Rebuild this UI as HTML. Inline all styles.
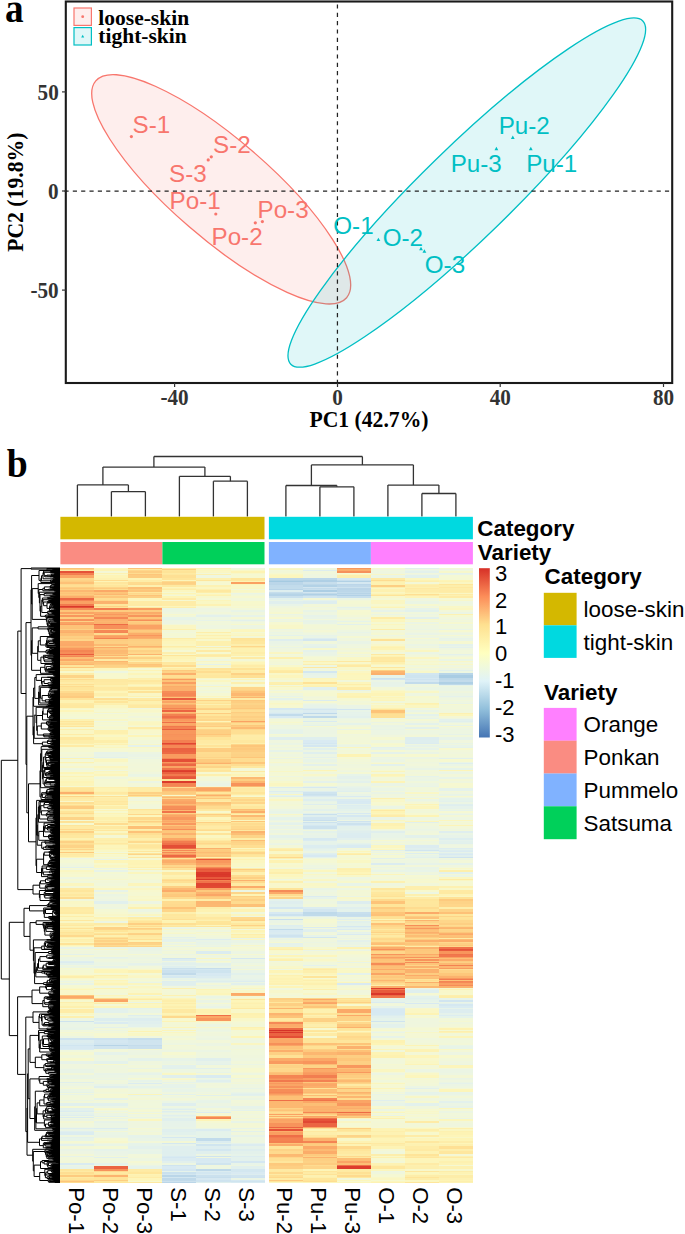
<!DOCTYPE html>
<html><head><meta charset="utf-8"><style>
html,body{margin:0;padding:0;background:#fff;width:685px;height:1234px;overflow:hidden}
svg{display:block;position:absolute;left:0;top:0}
body{position:relative}
</style></head><body>
<svg width="685" height="1234" viewBox="0 0 685 1234">
<text x="0" y="0" font-size="40.5" style="font-family:'Liberation Serif',serif;font-weight:bold" transform="translate(5.1 22.4) scale(0.92 1)">a</text>
<ellipse cx="221.2" cy="189.3" rx="165.8" ry="49.3" transform="rotate(40.85 221.2 189.3)" fill="#F8766D" fill-opacity="0.12" stroke="#F8766D" stroke-width="1.3"/>
<ellipse cx="466.8" cy="192.6" rx="245.8" ry="45.2" transform="rotate(-44.27 466.8 192.6)" fill="#00BFC4" fill-opacity="0.12" stroke="#00BFC4" stroke-width="1.3"/>
<line x1="337.44" y1="4.38" x2="337.44" y2="382" stroke="#222" stroke-width="1.25" stroke-dasharray="4.17 4.17"/>
<line x1="64.46" y1="191.1" x2="671" y2="191.1" stroke="#222" stroke-width="1.25" stroke-dasharray="4.17 4.17"/>
<circle cx="131.4" cy="136.6" r="1.6" fill="#F8766D"/>
<circle cx="208.2" cy="159.9" r="1.6" fill="#F8766D"/>
<circle cx="211.3" cy="156.8" r="1.6" fill="#F8766D"/>
<circle cx="215.8" cy="214" r="1.6" fill="#F8766D"/>
<circle cx="255.3" cy="222.8" r="1.6" fill="#F8766D"/>
<circle cx="262.4" cy="221.6" r="1.6" fill="#F8766D"/>
<path d="M512.8 135.60L514.70 139.00L510.90 139.00Z" fill="#00BFC4"/>
<path d="M496.4 146.80L498.30 150.20L494.50 150.20Z" fill="#00BFC4"/>
<path d="M530.8 146.80L532.70 150.20L528.90 150.20Z" fill="#00BFC4"/>
<path d="M378.4 237.70L380.30 241.10L376.50 241.10Z" fill="#00BFC4"/>
<path d="M421 246.80L422.90 250.20L419.10 250.20Z" fill="#00BFC4"/>
<path d="M424.4 249.30L426.30 252.70L422.50 252.70Z" fill="#00BFC4"/>
<text x="132.5" y="133.3" font-size="24.2" style="font-family:'Liberation Sans',sans-serif" text-anchor="start" fill="#F8766D" >S-1</text>
<text x="213.0" y="153.1" font-size="24.2" style="font-family:'Liberation Sans',sans-serif" text-anchor="start" fill="#F8766D" >S-2</text>
<text x="169.0" y="181.6" font-size="24.2" style="font-family:'Liberation Sans',sans-serif" text-anchor="start" fill="#F8766D" >S-3</text>
<text x="169.6" y="209.4" font-size="24.2" style="font-family:'Liberation Sans',sans-serif" text-anchor="start" fill="#F8766D" >Po-1</text>
<text x="211.5" y="244.6" font-size="24.2" style="font-family:'Liberation Sans',sans-serif" text-anchor="start" fill="#F8766D" >Po-2</text>
<text x="257.5" y="217.9" font-size="24.2" style="font-family:'Liberation Sans',sans-serif" text-anchor="start" fill="#F8766D" >Po-3</text>
<text x="498.7" y="134.1" font-size="24.2" style="font-family:'Liberation Sans',sans-serif" text-anchor="start" fill="#00BFC4" >Pu-2</text>
<text x="450.7" y="171.9" font-size="24.2" style="font-family:'Liberation Sans',sans-serif" text-anchor="start" fill="#00BFC4" >Pu-3</text>
<text x="526.2" y="171.9" font-size="24.2" style="font-family:'Liberation Sans',sans-serif" text-anchor="start" fill="#00BFC4" >Pu-1</text>
<text x="333.3" y="234.4" font-size="24.2" style="font-family:'Liberation Sans',sans-serif" text-anchor="start" fill="#00BFC4" >O-1</text>
<text x="382.7" y="245.6" font-size="24.2" style="font-family:'Liberation Sans',sans-serif" text-anchor="start" fill="#00BFC4" >O-2</text>
<text x="424.8" y="273.1" font-size="24.2" style="font-family:'Liberation Sans',sans-serif" text-anchor="start" fill="#00BFC4" >O-3</text>
<rect x="65.8" y="1.5" width="606.4" height="381.5" fill="none" stroke="#1a1a1a" stroke-width="2.1"/>
<line x1="62" y1="91.9" x2="66" y2="91.9" stroke="#333" stroke-width="1.2"/>
<text x="0" y="0" font-size="22.5" style="font-family:'Liberation Serif',serif;font-weight:bold" text-anchor="end" fill="#333" transform="translate(58.7 99.5) scale(0.94 1)">50</text>
<line x1="62" y1="191.0" x2="66" y2="191.0" stroke="#333" stroke-width="1.2"/>
<text x="0" y="0" font-size="22.5" style="font-family:'Liberation Serif',serif;font-weight:bold" text-anchor="end" fill="#333" transform="translate(58.7 198.6) scale(0.94 1)">0</text>
<line x1="62" y1="290.1" x2="66" y2="290.1" stroke="#333" stroke-width="1.2"/>
<text x="0" y="0" font-size="22.5" style="font-family:'Liberation Serif',serif;font-weight:bold" text-anchor="end" fill="#333" transform="translate(58.7 297.70000000000005) scale(0.94 1)">-50</text>
<line x1="174.6" y1="383" x2="174.6" y2="387" stroke="#333" stroke-width="1.2"/>
<text x="0" y="0" font-size="22.5" style="font-family:'Liberation Serif',serif;font-weight:bold" text-anchor="middle" fill="#333" transform="translate(174.6 405.1) scale(0.94 1)">-40</text>
<line x1="337.5" y1="383" x2="337.5" y2="387" stroke="#333" stroke-width="1.2"/>
<text x="0" y="0" font-size="22.5" style="font-family:'Liberation Serif',serif;font-weight:bold" text-anchor="middle" fill="#333" transform="translate(337.5 405.1) scale(0.94 1)">0</text>
<line x1="500.2" y1="383" x2="500.2" y2="387" stroke="#333" stroke-width="1.2"/>
<text x="0" y="0" font-size="22.5" style="font-family:'Liberation Serif',serif;font-weight:bold" text-anchor="middle" fill="#333" transform="translate(500.2 405.1) scale(0.94 1)">40</text>
<line x1="663.5" y1="383" x2="663.5" y2="387" stroke="#333" stroke-width="1.2"/>
<text x="0" y="0" font-size="22.5" style="font-family:'Liberation Serif',serif;font-weight:bold" text-anchor="middle" fill="#333" transform="translate(663.5 405.1) scale(0.94 1)">80</text>
<text x="0" y="0" font-size="23.2" style="font-family:'Liberation Serif',serif;font-weight:bold" text-anchor="middle" fill="#000" transform="translate(369 427) scale(0.935 1)">PC1 (42.7%)</text>
<text x="0" y="0" font-size="23.2" style="font-family:'Liberation Serif',serif;font-weight:bold" text-anchor="middle" transform="translate(23.2 192.2) rotate(-90) scale(0.935 1)">PC2 (19.8%)</text>
<rect x="74" y="8" width="17.4" height="17.4" fill="#F8766D" fill-opacity="0.12" stroke="#F8766D" stroke-width="1.2"/>
<rect x="74" y="27.6" width="17.4" height="17.4" fill="#00BFC4" fill-opacity="0.12" stroke="#00BFC4" stroke-width="1.2"/>
<circle cx="82.7" cy="16.7" r="1.4" fill="#F8766D"/>
<path d="M82.7 34.74L84.22 37.46L81.18 37.46Z" fill="#00BFC4"/>
<text x="98.3" y="24.5" font-size="21.5" style="font-family:'Liberation Serif',serif;font-weight:bold" text-anchor="start" fill="#000" >loose-skin</text>
<text x="98.3" y="43" font-size="21.5" style="font-family:'Liberation Serif',serif;font-weight:bold" text-anchor="start" fill="#000" >tight-skin</text>
<text x="0" y="0" font-size="41" style="font-family:'Liberation Serif',serif;font-weight:bold" transform="translate(6.7 477.4) scale(0.92 1)">b</text>
<line x1="111.4" y1="516.5" x2="111.4" y2="491.6" stroke="#333" stroke-width="1.3"/>
<line x1="145.4" y1="516.5" x2="145.4" y2="491.6" stroke="#333" stroke-width="1.3"/>
<line x1="111.4" y1="491.6" x2="145.4" y2="491.6" stroke="#333" stroke-width="1.3"/>
<line x1="77.4" y1="516.5" x2="77.4" y2="484.9" stroke="#333" stroke-width="1.3"/>
<line x1="128.4" y1="491.6" x2="128.4" y2="484.9" stroke="#333" stroke-width="1.3"/>
<line x1="77.4" y1="484.9" x2="128.4" y2="484.9" stroke="#333" stroke-width="1.3"/>
<line x1="213.4" y1="516.5" x2="213.4" y2="481.2" stroke="#333" stroke-width="1.3"/>
<line x1="247.4" y1="516.5" x2="247.4" y2="481.2" stroke="#333" stroke-width="1.3"/>
<line x1="213.4" y1="481.2" x2="247.4" y2="481.2" stroke="#333" stroke-width="1.3"/>
<line x1="179.4" y1="516.5" x2="179.4" y2="476.3" stroke="#333" stroke-width="1.3"/>
<line x1="230.4" y1="481.2" x2="230.4" y2="476.3" stroke="#333" stroke-width="1.3"/>
<line x1="179.4" y1="476.3" x2="230.4" y2="476.3" stroke="#333" stroke-width="1.3"/>
<line x1="102.9" y1="484.9" x2="102.9" y2="467.1" stroke="#333" stroke-width="1.3"/>
<line x1="204.9" y1="476.3" x2="204.9" y2="467.1" stroke="#333" stroke-width="1.3"/>
<line x1="102.9" y1="467.1" x2="204.9" y2="467.1" stroke="#333" stroke-width="1.3"/>
<line x1="319.9" y1="516.5" x2="319.9" y2="486.8" stroke="#333" stroke-width="1.3"/>
<line x1="353.9" y1="516.5" x2="353.9" y2="486.8" stroke="#333" stroke-width="1.3"/>
<line x1="319.9" y1="486.8" x2="353.9" y2="486.8" stroke="#333" stroke-width="1.3"/>
<line x1="285.9" y1="516.5" x2="285.9" y2="485.5" stroke="#333" stroke-width="1.3"/>
<line x1="336.9" y1="486.8" x2="336.9" y2="485.5" stroke="#333" stroke-width="1.3"/>
<line x1="285.9" y1="485.5" x2="336.9" y2="485.5" stroke="#333" stroke-width="1.3"/>
<line x1="421.9" y1="516.5" x2="421.9" y2="493.5" stroke="#333" stroke-width="1.3"/>
<line x1="455.9" y1="516.5" x2="455.9" y2="493.5" stroke="#333" stroke-width="1.3"/>
<line x1="421.9" y1="493.5" x2="455.9" y2="493.5" stroke="#333" stroke-width="1.3"/>
<line x1="387.9" y1="516.5" x2="387.9" y2="485.1" stroke="#333" stroke-width="1.3"/>
<line x1="438.9" y1="493.5" x2="438.9" y2="485.1" stroke="#333" stroke-width="1.3"/>
<line x1="387.9" y1="485.1" x2="438.9" y2="485.1" stroke="#333" stroke-width="1.3"/>
<line x1="311.4" y1="485.5" x2="311.4" y2="464.9" stroke="#333" stroke-width="1.3"/>
<line x1="413.4" y1="485.1" x2="413.4" y2="464.9" stroke="#333" stroke-width="1.3"/>
<line x1="311.4" y1="464.9" x2="413.4" y2="464.9" stroke="#333" stroke-width="1.3"/>
<line x1="153.9" y1="467.1" x2="153.9" y2="456.5" stroke="#333" stroke-width="1.3"/>
<line x1="362.4" y1="464.9" x2="362.4" y2="456.5" stroke="#333" stroke-width="1.3"/>
<line x1="153.9" y1="456.5" x2="362.4" y2="456.5" stroke="#333" stroke-width="1.3"/>
<rect x="60.4" y="516.8" width="204.1" height="22.5" fill="#D4B800"/>
<rect x="268.9" y="516.8" width="204" height="22.5" fill="#00D9E0"/>
<rect x="60.4" y="542" width="102" height="22.3" fill="#FA8C82"/>
<rect x="162.4" y="542" width="102.1" height="22.3" fill="#00D05A"/>
<rect x="268.9" y="542" width="102" height="22.3" fill="#80B2FF"/>
<rect x="370.9" y="542" width="102" height="22.3" fill="#FF80FF"/>
<text x="477.3" y="535.6" font-size="22.4" style="font-family:'Liberation Sans',sans-serif;font-weight:bold" text-anchor="start" fill="#000" >Category</text>
<text x="477.8" y="559.9" font-size="22.4" style="font-family:'Liberation Sans',sans-serif;font-weight:bold" text-anchor="start" fill="#000" >Variety</text>

<defs><linearGradient id="cb" x1="0" y1="0" x2="0" y2="1"><stop offset="0" stop-color="#D73027"/><stop offset="0.1667" stop-color="#FC8D59"/><stop offset="0.3333" stop-color="#FEE090"/><stop offset="0.5" stop-color="#FFFFBF"/><stop offset="0.6667" stop-color="#E0F3F8"/><stop offset="0.8333" stop-color="#91BFDB"/><stop offset="1" stop-color="#4575B4"/></linearGradient></defs>
<rect x="479" y="568.2" width="10.8" height="169.3" fill="url(#cb)"/>
<text x="495" y="580.7" font-size="22" style="font-family:'Liberation Sans',sans-serif" text-anchor="start" fill="#000" >3</text>
<text x="495" y="607.5500000000001" font-size="22" style="font-family:'Liberation Sans',sans-serif" text-anchor="start" fill="#000" >2</text>
<text x="495" y="634.4000000000001" font-size="22" style="font-family:'Liberation Sans',sans-serif" text-anchor="start" fill="#000" >1</text>
<text x="495" y="661.25" font-size="22" style="font-family:'Liberation Sans',sans-serif" text-anchor="start" fill="#000" >0</text>
<text x="495" y="688.1" font-size="22" style="font-family:'Liberation Sans',sans-serif" text-anchor="start" fill="#000" >-1</text>
<text x="495" y="714.95" font-size="22" style="font-family:'Liberation Sans',sans-serif" text-anchor="start" fill="#000" >-2</text>
<text x="495" y="741.8000000000001" font-size="22" style="font-family:'Liberation Sans',sans-serif" text-anchor="start" fill="#000" >-3</text>
<text x="544.6" y="583.8" font-size="22.4" style="font-family:'Liberation Sans',sans-serif;font-weight:bold" text-anchor="start" fill="#000" >Category</text>
<rect x="543.8" y="592.8" width="32.8" height="32.5" fill="#D4B800"/>
<rect x="543.8" y="625.3" width="32.8" height="32.6" fill="#00D9E0"/>
<text x="583.6" y="617.4" font-size="22.4" style="font-family:'Liberation Sans',sans-serif" text-anchor="start" fill="#000" >loose-skin</text>
<text x="583.6" y="649.8" font-size="22.4" style="font-family:'Liberation Sans',sans-serif" text-anchor="start" fill="#000" >tight-skin</text>
<text x="544" y="699.6" font-size="22.4" style="font-family:'Liberation Sans',sans-serif;font-weight:bold" text-anchor="start" fill="#000" >Variety</text>
<rect x="543.8" y="707.9" width="32.8" height="32.9" fill="#FF80FF"/>
<text x="583.6" y="732.4" font-size="22.4" style="font-family:'Liberation Sans',sans-serif" text-anchor="start" fill="#000" >Orange</text>
<rect x="543.8" y="740.6999999999999" width="32.8" height="32.9" fill="#FA8C82"/>
<text x="583.6" y="765.1999999999999" font-size="22.4" style="font-family:'Liberation Sans',sans-serif" text-anchor="start" fill="#000" >Ponkan</text>
<rect x="543.8" y="773.5" width="32.8" height="32.9" fill="#80B2FF"/>
<text x="583.6" y="798.0" font-size="22.4" style="font-family:'Liberation Sans',sans-serif" text-anchor="start" fill="#000" >Pummelo</text>
<rect x="543.8" y="806.3" width="32.8" height="32.9" fill="#00D05A"/>
<text x="583.6" y="830.8" font-size="22.4" style="font-family:'Liberation Sans',sans-serif" text-anchor="start" fill="#000" >Satsuma</text>
<text x="0" y="0" font-size="22.8" style="font-family:'Liberation Sans',sans-serif" transform="translate(68.90 1187.2) rotate(90) scale(0.974 1)">Po-1</text>
<text x="0" y="0" font-size="22.8" style="font-family:'Liberation Sans',sans-serif" transform="translate(102.90 1187.2) rotate(90) scale(0.974 1)">Po-2</text>
<text x="0" y="0" font-size="22.8" style="font-family:'Liberation Sans',sans-serif" transform="translate(136.90 1187.2) rotate(90) scale(0.974 1)">Po-3</text>
<text x="0" y="0" font-size="22.8" style="font-family:'Liberation Sans',sans-serif" transform="translate(170.90 1187.2) rotate(90) scale(0.974 1)">S-1</text>
<text x="0" y="0" font-size="22.8" style="font-family:'Liberation Sans',sans-serif" transform="translate(204.90 1187.2) rotate(90) scale(0.974 1)">S-2</text>
<text x="0" y="0" font-size="22.8" style="font-family:'Liberation Sans',sans-serif" transform="translate(238.90 1187.2) rotate(90) scale(0.974 1)">S-3</text>
<text x="0" y="0" font-size="22.8" style="font-family:'Liberation Sans',sans-serif" transform="translate(277.40 1187.2) rotate(90) scale(0.974 1)">Pu-2</text>
<text x="0" y="0" font-size="22.8" style="font-family:'Liberation Sans',sans-serif" transform="translate(311.40 1187.2) rotate(90) scale(0.974 1)">Pu-1</text>
<text x="0" y="0" font-size="22.8" style="font-family:'Liberation Sans',sans-serif" transform="translate(345.40 1187.2) rotate(90) scale(0.974 1)">Pu-3</text>
<text x="0" y="0" font-size="22.8" style="font-family:'Liberation Sans',sans-serif" transform="translate(379.40 1187.2) rotate(90) scale(0.974 1)">O-1</text>
<text x="0" y="0" font-size="22.8" style="font-family:'Liberation Sans',sans-serif" transform="translate(413.40 1187.2) rotate(90) scale(0.974 1)">O-2</text>
<text x="0" y="0" font-size="22.8" style="font-family:'Liberation Sans',sans-serif" transform="translate(447.40 1187.2) rotate(90) scale(0.974 1)">O-3</text>
<path d="M53.1 569.0H60.0M53.1 569.5H60.0M53.1 569.0V569.5M52.5 569.3H53.1M52.5 570.0H60.0M52.5 569.3V570.0M46.8 568.5H60.0M46.8 569.7H52.5M46.8 568.5V569.7M31.0 568.0H60.0M31.0 569.1H46.8M31.0 568.0V569.1M50.6 571.5H60.0M50.6 572.0H60.0M50.6 571.5V572.0M50.6 572.5H60.0M50.6 573.0H60.0M50.6 572.5V573.0M50.0 571.8H50.6M50.0 572.8H50.6M50.0 571.8V572.8M54.5 573.5H60.0M54.5 574.0H60.0M54.5 573.5V574.0M53.9 573.8H54.5M53.9 574.5H60.0M53.9 573.8V574.5M51.6 574.2H53.9M51.6 575.0H60.0M51.6 574.2V575.0M51.0 574.6H51.6M51.0 575.5H60.0M51.0 574.6V575.5M46.9 575.1H51.0M46.9 576.0H60.0M46.9 575.1V576.0M49.9 576.5H60.0M49.9 577.0H60.0M49.9 576.5V577.0M44.8 575.6H46.9M44.8 576.8H49.9M44.8 575.6V576.8M44.2 572.3H50.0M44.2 576.2H44.8M44.2 572.3V576.2M43.6 571.0H60.0M43.6 574.2H44.2M43.6 571.0V574.2M54.8 578.0H60.0M54.8 578.5H60.0M54.8 578.0V578.5M54.2 578.3H54.8M54.2 579.0H60.0M54.2 578.3V579.0M53.6 577.5H60.0M53.6 578.7H54.2M53.6 577.5V578.7M53.0 578.1H53.6M53.0 579.5H60.0M53.0 578.1V579.5M43.0 572.6H43.6M43.0 578.8H53.0M43.0 572.6V578.8M52.3 580.5H60.0M52.3 581.0H60.0M52.3 580.5V581.0M51.7 580.8H52.3M51.7 581.5H60.0M51.7 580.8V581.5M51.1 581.2H51.7M51.1 582.0H60.0M51.1 581.2V582.0M50.5 580.0H60.0M50.5 581.6H51.1M50.5 580.0V581.6M41.5 575.7H43.0M41.5 580.8H50.5M41.5 575.7V580.8M40.9 578.3H41.5M40.9 582.5H60.0M40.9 578.3V582.5M39.0 570.5H60.0M39.0 580.4H40.9M39.0 570.5V580.4M55.0 583.5H60.0M55.0 584.0H60.0M55.0 583.5V584.0M52.2 583.8H55.0M52.2 584.5H60.0M52.2 583.8V584.5M51.6 583.0H60.0M51.6 584.2H52.2M51.6 583.0V584.2M54.3 585.5H60.0M54.3 586.0H60.0M54.3 585.5V586.0M53.7 585.8H54.3M53.7 586.5H60.0M53.7 585.8V586.5M51.2 585.0H60.0M51.2 586.2H53.7M51.2 585.0V586.2M50.6 585.6H51.2M50.6 587.0H60.0M50.6 585.6V587.0M50.0 586.3H50.6M50.0 587.5H60.0M50.0 586.3V587.5M53.1 588.0H60.0M53.1 588.5H60.0M53.1 588.0V588.5M52.5 588.3H53.1M52.5 589.0H60.0M52.5 588.3V589.0M50.1 588.7H52.5M50.1 589.5H60.0M50.1 588.7V589.5M48.6 589.1H50.1M48.6 590.0H60.0M48.6 589.1V590.0M44.4 586.9H50.0M44.4 589.6H48.6M44.4 586.9V589.6M54.1 590.5H60.0M54.1 591.0H60.0M54.1 590.5V591.0M42.9 588.3H44.4M42.9 590.8H54.1M42.9 588.3V590.8M55.6 591.5H60.0M55.6 592.0H60.0M55.6 591.5V592.0M54.5 591.8H55.6M54.5 592.5H60.0M54.5 591.8V592.5M53.2 594.0H60.0M53.2 594.5H60.0M53.2 594.0V594.5M52.6 593.5H60.0M52.6 594.3H53.2M52.6 593.5V594.3M45.6 593.0H60.0M45.6 593.9H52.6M45.6 593.0V593.9M55.2 595.0H60.0M55.2 595.5H60.0M55.2 595.0V595.5M50.9 596.0H60.0M50.9 596.5H60.0M50.9 596.0V596.5M49.9 595.3H55.2M49.9 596.3H50.9M49.9 595.3V596.3M44.2 593.5H45.6M44.2 595.8H49.9M44.2 593.5V595.8M53.4 597.5H60.0M53.4 598.0H60.0M53.4 597.5V598.0M52.8 597.0H60.0M52.8 597.8H53.4M52.8 597.0V597.8M47.4 597.4H52.8M47.4 598.5H60.0M47.4 597.4V598.5M51.6 599.0H60.0M51.6 599.5H60.0M51.6 599.0V599.5M51.0 599.3H51.6M51.0 600.0H60.0M51.0 599.3V600.0M49.3 601.0H60.0M49.3 601.5H60.0M49.3 601.0V601.5M48.7 600.5H60.0M48.7 601.3H49.3M48.7 600.5V601.3M48.1 600.9H48.7M48.1 602.0H60.0M48.1 600.9V602.0M47.5 601.5H48.1M47.5 602.5H60.0M47.5 601.5V602.5M51.9 604.0H60.0M51.9 604.5H60.0M51.9 604.0V604.5M51.3 603.5H60.0M51.3 604.3H51.9M51.3 603.5V604.3M53.3 605.0H60.0M53.3 605.5H60.0M53.3 605.0V605.5M50.7 603.9H51.3M50.7 605.3H53.3M50.7 603.9V605.3M53.1 606.5H60.0M53.1 607.0H60.0M53.1 606.5V607.0M52.5 606.8H53.1M52.5 607.5H60.0M52.5 606.8V607.5M51.9 607.2H52.5M51.9 608.0H60.0M51.9 607.2V608.0M51.3 606.0H60.0M51.3 607.6H51.9M51.3 606.0V607.6M55.3 609.0H60.0M55.3 609.5H60.0M55.3 609.0V609.5M54.7 609.3H55.3M54.7 610.0H60.0M54.7 609.3V610.0M54.1 608.5H60.0M54.1 609.7H54.7M54.1 608.5V609.7M50.7 606.8H51.3M50.7 609.1H54.1M50.7 606.8V609.1M50.1 604.6H50.7M50.1 608.0H50.7M50.1 604.6V608.0M49.5 606.3H50.1M49.5 610.5H60.0M49.5 606.3V610.5M47.0 603.0H60.0M47.0 608.4H49.5M47.0 603.0V608.4M43.6 602.0H47.5M43.6 605.7H47.0M43.6 602.0V605.7M43.0 599.7H51.0M43.0 603.9H43.6M43.0 599.7V603.9M42.4 598.0H47.4M42.4 601.8H43.0M42.4 598.0V601.8M48.5 611.0H60.0M48.5 611.5H60.0M48.5 611.0V611.5M52.9 612.5H60.0M52.9 613.0H60.0M52.9 612.5V613.0M52.3 612.0H60.0M52.3 612.8H52.9M52.3 612.0V612.8M51.7 612.4H52.3M51.7 613.5H60.0M51.7 612.4V613.5M53.3 614.0H60.0M53.3 614.5H60.0M53.3 614.0V614.5M48.3 613.0H51.7M48.3 614.3H53.3M48.3 613.0V614.3M47.7 611.3H48.5M47.7 613.6H48.3M47.7 611.3V613.6M41.8 599.9H42.4M41.8 612.5H47.7M41.8 599.9V612.5M54.5 615.5H60.0M54.5 616.0H60.0M54.5 615.5V616.0M47.9 615.8H54.5M47.9 616.5H60.0M47.9 615.8V616.5M45.7 615.0H60.0M45.7 616.2H47.9M45.7 615.0V616.2M45.1 615.6H45.7M45.1 617.0H60.0M45.1 615.6V617.0M40.6 606.2H41.8M40.6 616.3H45.1M40.6 606.2V616.3M40.0 594.6H44.2M40.0 611.3H40.6M40.0 594.6V611.3M39.4 592.2H54.5M39.4 602.9H40.0M39.4 592.2V602.9M38.8 589.5H42.9M38.8 597.6H39.4M38.8 589.5V597.6M38.2 583.6H51.6M38.2 593.5H38.8M38.2 583.6V593.5M53.3 618.5H60.0M53.3 619.0H60.0M53.3 618.5V619.0M53.3 619.5H60.0M53.3 620.0H60.0M53.3 619.5V620.0M52.7 618.8H53.3M52.7 619.8H53.3M52.7 618.8V619.8M54.0 620.5H60.0M54.0 621.0H60.0M54.0 620.5V621.0M54.4 621.5H60.0M54.4 622.0H60.0M54.4 621.5V622.0M50.0 620.8H54.0M50.0 621.8H54.4M50.0 620.8V621.8M56.5 622.5H60.0M56.5 623.0H60.0M56.5 622.5V623.0M50.6 622.8H56.5M50.6 623.5H60.0M50.6 622.8V623.5M50.6 624.0H60.0M50.6 624.5H60.0M50.6 624.0V624.5M50.0 623.2H50.6M50.0 624.3H50.6M50.0 623.2V624.3M49.4 621.3H50.0M49.4 623.7H50.0M49.4 621.3V623.7M48.8 619.3H52.7M48.8 622.5H49.4M48.8 619.3V622.5M50.8 625.0H60.0M50.8 625.5H60.0M50.8 625.0V625.5M48.2 620.9H48.8M48.2 625.3H50.8M48.2 620.9V625.3M47.6 623.1H48.2M47.6 626.0H60.0M47.6 623.1V626.0M47.0 618.0H60.0M47.0 624.6H47.6M47.0 618.0V624.6M46.4 617.5H60.0M46.4 621.3H47.0M46.4 617.5V621.3M32.2 588.6H38.2M32.2 619.4H46.4M32.2 588.6V619.4M31.6 575.5H39.0M31.6 604.0H32.2M31.6 575.5V604.0M49.2 626.5H60.0M49.2 627.0H60.0M49.2 626.5V627.0M53.9 627.5H60.0M53.9 628.0H60.0M53.9 627.5V628.0M55.6 631.0H60.0M55.6 631.5H60.0M55.6 631.0V631.5M55.0 631.3H55.6M55.0 632.0H60.0M55.0 631.3V632.0M54.4 631.7H55.0M54.4 632.5H60.0M54.4 631.7V632.5M53.8 632.1H54.4M53.8 633.0H60.0M53.8 632.1V633.0M53.2 630.5H60.0M53.2 632.6H53.8M53.2 630.5V632.6M52.6 631.6H53.2M52.6 633.5H60.0M52.6 631.6V633.5M52.0 632.6H52.6M52.0 634.0H60.0M52.0 632.6V634.0M51.4 630.0H60.0M51.4 633.3H52.0M51.4 630.0V633.3M50.8 629.5H60.0M50.8 631.7H51.4M50.8 629.5V631.7M50.2 630.6H50.8M50.2 634.5H60.0M50.2 630.6V634.5M50.8 635.0H60.0M50.8 635.5H60.0M50.8 635.0V635.5M50.2 635.3H50.8M50.2 636.0H60.0M50.2 635.3V636.0M49.6 632.6H50.2M49.6 635.7H50.2M49.6 632.6V635.7M49.0 629.0H60.0M49.0 634.1H49.6M49.0 629.0V634.1M48.4 628.5H60.0M48.4 631.6H49.0M48.4 628.5V631.6M47.8 627.8H53.9M47.8 630.1H48.4M47.8 627.8V630.1M38.1 626.8H49.2M38.1 628.9H47.8M38.1 626.8V628.9M52.1 637.0H60.0M52.1 637.5H60.0M52.1 637.0V637.5M51.5 637.3H52.1M51.5 638.0H60.0M51.5 637.3V638.0M54.4 638.5H60.0M54.4 639.0H60.0M54.4 638.5V639.0M53.8 638.8H54.4M53.8 639.5H60.0M53.8 638.8V639.5M53.2 639.2H53.8M53.2 640.0H60.0M53.2 639.2V640.0M52.6 639.6H53.2M52.6 640.5H60.0M52.6 639.6V640.5M53.5 642.0H60.0M53.5 642.5H60.0M53.5 642.0V642.5M52.9 641.5H60.0M52.9 642.3H53.5M52.9 641.5V642.3M49.5 641.0H60.0M49.5 641.9H52.9M49.5 641.0V641.9M55.4 644.0H60.0M55.4 644.5H60.0M55.4 644.0V644.5M54.8 643.5H60.0M54.8 644.3H55.4M54.8 643.5V644.3M53.6 643.0H60.0M53.6 643.9H54.8M53.6 643.0V643.9M48.9 641.5H49.5M48.9 643.5H53.6M48.9 641.5V643.5M48.3 640.1H52.6M48.3 642.5H48.9M48.3 640.1V642.5M47.7 641.3H48.3M47.7 645.0H60.0M47.7 641.3V645.0M47.1 637.7H51.5M47.1 643.2H47.7M47.1 637.7V643.2M46.5 640.4H47.1M46.5 645.5H60.0M46.5 640.4V645.5M56.0 646.5H60.0M56.0 647.0H60.0M56.0 646.5V647.0M48.5 646.0H60.0M48.5 646.8H56.0M48.5 646.0V646.8M47.0 646.4H48.5M47.0 647.5H60.0M47.0 646.4V647.5M45.9 643.0H46.5M45.9 647.0H47.0M45.9 643.0V647.0M40.3 636.5H60.0M40.3 645.0H45.9M40.3 636.5V645.0M53.9 648.5H60.0M53.9 649.0H60.0M53.9 648.5V649.0M51.9 648.8H53.9M51.9 649.5H60.0M51.9 648.8V649.5M51.3 648.0H60.0M51.3 649.2H51.9M51.3 648.0V649.2M49.7 648.6H51.3M49.7 650.0H60.0M49.7 648.6V650.0M49.1 649.3H49.7M49.1 650.5H60.0M49.1 649.3V650.5M46.6 649.9H49.1M46.6 651.0H60.0M46.6 649.9V651.0M49.2 652.0H60.0M49.2 652.5H60.0M49.2 652.0V652.5M48.6 652.3H49.2M48.6 653.0H60.0M48.6 652.3V653.0M48.0 651.5H60.0M48.0 652.7H48.6M48.0 651.5V652.7M52.9 654.0H60.0M52.9 654.5H60.0M52.9 654.0V654.5M49.2 653.5H60.0M49.2 654.3H52.9M49.2 653.5V654.3M47.4 652.1H48.0M47.4 653.9H49.2M47.4 652.1V653.9M46.0 650.5H46.6M46.0 653.0H47.4M46.0 650.5V653.0M38.3 640.8H40.3M38.3 651.8H46.0M38.3 640.8V651.8M54.1 655.0H60.0M54.1 655.5H60.0M54.1 655.0V655.5M53.2 656.5H60.0M53.2 657.0H60.0M53.2 656.5V657.0M53.5 657.5H60.0M53.5 658.0H60.0M53.5 657.5V658.0M48.3 657.8H53.5M48.3 658.5H60.0M48.3 657.8V658.5M47.7 656.8H53.2M47.7 658.2H48.3M47.7 656.8V658.2M45.1 656.0H60.0M45.1 657.5H47.7M45.1 656.0V657.5M52.9 659.5H60.0M52.9 660.0H60.0M52.9 659.5V660.0M52.3 659.0H60.0M52.3 659.8H52.9M52.3 659.0V659.8M51.7 659.4H52.3M51.7 660.5H60.0M51.7 659.4V660.5M54.0 662.0H60.0M54.0 662.5H60.0M54.0 662.0V662.5M53.4 661.5H60.0M53.4 662.3H54.0M53.4 661.5V662.3M52.8 661.9H53.4M52.8 663.0H60.0M52.8 661.9V663.0M52.2 661.0H60.0M52.2 662.5H52.8M52.2 661.0V662.5M44.6 660.0H51.7M44.6 661.8H52.2M44.6 660.0V661.8M44.0 656.8H45.1M44.0 660.9H44.6M44.0 656.8V660.9M43.4 655.3H54.1M43.4 658.8H44.0M43.4 655.3V658.8M40.9 657.1H43.4M40.9 663.5H60.0M40.9 657.1V663.5M37.7 646.3H38.3M37.7 660.3H40.9M37.7 646.3V660.3M32.2 627.9H38.1M32.2 653.3H37.7M32.2 627.9V653.3M53.6 664.5H60.0M53.6 665.0H60.0M53.6 664.5V665.0M53.0 664.0H60.0M53.0 664.8H53.6M53.0 664.0V664.8M53.5 666.0H60.0M53.5 666.5H60.0M53.5 666.0V666.5M52.9 665.5H60.0M52.9 666.3H53.5M52.9 665.5V666.3M52.8 667.0H60.0M52.8 667.5H60.0M52.8 667.0V667.5M50.7 665.9H52.9M50.7 667.3H52.8M50.7 665.9V667.3M51.7 668.0H60.0M51.7 668.5H60.0M51.7 668.0V668.5M51.1 668.3H51.7M51.1 669.0H60.0M51.1 668.3V669.0M48.1 668.7H51.1M48.1 669.5H60.0M48.1 668.7V669.5M47.5 669.1H48.1M47.5 670.0H60.0M47.5 669.1V670.0M55.1 670.5H60.0M55.1 671.0H60.0M55.1 670.5V671.0M46.9 669.6H47.5M46.9 670.8H55.1M46.9 669.6V670.8M46.3 666.6H50.7M46.3 670.2H46.9M46.3 666.6V670.2M49.1 672.0H60.0M49.1 672.5H60.0M49.1 672.0V672.5M48.5 671.5H60.0M48.5 672.3H49.1M48.5 671.5V672.3M45.7 668.4H46.3M45.7 671.9H48.5M45.7 668.4V671.9M44.9 664.4H53.0M44.9 670.2H45.7M44.9 664.4V670.2M52.2 673.0H60.0M52.2 673.5H60.0M52.2 673.0V673.5M40.5 667.3H44.9M40.5 673.3H52.2M40.5 667.3V673.3M31.6 640.6H32.2M31.6 670.3H40.5M31.6 640.6V670.3M31.0 589.7H31.6M31.0 655.4H31.6M31.0 589.7V655.4M55.2 675.0H60.0M55.2 675.5H60.0M55.2 675.0V675.5M55.2 676.0H60.0M55.2 676.5H60.0M55.2 676.0V676.5M54.6 675.3H55.2M54.6 676.3H55.2M54.6 675.3V676.3M54.0 674.5H60.0M54.0 675.8H54.6M54.0 674.5V675.8M53.4 674.0H60.0M53.4 675.2H54.0M53.4 674.0V675.2M47.2 677.0H60.0M47.2 677.5H60.0M47.2 677.0V677.5M51.7 678.0H60.0M51.7 678.5H60.0M51.7 678.0V678.5M51.1 678.3H51.7M51.1 679.0H60.0M51.1 678.3V679.0M52.7 679.5H60.0M52.7 680.0H60.0M52.7 679.5V680.0M52.1 679.8H52.7M52.1 680.5H60.0M52.1 679.8V680.5M52.9 681.5H60.0M52.9 682.0H60.0M52.9 681.5V682.0M51.7 681.0H60.0M51.7 681.8H52.9M51.7 681.0V681.8M51.1 680.2H52.1M51.1 681.4H51.7M51.1 680.2V681.4M50.5 678.7H51.1M50.5 680.8H51.1M50.5 678.7V680.8M51.7 682.5H60.0M51.7 683.0H60.0M51.7 682.5V683.0M52.7 683.5H60.0M52.7 684.0H60.0M52.7 683.5V684.0M51.4 684.5H60.0M51.4 685.0H60.0M51.4 684.5V685.0M50.8 683.8H52.7M50.8 684.8H51.4M50.8 683.8V684.8M47.9 682.8H51.7M47.9 684.3H50.8M47.9 682.8V684.3M44.1 679.7H50.5M44.1 683.5H47.9M44.1 679.7V683.5M42.1 681.6H44.1M42.1 685.5H60.0M42.1 681.6V685.5M41.5 677.3H47.2M41.5 683.6H42.1M41.5 677.3V683.6M36.2 674.6H53.4M36.2 680.4H41.5M36.2 674.6V680.4M51.2 686.5H60.0M51.2 687.0H60.0M51.2 686.5V687.0M49.3 687.5H60.0M49.3 688.0H60.0M49.3 687.5V688.0M48.7 686.8H51.2M48.7 687.8H49.3M48.7 686.8V687.8M57.8 689.5H60.0M57.8 690.0H60.0M57.8 689.5V690.0M57.2 689.8H57.8M57.2 690.5H60.0M57.2 689.8V690.5M51.4 689.0H60.0M51.4 690.2H57.2M51.4 689.0V690.2M50.8 688.5H60.0M50.8 689.6H51.4M50.8 688.5V689.6M54.0 691.0H60.0M54.0 691.5H60.0M54.0 691.0V691.5M50.2 689.1H50.8M50.2 691.3H54.0M50.2 689.1V691.3M49.6 690.2H50.2M49.6 692.0H60.0M49.6 690.2V692.0M54.4 693.0H60.0M54.4 693.5H60.0M54.4 693.0V693.5M53.8 692.5H60.0M53.8 693.3H54.4M53.8 692.5V693.3M52.0 694.0H60.0M52.0 694.5H60.0M52.0 694.0V694.5M51.4 694.3H52.0M51.4 695.0H60.0M51.4 694.3V695.0M50.8 692.9H53.8M50.8 694.7H51.4M50.8 692.9V694.7M51.0 695.5H60.0M51.0 696.0H60.0M51.0 695.5V696.0M50.2 693.8H50.8M50.2 695.8H51.0M50.2 693.8V695.8M49.6 694.8H50.2M49.6 696.5H60.0M49.6 694.8V696.5M49.0 691.1H49.6M49.0 695.7H49.6M49.0 691.1V695.7M52.1 697.5H60.0M52.1 698.0H60.0M52.1 697.5V698.0M51.5 697.8H52.1M51.5 698.5H60.0M51.5 697.8V698.5M50.9 697.0H60.0M50.9 698.2H51.5M50.9 697.0V698.2M48.4 693.4H49.0M48.4 697.6H50.9M48.4 693.4V697.6M52.5 700.0H60.0M52.5 700.5H60.0M52.5 700.0V700.5M50.2 699.5H60.0M50.2 700.3H52.5M50.2 699.5V700.3M49.6 699.9H50.2M49.6 701.0H60.0M49.6 699.9V701.0M49.0 699.0H60.0M49.0 700.5H49.6M49.0 699.0V700.5M49.1 702.0H60.0M49.1 702.5H60.0M49.1 702.0V702.5M48.5 701.5H60.0M48.5 702.3H49.1M48.5 701.5V702.3M45.4 699.8H49.0M45.4 701.9H48.5M45.4 699.8V701.9M42.1 695.5H48.4M42.1 700.8H45.4M42.1 695.5V700.8M40.4 687.3H48.7M40.4 698.2H42.1M40.4 687.3V698.2M39.8 692.7H40.4M39.8 703.0H60.0M39.8 692.7V703.0M39.2 686.0H60.0M39.2 697.9H39.8M39.2 686.0V697.9M50.4 704.5H60.0M50.4 705.0H60.0M50.4 704.5V705.0M49.3 704.0H60.0M49.3 704.8H50.4M49.3 704.0V704.8M48.7 703.5H60.0M48.7 704.4H49.3M48.7 703.5V704.4M47.9 704.0H48.7M47.9 705.5H60.0M47.9 704.0V705.5M38.6 692.0H39.2M38.6 704.8H47.9M38.6 692.0V704.8M34.8 677.5H36.2M34.8 698.4H38.6M34.8 677.5V698.4M45.8 706.0H60.0M45.8 706.5H60.0M45.8 706.0V706.5M33.6 688.0H34.8M33.6 706.3H45.8M33.6 688.0V706.3M53.3 707.0H60.0M53.3 707.5H60.0M53.3 707.0V707.5M52.9 709.5H60.0M52.9 710.0H60.0M52.9 709.5V710.0M52.3 709.0H60.0M52.3 709.8H52.9M52.3 709.0V709.8M51.7 709.4H52.3M51.7 710.5H60.0M51.7 709.4V710.5M48.7 708.5H60.0M48.7 710.0H51.7M48.7 708.5V710.0M52.6 712.5H60.0M52.6 713.0H60.0M52.6 712.5V713.0M52.3 714.5H60.0M52.3 715.0H60.0M52.3 714.5V715.0M51.7 714.0H60.0M51.7 714.8H52.3M51.7 714.0V714.8M51.1 713.5H60.0M51.1 714.4H51.7M51.1 713.5V714.4M50.5 712.8H52.6M50.5 714.0H51.1M50.5 712.8V714.0M49.9 712.0H60.0M49.9 713.4H50.5M49.9 712.0V713.4M49.3 711.5H60.0M49.3 712.7H49.9M49.3 711.5V712.7M48.7 711.0H60.0M48.7 712.1H49.3M48.7 711.0V712.1M48.1 709.3H48.7M48.1 711.6H48.7M48.1 709.3V711.6M52.6 716.0H60.0M52.6 716.5H60.0M52.6 716.0V716.5M50.4 715.5H60.0M50.4 716.3H52.6M50.4 715.5V716.3M53.4 717.5H60.0M53.4 718.0H60.0M53.4 717.5V718.0M50.4 717.0H60.0M50.4 717.8H53.4M50.4 717.0V717.8M49.8 715.9H50.4M49.8 717.4H50.4M49.8 715.9V717.4M52.9 718.5H60.0M52.9 719.0H60.0M52.9 718.5V719.0M49.2 716.7H49.8M49.2 718.8H52.9M49.2 716.7V718.8M47.5 710.4H48.1M47.5 717.7H49.2M47.5 710.4V717.7M43.1 708.0H60.0M43.1 714.1H47.5M43.1 708.0V714.1M50.7 720.0H60.0M50.7 720.5H60.0M50.7 720.0V720.5M48.9 719.5H60.0M48.9 720.3H50.7M48.9 719.5V720.3M42.5 711.1H43.1M42.5 719.9H48.9M42.5 711.1V719.9M57.1 721.0H60.0M57.1 721.5H60.0M57.1 721.0V721.5M50.5 722.0H60.0M50.5 722.5H60.0M50.5 722.0V722.5M47.6 721.3H57.1M47.6 722.3H50.5M47.6 721.3V722.3M50.3 723.5H60.0M50.3 724.0H60.0M50.3 723.5V724.0M49.7 723.8H50.3M49.7 724.5H60.0M49.7 723.8V724.5M52.5 725.0H60.0M52.5 725.5H60.0M52.5 725.0V725.5M49.7 725.3H52.5M49.7 726.0H60.0M49.7 725.3V726.0M49.1 724.2H49.7M49.1 725.7H49.7M49.1 724.2V725.7M48.5 724.9H49.1M48.5 726.5H60.0M48.5 724.9V726.5M47.9 723.0H60.0M47.9 725.7H48.5M47.9 723.0V725.7M46.5 721.8H47.6M46.5 724.4H47.9M46.5 721.8V724.4M49.3 727.0H60.0M49.3 727.5H60.0M49.3 727.0V727.5M53.4 728.0H60.0M53.4 728.5H60.0M53.4 728.0V728.5M48.7 727.3H49.3M48.7 728.3H53.4M48.7 727.3V728.3M52.2 729.5H60.0M52.2 730.0H60.0M52.2 729.5V730.0M49.5 729.0H60.0M49.5 729.8H52.2M49.5 729.0V729.8M51.3 731.0H60.0M51.3 731.5H60.0M51.3 731.0V731.5M49.5 730.5H60.0M49.5 731.3H51.3M49.5 730.5V731.3M48.9 729.4H49.5M48.9 730.9H49.5M48.9 729.4V730.9M48.1 727.8H48.7M48.1 730.2H48.9M48.1 727.8V730.2M41.3 723.1H46.5M41.3 729.0H48.1M41.3 723.1V729.0M51.6 732.0H60.0M51.6 732.5H60.0M51.6 732.0V732.5M52.8 733.0H60.0M52.8 733.5H60.0M52.8 733.0V733.5M51.0 732.3H51.6M51.0 733.3H52.8M51.0 732.3V733.3M50.4 732.8H51.0M50.4 734.0H60.0M50.4 732.8V734.0M49.8 733.4H50.4M49.8 734.5H60.0M49.8 733.4V734.5M54.1 735.0H60.0M54.1 735.5H60.0M54.1 735.0V735.5M50.7 736.0H60.0M50.7 736.5H60.0M50.7 736.0V736.5M53.2 737.0H60.0M53.2 737.5H60.0M53.2 737.0V737.5M48.8 736.3H50.7M48.8 737.3H53.2M48.8 736.3V737.3M44.0 735.3H54.1M44.0 736.8H48.8M44.0 735.3V736.8M43.4 734.0H49.8M43.4 736.0H44.0M43.4 734.0V736.0M37.3 726.0H41.3M37.3 735.0H43.4M37.3 726.0V735.0M36.7 715.5H42.5M36.7 730.5H37.3M36.7 715.5V730.5M36.1 707.3H53.3M36.1 723.0H36.7M36.1 707.3V723.0M50.4 738.0H60.0M50.4 738.5H60.0M50.4 738.0V738.5M34.2 715.2H36.1M34.2 738.3H50.4M34.2 715.2V738.3M56.0 739.5H60.0M56.0 740.0H60.0M56.0 739.5V740.0M52.6 739.0H60.0M52.6 739.8H56.0M52.6 739.0V739.8M52.0 739.4H52.6M52.0 740.5H60.0M52.0 739.4V740.5M51.6 741.5H60.0M51.6 742.0H60.0M51.6 741.5V742.0M51.0 741.0H60.0M51.0 741.8H51.6M51.0 741.0V741.8M48.1 740.0H52.0M48.1 741.4H51.0M48.1 740.0V741.4M53.0 742.5H60.0M53.0 743.0H60.0M53.0 742.5V743.0M51.7 743.5H60.0M51.7 744.0H60.0M51.7 743.5V744.0M51.1 743.8H51.7M51.1 744.5H60.0M51.1 743.8V744.5M50.5 742.8H53.0M50.5 744.2H51.1M50.5 742.8V744.2M47.5 740.7H48.1M47.5 743.5H50.5M47.5 740.7V743.5M53.3 745.0H60.0M53.3 745.5H60.0M53.3 745.0V745.5M42.4 742.1H47.5M42.4 745.3H53.3M42.4 742.1V745.3M33.6 726.7H34.2M33.6 743.7H42.4M33.6 726.7V743.7M33.0 697.1H33.6M33.0 735.2H33.6M33.0 697.1V735.2M50.9 747.0H60.0M50.9 747.5H60.0M50.9 747.0V747.5M49.6 747.3H50.9M49.6 748.0H60.0M49.6 747.3V748.0M49.0 746.5H60.0M49.0 747.7H49.6M49.0 746.5V747.7M48.4 746.0H60.0M48.4 747.1H49.0M48.4 746.0V747.1M54.2 749.5H60.0M54.2 750.0H60.0M54.2 749.5V750.0M53.6 749.0H60.0M53.6 749.8H54.2M53.6 749.0V749.8M53.0 749.4H53.6M53.0 750.5H60.0M53.0 749.4V750.5M52.1 748.5H60.0M52.1 750.0H53.0M52.1 748.5V750.0M50.4 751.5H60.0M50.4 752.0H60.0M50.4 751.5V752.0M49.8 751.8H50.4M49.8 752.5H60.0M49.8 751.8V752.5M49.2 752.2H49.8M49.2 753.0H60.0M49.2 752.2V753.0M47.1 751.0H60.0M47.1 752.6H49.2M47.1 751.0V752.6M46.5 751.8H47.1M46.5 753.5H60.0M46.5 751.8V753.5M51.8 755.0H60.0M51.8 755.5H60.0M51.8 755.0V755.5M51.2 754.5H60.0M51.2 755.3H51.8M51.2 754.5V755.3M50.6 754.9H51.2M50.6 756.0H60.0M50.6 754.9V756.0M48.6 755.5H50.6M48.6 756.5H60.0M48.6 755.5V756.5M48.0 754.0H60.0M48.0 756.0H48.6M48.0 754.0V756.0M45.9 752.7H46.5M45.9 755.0H48.0M45.9 752.7V755.0M53.1 758.5H60.0M53.1 759.0H60.0M53.1 758.5V759.0M50.3 758.0H60.0M50.3 758.8H53.1M50.3 758.0V758.8M49.7 757.5H60.0M49.7 758.4H50.3M49.7 757.5V758.4M49.1 757.0H60.0M49.1 758.0H49.7M49.1 757.0V758.0M51.1 760.0H60.0M51.1 760.5H60.0M51.1 760.0V760.5M57.7 761.0H60.0M57.7 761.5H60.0M57.7 761.0V761.5M50.5 760.3H51.1M50.5 761.3H57.7M50.5 760.3V761.3M49.9 759.5H60.0M49.9 760.8H50.5M49.9 759.5V760.8M48.3 762.0H60.0M48.3 762.5H60.0M48.3 762.0V762.5M54.5 763.5H60.0M54.5 764.0H60.0M54.5 763.5V764.0M48.9 763.0H60.0M48.9 763.8H54.5M48.9 763.0V763.8M51.4 764.5H60.0M51.4 765.0H60.0M51.4 764.5V765.0M50.8 764.8H51.4M50.8 765.5H60.0M50.8 764.8V765.5M50.8 766.0H60.0M50.8 766.5H60.0M50.8 766.0V766.5M50.2 765.2H50.8M50.2 766.3H50.8M50.2 765.2V766.3M48.3 763.4H48.9M48.3 765.7H50.2M48.3 763.4V765.7M47.7 762.3H48.3M47.7 764.6H48.3M47.7 762.3V764.6M47.1 763.4H47.7M47.1 767.0H60.0M47.1 763.4V767.0M46.5 760.2H49.9M46.5 765.2H47.1M46.5 760.2V765.2M45.9 757.5H49.1M45.9 762.7H46.5M45.9 757.5V762.7M45.3 753.9H45.9M45.3 760.1H45.9M45.3 753.9V760.1M43.6 757.0H45.3M43.6 767.5H60.0M43.6 757.0V767.5M43.0 762.3H43.6M43.0 768.0H60.0M43.0 762.3V768.0M50.7 770.0H60.0M50.7 770.5H60.0M50.7 770.0V770.5M50.1 769.5H60.0M50.1 770.3H50.7M50.1 769.5V770.3M49.5 769.0H60.0M49.5 769.9H50.1M49.5 769.0V769.9M51.3 772.0H60.0M51.3 772.5H60.0M51.3 772.0V772.5M50.7 771.5H60.0M50.7 772.3H51.3M50.7 771.5V772.3M50.1 771.9H50.7M50.1 773.0H60.0M50.1 771.9V773.0M49.5 771.0H60.0M49.5 772.5H50.1M49.5 771.0V772.5M48.1 771.8H49.5M48.1 773.5H60.0M48.1 771.8V773.5M46.1 772.7H48.1M46.1 774.0H60.0M46.1 772.7V774.0M53.1 774.5H60.0M53.1 775.0H60.0M53.1 774.5V775.0M53.1 776.5H60.0M53.1 777.0H60.0M53.1 776.5V777.0M50.9 776.0H60.0M50.9 776.8H53.1M50.9 776.0V776.8M50.3 775.5H60.0M50.3 776.4H50.9M50.3 775.5V776.4M46.1 774.8H53.1M46.1 776.0H50.3M46.1 774.8V776.0M45.5 773.4H46.1M45.5 775.4H46.1M45.5 773.4V775.4M44.9 769.5H49.5M44.9 774.4H45.5M44.9 769.5V774.4M44.3 768.5H60.0M44.3 771.9H44.9M44.3 768.5V771.9M43.7 770.2H44.3M43.7 777.5H60.0M43.7 770.2V777.5M54.1 779.0H60.0M54.1 779.5H60.0M54.1 779.0V779.5M49.0 778.5H60.0M49.0 779.3H54.1M49.0 778.5V779.3M47.8 778.0H60.0M47.8 778.9H49.0M47.8 778.0V778.9M55.9 780.0H60.0M55.9 780.5H60.0M55.9 780.0V780.5M55.3 780.3H55.9M55.3 781.0H60.0M55.3 780.3V781.0M54.7 780.7H55.3M54.7 781.5H60.0M54.7 780.7V781.5M54.1 781.1H54.7M54.1 782.0H60.0M54.1 781.1V782.0M46.3 778.5H47.8M46.3 781.6H54.1M46.3 778.5V781.6M55.7 783.5H60.0M55.7 784.0H60.0M55.7 783.5V784.0M55.7 784.5H60.0M55.7 785.0H60.0M55.7 784.5V785.0M55.1 783.8H55.7M55.1 784.8H55.7M55.1 783.8V784.8M54.5 784.3H55.1M54.5 785.5H60.0M54.5 784.3V785.5M50.2 783.0H60.0M50.2 784.9H54.5M50.2 783.0V784.9M45.9 782.5H60.0M45.9 784.0H50.2M45.9 782.5V784.0M45.3 780.0H46.3M45.3 783.3H45.9M45.3 780.0V783.3M50.2 786.0H60.0M50.2 786.5H60.0M50.2 786.0V786.5M44.7 781.7H45.3M44.7 786.3H50.2M44.7 781.7V786.3M43.1 773.9H43.7M43.1 784.0H44.7M43.1 773.9V784.0M42.4 765.2H43.0M42.4 778.9H43.1M42.4 765.2V778.9M41.8 749.3H52.1M41.8 772.0H42.4M41.8 749.3V772.0M41.2 746.6H48.4M41.2 760.7H41.8M41.2 746.6V760.7M54.4 787.0H60.0M54.4 787.5H60.0M54.4 787.0V787.5M53.8 787.3H54.4M53.8 788.0H60.0M53.8 787.3V788.0M40.6 753.6H41.2M40.6 787.7H53.8M40.6 753.6V787.7M49.7 788.5H60.0M49.7 789.0H60.0M49.7 788.5V789.0M54.0 790.0H60.0M54.0 790.5H60.0M54.0 790.0V790.5M53.4 789.5H60.0M53.4 790.3H54.0M53.4 789.5V790.3M49.1 788.8H49.7M49.1 789.9H53.4M49.1 788.8V789.9M50.3 791.0H60.0M50.3 791.5H60.0M50.3 791.0V791.5M49.7 791.3H50.3M49.7 792.0H60.0M49.7 791.3V792.0M49.1 791.7H49.7M49.1 792.5H60.0M49.1 791.7V792.5M47.1 789.4H49.1M47.1 792.1H49.1M47.1 789.4V792.1M46.5 790.7H47.1M46.5 793.0H60.0M46.5 790.7V793.0M45.9 791.9H46.5M45.9 793.5H60.0M45.9 791.9V793.5M51.7 795.0H60.0M51.7 795.5H60.0M51.7 795.0V795.5M50.3 795.3H51.7M50.3 796.0H60.0M50.3 795.3V796.0M46.9 794.5H60.0M46.9 795.7H50.3M46.9 794.5V795.7M52.1 796.5H60.0M52.1 797.0H60.0M52.1 796.5V797.0M52.0 797.5H60.0M52.0 798.0H60.0M52.0 797.5V798.0M47.2 796.8H52.1M47.2 797.8H52.0M47.2 796.8V797.8M45.8 795.1H46.9M45.8 797.3H47.2M45.8 795.1V797.3M52.9 798.5H60.0M52.9 799.0H60.0M52.9 798.5V799.0M45.2 796.2H45.8M45.2 798.8H52.9M45.2 796.2V798.8M42.3 794.0H60.0M42.3 797.5H45.2M42.3 794.0V797.5M41.7 792.7H45.9M41.7 795.8H42.3M41.7 792.7V795.8M41.1 794.2H41.7M41.1 799.5H60.0M41.1 794.2V799.5M40.0 770.6H40.6M40.0 796.9H41.1M40.0 770.6V796.9M51.1 800.5H60.0M51.1 801.0H60.0M51.1 800.5V801.0M48.1 800.0H60.0M48.1 800.8H51.1M48.1 800.0V800.8M52.9 804.5H60.0M52.9 805.0H60.0M52.9 804.5V805.0M51.0 804.0H60.0M51.0 804.8H52.9M51.0 804.0V804.8M50.4 803.5H60.0M50.4 804.4H51.0M50.4 803.5V804.4M49.8 803.0H60.0M49.8 804.0H50.4M49.8 803.0V804.0M49.8 805.5H60.0M49.8 806.0H60.0M49.8 805.5V806.0M49.2 803.5H49.8M49.2 805.8H49.8M49.2 803.5V805.8M44.5 802.5H60.0M44.5 804.7H49.2M44.5 802.5V804.7M52.1 807.0H60.0M52.1 807.5H60.0M52.1 807.0V807.5M51.5 806.5H60.0M51.5 807.3H52.1M51.5 806.5V807.3M53.9 809.0H60.0M53.9 809.5H60.0M53.9 809.0V809.5M51.2 808.5H60.0M51.2 809.3H53.9M51.2 808.5V809.3M50.6 808.0H60.0M50.6 808.9H51.2M50.6 808.0V808.9M47.6 806.9H51.5M47.6 808.5H50.6M47.6 806.9V808.5M43.9 803.6H44.5M43.9 807.7H47.6M43.9 803.6V807.7M53.7 811.0H60.0M53.7 811.5H60.0M53.7 811.0V811.5M53.1 810.5H60.0M53.1 811.3H53.7M53.1 810.5V811.3M49.4 810.9H53.1M49.4 812.0H60.0M49.4 810.9V812.0M47.9 810.0H60.0M47.9 811.5H49.4M47.9 810.0V811.5M53.4 813.0H60.0M53.4 813.5H60.0M53.4 813.0V813.5M52.8 812.5H60.0M52.8 813.3H53.4M52.8 812.5V813.3M53.8 815.0H60.0M53.8 815.5H60.0M53.8 815.0V815.5M49.8 814.5H60.0M49.8 815.3H53.8M49.8 814.5V815.3M49.2 814.0H60.0M49.2 814.9H49.8M49.2 814.0V814.9M47.0 812.9H52.8M47.0 814.5H49.2M47.0 812.9V814.5M46.3 813.7H47.0M46.3 816.0H60.0M46.3 813.7V816.0M41.4 810.8H47.9M41.4 814.9H46.3M41.4 810.8V814.9M40.8 805.7H43.9M40.8 812.8H41.4M40.8 805.7V812.8M40.2 802.0H60.0M40.2 809.2H40.8M40.2 802.0V809.2M53.6 816.5H60.0M53.6 817.0H60.0M53.6 816.5V817.0M54.2 818.0H60.0M54.2 818.5H60.0M54.2 818.0V818.5M54.2 819.0H60.0M54.2 819.5H60.0M54.2 819.0V819.5M53.6 818.3H54.2M53.6 819.3H54.2M53.6 818.3V819.3M53.0 817.5H60.0M53.0 818.8H53.6M53.0 817.5V818.8M48.2 816.8H53.6M48.2 818.2H53.0M48.2 816.8V818.2M55.0 820.5H60.0M55.0 821.0H60.0M55.0 820.5V821.0M48.2 820.0H60.0M48.2 820.8H55.0M48.2 820.0V820.8M47.6 817.5H48.2M47.6 820.4H48.2M47.6 817.5V820.4M39.6 805.6H40.2M39.6 819.0H47.6M39.6 805.6V819.0M39.0 801.5H60.0M39.0 812.3H39.6M39.0 801.5V812.3M53.2 821.5H60.0M53.2 822.0H60.0M53.2 821.5V822.0M50.8 821.8H53.2M50.8 822.5H60.0M50.8 821.8V822.5M38.4 806.9H39.0M38.4 822.2H50.8M38.4 806.9V822.2M55.5 824.0H60.0M55.5 824.5H60.0M55.5 824.0V824.5M54.9 823.5H60.0M54.9 824.3H55.5M54.9 823.5V824.3M54.3 823.9H54.9M54.3 825.0H60.0M54.3 823.9V825.0M54.5 826.0H60.0M54.5 826.5H60.0M54.5 826.0V826.5M50.4 825.5H60.0M50.4 826.3H54.5M50.4 825.5V826.3M49.8 825.9H50.4M49.8 827.0H60.0M49.8 825.9V827.0M47.6 824.5H54.3M47.6 826.5H49.8M47.6 824.5V826.5M53.0 828.0H60.0M53.0 828.5H60.0M53.0 828.0V828.5M51.6 829.5H60.0M51.6 830.0H60.0M51.6 829.5V830.0M51.0 829.0H60.0M51.0 829.8H51.6M51.0 829.0V829.8M50.4 829.4H51.0M50.4 830.5H60.0M50.4 829.4V830.5M47.5 828.3H53.0M47.5 830.0H50.4M47.5 828.3V830.0M46.9 827.5H60.0M46.9 829.1H47.5M46.9 827.5V829.1M45.3 825.5H47.6M45.3 828.3H46.9M45.3 825.5V828.3M52.1 831.5H60.0M52.1 832.0H60.0M52.1 831.5V832.0M51.5 831.8H52.1M51.5 832.5H60.0M51.5 831.8V832.5M52.1 833.5H60.0M52.1 834.0H60.0M52.1 833.5V834.0M51.5 833.0H60.0M51.5 833.8H52.1M51.5 833.0V833.8M50.9 832.2H51.5M50.9 833.4H51.5M50.9 832.2V833.4M50.3 831.0H60.0M50.3 832.8H50.9M50.3 831.0V832.8M44.7 826.9H45.3M44.7 831.9H50.3M44.7 826.9V831.9M44.1 823.0H60.0M44.1 829.4H44.7M44.1 823.0V829.4M53.2 834.5H60.0M53.2 835.0H60.0M53.2 834.5V835.0M49.7 835.5H60.0M49.7 836.0H60.0M49.7 835.5V836.0M49.1 834.8H53.2M49.1 835.8H49.7M49.1 834.8V835.8M53.6 837.0H60.0M53.6 837.5H60.0M53.6 837.0V837.5M53.0 837.3H53.6M53.0 838.0H60.0M53.0 837.3V838.0M50.9 837.7H53.0M50.9 838.5H60.0M50.9 837.7V838.5M50.3 838.1H50.9M50.3 839.0H60.0M50.3 838.1V839.0M49.7 838.6H50.3M49.7 839.5H60.0M49.7 838.6V839.5M49.1 836.5H60.0M49.1 839.1H49.7M49.1 836.5V839.1M48.5 835.3H49.1M48.5 837.8H49.1M48.5 835.3V837.8M43.5 826.2H44.1M43.5 836.6H48.5M43.5 826.2V836.6M53.8 840.0H60.0M53.8 840.5H60.0M53.8 840.0V840.5M38.8 831.4H43.5M38.8 840.3H53.8M38.8 831.4V840.3M37.8 814.6H38.4M37.8 835.8H38.8M37.8 814.6V835.8M50.0 841.5H60.0M50.0 842.0H60.0M50.0 841.5V842.0M52.4 842.5H60.0M52.4 843.0H60.0M52.4 842.5V843.0M49.2 841.8H50.0M49.2 842.8H52.4M49.2 841.8V842.8M55.7 844.0H60.0M55.7 844.5H60.0M55.7 844.0V844.5M55.1 843.5H60.0M55.1 844.3H55.7M55.1 843.5V844.3M45.6 842.3H49.2M45.6 843.9H55.1M45.6 842.3V843.9M45.0 841.0H60.0M45.0 843.1H45.6M45.0 841.0V843.1M52.9 845.0H60.0M52.9 845.5H60.0M52.9 845.0V845.5M52.3 845.3H52.9M52.3 846.0H60.0M52.3 845.3V846.0M48.6 847.0H60.0M48.6 847.5H60.0M48.6 847.0V847.5M48.0 846.5H60.0M48.0 847.3H48.6M48.0 846.5V847.3M46.2 845.7H52.3M46.2 846.9H48.0M46.2 845.7V846.9M45.6 846.3H46.2M45.6 848.0H60.0M45.6 846.3V848.0M54.0 848.5H60.0M54.0 849.0H60.0M54.0 848.5V849.0M52.4 850.0H60.0M52.4 850.5H60.0M52.4 850.0V850.5M50.6 849.5H60.0M50.6 850.3H52.4M50.6 849.5V850.3M50.0 848.8H54.0M50.0 849.9H50.6M50.0 848.8V849.9M43.3 847.2H45.6M43.3 849.4H50.0M43.3 847.2V849.4M41.7 842.1H45.0M41.7 848.3H43.3M41.7 842.1V848.3M37.2 825.2H37.8M37.2 845.2H41.7M37.2 825.2V845.2M36.6 800.4H48.1M36.6 835.2H37.2M36.6 800.4V835.2M50.7 851.0H60.0M50.7 851.5H60.0M50.7 851.0V851.5M50.1 851.3H50.7M50.1 852.0H60.0M50.1 851.3V852.0M48.8 851.7H50.1M48.8 852.5H60.0M48.8 851.7V852.5M50.4 853.0H60.0M50.4 853.5H60.0M50.4 853.0V853.5M55.9 855.0H60.0M55.9 855.5H60.0M55.9 855.0V855.5M55.3 855.3H55.9M55.3 856.0H60.0M55.3 855.3V856.0M54.7 855.7H55.3M54.7 856.5H60.0M54.7 855.7V856.5M54.1 854.5H60.0M54.1 856.1H54.7M54.1 854.5V856.1M53.5 854.0H60.0M53.5 855.3H54.1M53.5 854.0V855.3M50.7 854.7H53.5M50.7 857.0H60.0M50.7 854.7V857.0M55.0 858.5H60.0M55.0 859.0H60.0M55.0 858.5V859.0M52.1 858.0H60.0M52.1 858.8H55.0M52.1 858.0V858.8M51.4 858.4H52.1M51.4 859.5H60.0M51.4 858.4V859.5M50.7 857.5H60.0M50.7 859.0H51.4M50.7 857.5V859.0M50.1 855.9H50.7M50.1 858.3H50.7M50.1 855.9V858.3M49.5 853.3H50.4M49.5 857.1H50.1M49.5 853.3V857.1M44.2 852.1H48.8M44.2 855.2H49.5M44.2 852.1V855.2M55.3 861.0H60.0M55.3 861.5H60.0M55.3 861.0V861.5M54.7 861.3H55.3M54.7 862.0H60.0M54.7 861.3V862.0M50.7 860.5H60.0M50.7 861.7H54.7M50.7 860.5V861.7M50.1 860.0H60.0M50.1 861.1H50.7M50.1 860.0V861.1M49.5 860.6H50.1M49.5 862.5H60.0M49.5 860.6V862.5M52.6 864.0H60.0M52.6 864.5H60.0M52.6 864.0V864.5M51.1 863.5H60.0M51.1 864.3H52.6M51.1 863.5V864.3M50.5 863.0H60.0M50.5 863.9H51.1M50.5 863.0V863.9M48.9 861.6H49.5M48.9 863.5H50.5M48.9 861.6V863.5M48.3 862.5H48.9M48.3 865.0H60.0M48.3 862.5V865.0M47.7 863.8H48.3M47.7 865.5H60.0M47.7 863.8V865.5M43.6 853.6H44.2M43.6 864.7H47.7M43.6 853.6V864.7M48.8 866.5H60.0M48.8 867.0H60.0M48.8 866.5V867.0M52.5 867.5H60.0M52.5 868.0H60.0M52.5 867.5V868.0M56.1 868.5H60.0M56.1 869.0H60.0M56.1 868.5V869.0M51.0 867.8H52.5M51.0 868.8H56.1M51.0 867.8V868.8M50.4 868.3H51.0M50.4 869.5H60.0M50.4 868.3V869.5M49.8 868.9H50.4M49.8 870.0H60.0M49.8 868.9V870.0M46.4 866.8H48.8M46.4 869.5H49.8M46.4 866.8V869.5M54.5 870.5H60.0M54.5 871.0H60.0M54.5 870.5V871.0M50.8 870.8H54.5M50.8 871.5H60.0M50.8 870.8V871.5M54.1 872.5H60.0M54.1 873.0H60.0M54.1 872.5V873.0M53.5 872.8H54.1M53.5 873.5H60.0M53.5 872.8V873.5M52.9 873.2H53.5M52.9 874.0H60.0M52.9 873.2V874.0M52.3 872.0H60.0M52.3 873.6H52.9M52.3 872.0V873.6M49.4 871.2H50.8M49.4 872.8H52.3M49.4 871.2V872.8M47.5 874.5H60.0M47.5 875.0H60.0M47.5 874.5V875.0M43.3 872.0H49.4M43.3 874.8H47.5M43.3 872.0V874.8M42.7 868.1H46.4M42.7 873.4H43.3M42.7 868.1V873.4M42.1 866.0H60.0M42.1 870.8H42.7M42.1 866.0V870.8M52.9 876.0H60.0M52.9 876.5H60.0M52.9 876.0V876.5M51.5 875.5H60.0M51.5 876.3H52.9M51.5 875.5V876.3M52.3 877.0H60.0M52.3 877.5H60.0M52.3 877.0V877.5M47.4 875.9H51.5M47.4 877.3H52.3M47.4 875.9V877.3M41.5 868.4H42.1M41.5 876.6H47.4M41.5 868.4V876.6M36.6 859.2H43.6M36.6 872.5H41.5M36.6 859.2V872.5M36.0 817.8H36.6M36.0 865.8H36.6M36.0 817.8V865.8M28.5 783.8H40.0M28.5 841.8H36.0M28.5 783.8V841.8M26.8 716.2H33.0M26.8 812.8H28.5M26.8 716.2V812.8M26.0 622.6H31.0M26.0 764.5H26.8M26.0 622.6V764.5M21.1 568.6H31.0M21.1 693.5H26.0M21.1 568.6V693.5M48.5 878.0H60.0M48.5 878.5H60.0M48.5 878.0V878.5M54.3 879.0H60.0M54.3 879.5H60.0M54.3 879.0V879.5M52.3 880.0H60.0M52.3 880.5H60.0M52.3 880.0V880.5M51.7 880.3H52.3M51.7 881.0H60.0M51.7 880.3V881.0M51.1 879.3H54.3M51.1 880.7H51.7M51.1 879.3V880.7M47.1 878.3H48.5M47.1 880.0H51.1M47.1 878.3V880.0M50.2 882.0H60.0M50.2 882.5H60.0M50.2 882.0V882.5M49.6 881.5H60.0M49.6 882.3H50.2M49.6 881.5V882.3M49.0 881.9H49.6M49.0 883.0H60.0M49.0 881.9V883.0M45.5 879.1H47.1M45.5 882.5H49.0M45.5 879.1V882.5M50.0 883.5H60.0M50.0 884.0H60.0M50.0 883.5V884.0M40.5 880.8H45.5M40.5 883.8H50.0M40.5 880.8V883.8M50.5 885.5H60.0M50.5 886.0H60.0M50.5 885.5V886.0M49.9 885.0H60.0M49.9 885.8H50.5M49.9 885.0V885.8M47.3 884.5H60.0M47.3 885.4H49.9M47.3 884.5V885.4M54.9 887.5H60.0M54.9 888.0H60.0M54.9 887.5V888.0M54.3 887.8H54.9M54.3 888.5H60.0M54.3 887.8V888.5M53.7 888.2H54.3M53.7 889.0H60.0M53.7 888.2V889.0M51.8 888.6H53.7M51.8 889.5H60.0M51.8 888.6V889.5M47.1 887.0H60.0M47.1 889.1H51.8M47.1 887.0V889.1M46.5 886.5H60.0M46.5 888.1H47.1M46.5 886.5V888.1M45.9 885.0H47.3M45.9 887.3H46.5M45.9 885.0V887.3M45.3 886.1H45.9M45.3 890.0H60.0M45.3 886.1V890.0M39.7 882.3H40.5M39.7 888.1H45.3M39.7 882.3V888.1M54.8 892.5H60.0M54.8 893.0H60.0M54.8 892.5V893.0M54.2 892.0H60.0M54.2 892.8H54.8M54.2 892.0V892.8M53.6 891.5H60.0M53.6 892.4H54.2M53.6 891.5V892.4M53.0 891.0H60.0M53.0 892.0H53.6M53.0 891.0V892.0M45.1 891.5H53.0M45.1 893.5H60.0M45.1 891.5V893.5M52.5 894.0H60.0M52.5 894.5H60.0M52.5 894.0V894.5M52.3 895.5H60.0M52.3 896.0H60.0M52.3 895.5V896.0M48.6 895.0H60.0M48.6 895.8H52.3M48.6 895.0V895.8M45.4 894.3H52.5M45.4 895.4H48.6M45.4 894.3V895.4M52.9 896.5H60.0M52.9 897.0H60.0M52.9 896.5V897.0M50.7 896.8H52.9M50.7 897.5H60.0M50.7 896.8V897.5M52.9 898.0H60.0M52.9 898.5H60.0M52.9 898.0V898.5M55.6 899.0H60.0M55.6 899.5H60.0M55.6 899.0V899.5M50.7 898.3H52.9M50.7 899.3H55.6M50.7 898.3V899.3M50.1 897.2H50.7M50.1 898.8H50.7M50.1 897.2V898.8M44.8 894.9H45.4M44.8 898.0H50.1M44.8 894.9V898.0M44.2 892.5H45.1M44.2 896.4H44.8M44.2 892.5V896.4M50.4 901.0H60.0M50.4 901.5H60.0M50.4 901.0V901.5M49.8 900.5H60.0M49.8 901.3H50.4M49.8 900.5V901.3M49.2 900.0H60.0M49.2 900.9H49.8M49.2 900.0V900.9M40.0 894.5H44.2M40.0 900.5H49.2M40.0 894.5V900.5M39.4 890.5H60.0M39.4 897.5H40.0M39.4 890.5V897.5M33.0 885.2H39.7M33.0 894.0H39.4M33.0 885.2V894.0M17.8 631.1H21.1M17.8 889.6H33.0M17.8 631.1V889.6M54.8 902.0H60.0M54.8 902.5H60.0M54.8 902.0V902.5M54.2 902.3H54.8M54.2 903.0H60.0M54.2 902.3V903.0M53.0 903.5H60.0M53.0 904.0H60.0M53.0 903.5V904.0M56.5 904.5H60.0M56.5 905.0H60.0M56.5 904.5V905.0M52.1 903.8H53.0M52.1 904.8H56.5M52.1 903.8V904.8M49.1 902.7H54.2M49.1 904.3H52.1M49.1 902.7V904.3M49.8 905.5H60.0M49.8 906.0H60.0M49.8 905.5V906.0M48.5 903.5H49.1M48.5 905.8H49.8M48.5 903.5V905.8M47.2 904.6H48.5M47.2 906.5H60.0M47.2 904.6V906.5M52.1 907.5H60.0M52.1 908.0H60.0M52.1 907.5V908.0M51.5 907.0H60.0M51.5 907.8H52.1M51.5 907.0V907.8M50.9 907.4H51.5M50.9 908.5H60.0M50.9 907.4V908.5M54.5 910.5H60.0M54.5 911.0H60.0M54.5 910.5V911.0M55.7 911.5H60.0M55.7 912.0H60.0M55.7 911.5V912.0M55.1 911.8H55.7M55.1 912.5H60.0M55.1 911.8V912.5M57.5 914.5H60.0M57.5 915.0H60.0M57.5 914.5V915.0M56.9 914.8H57.5M56.9 915.5H60.0M56.9 914.8V915.5M56.3 914.0H60.0M56.3 915.2H56.9M56.3 914.0V915.2M55.7 913.5H60.0M55.7 914.6H56.3M55.7 913.5V914.6M55.1 913.0H60.0M55.1 914.1H55.7M55.1 913.0V914.1M54.5 912.2H55.1M54.5 913.6H55.1M54.5 912.2V913.6M53.9 910.8H54.5M53.9 912.9H54.5M53.9 910.8V912.9M53.3 910.0H60.0M53.3 911.8H53.9M53.3 910.0V911.8M52.7 910.9H53.3M52.7 916.0H60.0M52.7 910.9V916.0M45.5 909.5H60.0M45.5 913.5H52.7M45.5 909.5V913.5M44.9 909.0H60.0M44.9 911.5H45.5M44.9 909.0V911.5M51.5 917.0H60.0M51.5 917.5H60.0M51.5 917.0V917.5M49.9 917.3H51.5M49.9 918.0H60.0M49.9 917.3V918.0M50.5 919.0H60.0M50.5 919.5H60.0M50.5 919.0V919.5M49.9 918.5H60.0M49.9 919.3H50.5M49.9 918.5V919.3M49.3 917.7H49.9M49.3 918.9H49.9M49.3 917.7V918.9M48.7 916.5H60.0M48.7 918.3H49.3M48.7 916.5V918.3M44.3 910.3H44.9M44.3 917.4H48.7M44.3 910.3V917.4M43.7 908.0H50.9M43.7 913.9H44.3M43.7 908.0V913.9M29.5 905.6H47.2M29.5 910.9H43.7M29.5 905.6V910.9M54.6 921.0H60.0M54.6 921.5H60.0M54.6 921.0V921.5M53.2 920.5H60.0M53.2 921.3H54.6M53.2 920.5V921.3M52.6 920.9H53.2M52.6 922.0H60.0M52.6 920.9V922.0M52.0 920.0H60.0M52.0 921.5H52.6M52.0 920.0V921.5M50.1 923.5H60.0M50.1 924.0H60.0M50.1 923.5V924.0M48.5 923.0H60.0M48.5 923.8H50.1M48.5 923.0V923.8M45.8 923.4H48.5M45.8 924.5H60.0M45.8 923.4V924.5M52.5 925.0H60.0M52.5 925.5H60.0M52.5 925.0V925.5M53.2 927.5H60.0M53.2 928.0H60.0M53.2 927.5V928.0M52.6 927.8H53.2M52.6 928.5H60.0M52.6 927.8V928.5M52.6 929.0H60.0M52.6 929.5H60.0M52.6 929.0V929.5M52.0 928.2H52.6M52.0 929.3H52.6M52.0 928.2V929.3M47.3 927.0H60.0M47.3 928.7H52.0M47.3 927.0V928.7M46.7 926.5H60.0M46.7 927.9H47.3M46.7 926.5V927.9M54.6 930.0H60.0M54.6 930.5H60.0M54.6 930.0V930.5M54.0 930.3H54.6M54.0 931.0H60.0M54.0 930.3V931.0M54.6 931.5H60.0M54.6 932.0H60.0M54.6 931.5V932.0M54.0 931.8H54.6M54.0 932.5H60.0M54.0 931.8V932.5M53.4 930.7H54.0M53.4 932.2H54.0M53.4 930.7V932.2M46.1 927.2H46.7M46.1 931.4H53.4M46.1 927.2V931.4M45.5 926.0H60.0M45.5 929.3H46.1M45.5 926.0V929.3M52.6 933.5H60.0M52.6 934.0H60.0M52.6 933.5V934.0M53.2 934.5H60.0M53.2 935.0H60.0M53.2 934.5V935.0M53.8 936.0H60.0M53.8 936.5H60.0M53.8 936.0V936.5M53.2 935.5H60.0M53.2 936.3H53.8M53.2 935.5V936.3M52.6 934.8H53.2M52.6 935.9H53.2M52.6 934.8V935.9M52.0 933.8H52.6M52.0 935.4H52.6M52.0 933.8V935.4M51.4 934.6H52.0M51.4 937.0H60.0M51.4 934.6V937.0M52.9 937.5H60.0M52.9 938.0H60.0M52.9 937.5V938.0M52.5 938.5H60.0M52.5 939.0H60.0M52.5 938.5V939.0M51.4 937.8H52.9M51.4 938.8H52.5M51.4 937.8V938.8M50.8 935.8H51.4M50.8 938.3H51.4M50.8 935.8V938.3M50.2 933.0H60.0M50.2 937.1H50.8M50.2 933.0V937.1M44.9 927.7H45.5M44.9 935.1H50.2M44.9 927.7V935.1M44.3 925.3H52.5M44.3 931.4H44.9M44.3 925.3V931.4M43.7 924.0H45.8M43.7 928.3H44.3M43.7 924.0V928.3M43.1 922.5H60.0M43.1 926.2H43.7M43.1 922.5V926.2M36.1 920.8H52.0M36.1 924.4H43.1M36.1 920.8V924.4M50.4 940.0H60.0M50.4 940.5H60.0M50.4 940.0V940.5M46.7 939.5H60.0M46.7 940.3H50.4M46.7 939.5V940.3M55.3 941.0H60.0M55.3 941.5H60.0M55.3 941.0V941.5M54.7 941.3H55.3M54.7 942.0H60.0M54.7 941.3V942.0M47.1 942.5H60.0M47.1 943.0H60.0M47.1 942.5V943.0M50.5 944.0H60.0M50.5 944.5H60.0M50.5 944.0V944.5M48.7 943.5H60.0M48.7 944.3H50.5M48.7 943.5V944.3M53.3 945.0H60.0M53.3 945.5H60.0M53.3 945.0V945.5M52.2 945.3H53.3M52.2 946.0H60.0M52.2 945.3V946.0M48.1 943.9H48.7M48.1 945.7H52.2M48.1 943.9V945.7M47.5 944.8H48.1M47.5 946.5H60.0M47.5 944.8V946.5M52.9 947.5H60.0M52.9 948.0H60.0M52.9 947.5V948.0M52.3 947.8H52.9M52.3 948.5H60.0M52.3 947.8V948.5M51.7 947.0H60.0M51.7 948.2H52.3M51.7 947.0V948.2M46.9 945.7H47.5M46.9 947.6H51.7M46.9 945.7V947.6M45.5 942.8H47.1M45.5 946.6H46.9M45.5 942.8V946.6M44.9 941.7H54.7M44.9 944.7H45.5M44.9 941.7V944.7M44.3 943.2H44.9M44.3 949.0H60.0M44.3 943.2V949.0M41.7 946.1H44.3M41.7 949.5H60.0M41.7 946.1V949.5M52.6 950.5H60.0M52.6 951.0H60.0M52.6 950.5V951.0M52.0 950.0H60.0M52.0 950.8H52.6M52.0 950.0V950.8M51.4 950.4H52.0M51.4 951.5H60.0M51.4 950.4V951.5M50.8 951.0H51.4M50.8 952.0H60.0M50.8 951.0V952.0M52.5 953.0H60.0M52.5 953.5H60.0M52.5 953.0V953.5M51.9 952.5H60.0M51.9 953.3H52.5M51.9 952.5V953.3M51.3 952.9H51.9M51.3 954.0H60.0M51.3 952.9V954.0M48.6 951.5H50.8M48.6 953.5H51.3M48.6 951.5V953.5M54.4 955.0H60.0M54.4 955.5H60.0M54.4 955.0V955.5M53.8 955.3H54.4M53.8 956.0H60.0M53.8 955.3V956.0M53.2 954.5H60.0M53.2 955.7H53.8M53.2 954.5V955.7M52.3 956.5H60.0M52.3 957.0H60.0M52.3 956.5V957.0M51.7 956.8H52.3M51.7 957.5H60.0M51.7 956.8V957.5M49.1 957.2H51.7M49.1 958.0H60.0M49.1 957.2V958.0M48.5 957.6H49.1M48.5 958.5H60.0M48.5 957.6V958.5M46.8 955.1H53.2M46.8 958.1H48.5M46.8 955.1V958.1M55.7 960.0H60.0M55.7 960.5H60.0M55.7 960.0V960.5M55.1 959.5H60.0M55.1 960.3H55.7M55.1 959.5V960.3M54.5 959.9H55.1M54.5 961.0H60.0M54.5 959.9V961.0M53.9 959.0H60.0M53.9 960.5H54.5M53.9 959.0V960.5M53.3 959.8H53.9M53.3 961.5H60.0M53.3 959.8V961.5M52.7 960.7H53.3M52.7 962.0H60.0M52.7 960.7V962.0M39.9 956.6H46.8M39.9 961.4H52.7M39.9 956.6V961.4M49.1 963.0H60.0M49.1 963.5H60.0M49.1 963.0V963.5M55.9 965.0H60.0M55.9 965.5H60.0M55.9 965.0V965.5M54.4 964.5H60.0M54.4 965.3H55.9M54.4 964.5V965.3M53.8 964.0H60.0M53.8 964.9H54.4M53.8 964.0V964.9M48.5 963.3H49.1M48.5 964.5H53.8M48.5 963.3V964.5M47.9 962.5H60.0M47.9 963.9H48.5M47.9 962.5V963.9M54.5 966.5H60.0M54.5 967.0H60.0M54.5 966.5V967.0M53.9 966.0H60.0M53.9 966.8H54.5M53.9 966.0V966.8M46.8 966.4H53.9M46.8 967.5H60.0M46.8 966.4V967.5M46.2 963.2H47.9M46.2 967.0H46.8M46.2 963.2V967.0M46.3 968.0H60.0M46.3 968.5H60.0M46.3 968.0V968.5M43.3 965.1H46.2M43.3 968.3H46.3M43.3 965.1V968.3M52.8 969.5H60.0M52.8 970.0H60.0M52.8 969.5V970.0M51.6 969.0H60.0M51.6 969.8H52.8M51.6 969.0V969.8M42.7 966.7H43.3M42.7 969.4H51.6M42.7 966.7V969.4M38.5 959.0H39.9M38.5 968.1H42.7M38.5 959.0V968.1M51.3 970.5H60.0M51.3 971.0H60.0M51.3 970.5V971.0M37.6 963.5H38.5M37.6 970.8H51.3M37.6 963.5V970.8M50.5 973.0H60.0M50.5 973.5H60.0M50.5 973.0V973.5M49.6 972.5H60.0M49.6 973.3H50.5M49.6 972.5V973.3M48.2 974.0H60.0M48.2 974.5H60.0M48.2 974.0V974.5M52.7 975.5H60.0M52.7 976.0H60.0M52.7 975.5V976.0M50.2 975.0H60.0M50.2 975.8H52.7M50.2 975.0V975.8M47.2 974.3H48.2M47.2 975.4H50.2M47.2 974.3V975.4M46.6 972.9H49.6M46.6 974.9H47.2M46.6 972.9V974.9M44.6 972.0H60.0M44.6 973.9H46.6M44.6 972.0V973.9M41.7 971.5H60.0M41.7 973.0H44.6M41.7 971.5V973.0M36.4 967.2H37.6M36.4 972.3H41.7M36.4 967.2V972.3M56.3 977.0H60.0M56.3 977.5H60.0M56.3 977.0V977.5M47.9 976.5H60.0M47.9 977.3H56.3M47.9 976.5V977.3M35.8 969.7H36.4M35.8 976.9H47.9M35.8 969.7V976.9M35.2 952.5H48.6M35.2 973.3H35.8M35.2 952.5V973.3M56.4 979.0H60.0M56.4 979.5H60.0M56.4 979.0V979.5M51.4 978.5H60.0M51.4 979.3H56.4M51.4 978.5V979.3M54.1 980.5H60.0M54.1 981.0H60.0M54.1 980.5V981.0M51.4 980.0H60.0M51.4 980.8H54.1M51.4 980.0V980.8M50.8 978.9H51.4M50.8 980.4H51.4M50.8 978.9V980.4M50.2 978.0H60.0M50.2 979.7H50.8M50.2 978.0V979.7M50.8 981.5H60.0M50.8 982.0H60.0M50.8 981.5V982.0M49.6 978.9H50.2M49.6 981.8H50.8M49.6 978.9V981.8M49.2 982.5H60.0M49.2 983.0H60.0M49.2 982.5V983.0M47.4 980.3H49.6M47.4 982.8H49.2M47.4 980.3V982.8M52.8 983.5H60.0M52.8 984.0H60.0M52.8 983.5V984.0M46.8 981.6H47.4M46.8 983.8H52.8M46.8 981.6V983.8M43.6 982.7H46.8M43.6 984.5H60.0M43.6 982.7V984.5M34.6 962.9H35.2M34.6 983.6H43.6M34.6 962.9V983.6M34.0 947.8H41.7M34.0 973.3H34.6M34.0 947.8V973.3M33.4 939.9H46.7M33.4 960.6H34.0M33.4 939.9V960.6M30.0 922.6H36.1M30.0 950.2H33.4M30.0 922.6V950.2M24.0 908.3H29.5M24.0 936.4H30.0M24.0 908.3V936.4M52.0 985.0H60.0M52.0 985.5H60.0M52.0 985.0V985.5M46.4 985.3H52.0M46.4 986.0H60.0M46.4 985.3V986.0M52.5 987.0H60.0M52.5 987.5H60.0M52.5 987.0V987.5M53.7 988.5H60.0M53.7 989.0H60.0M53.7 988.5V989.0M53.1 988.0H60.0M53.1 988.8H53.7M53.1 988.0V988.8M55.3 989.5H60.0M55.3 990.0H60.0M55.3 989.5V990.0M53.1 989.8H55.3M53.1 990.5H60.0M53.1 989.8V990.5M52.5 988.4H53.1M52.5 990.2H53.1M52.5 988.4V990.2M51.9 987.3H52.5M51.9 989.3H52.5M51.9 987.3V989.3M51.3 988.3H51.9M51.3 991.0H60.0M51.3 988.3V991.0M46.5 986.5H60.0M46.5 989.7H51.3M46.5 986.5V989.7M45.6 985.7H46.4M45.6 988.1H46.5M45.6 985.7V988.1M53.1 991.5H60.0M53.1 992.0H60.0M53.1 991.5V992.0M54.5 993.0H60.0M54.5 993.5H60.0M54.5 993.0V993.5M53.9 993.3H54.5M53.9 994.0H60.0M53.9 993.3V994.0M53.3 992.5H60.0M53.3 993.7H53.9M53.3 992.5V993.7M50.0 993.1H53.3M50.0 994.5H60.0M50.0 993.1V994.5M51.2 995.5H60.0M51.2 996.0H60.0M51.2 995.5V996.0M50.0 995.0H60.0M50.0 995.8H51.2M50.0 995.0V995.8M49.4 993.8H50.0M49.4 995.4H50.0M49.4 993.8V995.4M48.8 991.8H53.1M48.8 994.6H49.4M48.8 991.8V994.6M39.7 986.9H45.6M39.7 993.2H48.8M39.7 986.9V993.2M49.3 996.5H60.0M49.3 997.0H60.0M49.3 996.5V997.0M51.8 998.0H60.0M51.8 998.5H60.0M51.8 998.0V998.5M50.7 999.5H60.0M50.7 1000.0H60.0M50.7 999.5V1000.0M49.4 999.0H60.0M49.4 999.8H50.7M49.4 999.0V999.8M47.3 998.3H51.8M47.3 999.4H49.4M47.3 998.3V999.4M46.7 997.5H60.0M46.7 998.9H47.3M46.7 997.5V998.9M44.8 996.8H49.3M44.8 998.2H46.7M44.8 996.8V998.2M56.2 1000.5H60.0M56.2 1001.0H60.0M56.2 1000.5V1001.0M50.3 1000.8H56.2M50.3 1001.5H60.0M50.3 1000.8V1001.5M49.7 1001.2H50.3M49.7 1002.0H60.0M49.7 1001.2V1002.0M49.1 1001.6H49.7M49.1 1002.5H60.0M49.1 1001.6V1002.5M50.3 1003.0H60.0M50.3 1003.5H60.0M50.3 1003.0V1003.5M48.5 1002.1H49.1M48.5 1003.3H50.3M48.5 1002.1V1003.3M52.6 1004.0H60.0M52.6 1004.5H60.0M52.6 1004.0V1004.5M44.8 1002.7H48.5M44.8 1004.3H52.6M44.8 1002.7V1004.3M44.2 997.5H44.8M44.2 1003.5H44.8M44.2 997.5V1003.5M53.8 1005.5H60.0M53.8 1006.0H60.0M53.8 1005.5V1006.0M53.2 1005.8H53.8M53.2 1006.5H60.0M53.2 1005.8V1006.5M52.3 1007.5H60.0M52.3 1008.0H60.0M52.3 1007.5V1008.0M51.7 1007.8H52.3M51.7 1008.5H60.0M51.7 1007.8V1008.5M51.1 1007.0H60.0M51.1 1008.2H51.7M51.1 1007.0V1008.2M50.5 1007.6H51.1M50.5 1009.0H60.0M50.5 1007.6V1009.0M49.9 1006.2H53.2M49.9 1008.3H50.5M49.9 1006.2V1008.3M49.3 1007.3H49.9M49.3 1009.5H60.0M49.3 1007.3V1009.5M48.7 1005.0H60.0M48.7 1008.4H49.3M48.7 1005.0V1008.4M42.8 1000.5H44.2M42.8 1006.7H48.7M42.8 1000.5V1006.7M32.0 990.1H39.7M32.0 1003.6H42.8M32.0 990.1V1003.6M49.6 1010.0H60.0M49.6 1010.5H60.0M49.6 1010.0V1010.5M49.0 1010.3H49.6M49.0 1011.0H60.0M49.0 1010.3V1011.0M48.3 1010.7H49.0M48.3 1011.5H60.0M48.3 1010.7V1011.5M51.1 1012.5H60.0M51.1 1013.0H60.0M51.1 1012.5V1013.0M49.7 1012.8H51.1M49.7 1013.5H60.0M49.7 1012.8V1013.5M48.3 1012.0H60.0M48.3 1013.2H49.7M48.3 1012.0V1013.2M47.7 1011.1H48.3M47.7 1012.6H48.3M47.7 1011.1V1012.6M52.4 1015.0H60.0M52.4 1015.5H60.0M52.4 1015.0V1015.5M54.2 1016.5H60.0M54.2 1017.0H60.0M54.2 1016.5V1017.0M53.6 1016.0H60.0M53.6 1016.8H54.2M53.6 1016.0V1016.8M49.2 1016.4H53.6M49.2 1017.5H60.0M49.2 1016.4V1017.5M51.2 1018.0H60.0M51.2 1018.5H60.0M51.2 1018.0V1018.5M52.2 1019.0H60.0M52.2 1019.5H60.0M52.2 1019.0V1019.5M50.6 1018.3H51.2M50.6 1019.3H52.2M50.6 1018.3V1019.3M51.7 1020.0H60.0M51.7 1020.5H60.0M51.7 1020.0V1020.5M47.3 1018.8H50.6M47.3 1020.3H51.7M47.3 1018.8V1020.3M45.3 1017.0H49.2M45.3 1019.5H47.3M45.3 1017.0V1019.5M44.7 1015.3H52.4M44.7 1018.3H45.3M44.7 1015.3V1018.3M54.1 1021.0H60.0M54.1 1021.5H60.0M54.1 1021.0V1021.5M54.1 1022.0H60.0M54.1 1022.5H60.0M54.1 1022.0V1022.5M53.5 1021.3H54.1M53.5 1022.3H54.1M53.5 1021.3V1022.3M52.8 1023.5H60.0M52.8 1024.0H60.0M52.8 1023.5V1024.0M52.2 1023.0H60.0M52.2 1023.8H52.8M52.2 1023.0V1023.8M48.6 1021.8H53.5M48.6 1023.4H52.2M48.6 1021.8V1023.4M44.4 1022.6H48.6M44.4 1024.5H60.0M44.4 1022.6V1024.5M43.8 1023.6H44.4M43.8 1025.0H60.0M43.8 1023.6V1025.0M54.1 1026.0H60.0M54.1 1026.5H60.0M54.1 1026.0V1026.5M48.4 1025.5H60.0M48.4 1026.3H54.1M48.4 1025.5V1026.3M43.2 1024.3H43.8M43.2 1025.9H48.4M43.2 1024.3V1025.9M42.1 1016.8H44.7M42.1 1025.1H43.2M42.1 1016.8V1025.1M41.5 1014.5H60.0M41.5 1021.0H42.1M41.5 1014.5V1021.0M39.6 1014.0H60.0M39.6 1017.8H41.5M39.6 1014.0V1017.8M52.5 1027.0H60.0M52.5 1027.5H60.0M52.5 1027.0V1027.5M51.8 1027.3H52.5M51.8 1028.0H60.0M51.8 1027.3V1028.0M51.8 1028.5H60.0M51.8 1029.0H60.0M51.8 1028.5V1029.0M51.2 1027.7H51.8M51.2 1028.8H51.8M51.2 1027.7V1028.8M46.9 1028.2H51.2M46.9 1029.5H60.0M46.9 1028.2V1029.5M39.0 1015.9H39.6M39.0 1028.9H46.9M39.0 1015.9V1028.9M33.0 1011.9H47.7M33.0 1022.4H39.0M33.0 1011.9V1022.4M55.4 1030.5H60.0M55.4 1031.0H60.0M55.4 1030.5V1031.0M54.8 1030.0H60.0M54.8 1030.8H55.4M54.8 1030.0V1030.8M49.7 1032.0H60.0M49.7 1032.5H60.0M49.7 1032.0V1032.5M53.8 1033.5H60.0M53.8 1034.0H60.0M53.8 1033.5V1034.0M49.0 1033.0H60.0M49.0 1033.8H53.8M49.0 1033.0V1033.8M48.4 1032.3H49.7M48.4 1033.4H49.0M48.4 1032.3V1033.4M47.8 1032.9H48.4M47.8 1034.5H60.0M47.8 1032.9V1034.5M44.3 1031.5H60.0M44.3 1033.7H47.8M44.3 1031.5V1033.7M50.8 1035.5H60.0M50.8 1036.0H60.0M50.8 1035.5V1036.0M50.2 1035.0H60.0M50.2 1035.8H50.8M50.2 1035.0V1035.8M47.0 1035.4H50.2M47.0 1036.5H60.0M47.0 1035.4V1036.5M54.4 1039.5H60.0M54.4 1040.0H60.0M54.4 1039.5V1040.0M53.8 1039.0H60.0M53.8 1039.8H54.4M53.8 1039.0V1039.8M53.4 1041.0H60.0M53.4 1041.5H60.0M53.4 1041.0V1041.5M52.8 1040.5H60.0M52.8 1041.3H53.4M52.8 1040.5V1041.3M52.2 1040.9H52.8M52.2 1042.0H60.0M52.2 1040.9V1042.0M51.3 1039.4H53.8M51.3 1041.5H52.2M51.3 1039.4V1041.5M50.7 1038.5H60.0M50.7 1040.5H51.3M50.7 1038.5V1040.5M50.1 1038.0H60.0M50.1 1039.5H50.7M50.1 1038.0V1039.5M49.5 1037.5H60.0M49.5 1038.8H50.1M49.5 1037.5V1038.8M50.4 1042.5H60.0M50.4 1043.0H60.0M50.4 1042.5V1043.0M48.9 1038.2H49.5M48.9 1042.8H50.4M48.9 1038.2V1042.8M48.3 1037.0H60.0M48.3 1040.5H48.9M48.3 1037.0V1040.5M49.9 1043.5H60.0M49.9 1044.0H60.0M49.9 1043.5V1044.0M51.5 1044.5H60.0M51.5 1045.0H60.0M51.5 1044.5V1045.0M49.4 1045.5H60.0M49.4 1046.0H60.0M49.4 1045.5V1046.0M48.8 1044.8H51.5M48.8 1045.8H49.4M48.8 1044.8V1045.8M48.2 1043.8H49.9M48.2 1045.3H48.8M48.2 1043.8V1045.3M43.5 1038.8H48.3M43.5 1044.5H48.2M43.5 1038.8V1044.5M42.9 1041.7H43.5M42.9 1046.5H60.0M42.9 1041.7V1046.5M42.3 1036.0H47.0M42.3 1044.1H42.9M42.3 1036.0V1044.1M54.2 1048.0H60.0M54.2 1048.5H60.0M54.2 1048.0V1048.5M53.6 1047.5H60.0M53.6 1048.3H54.2M53.6 1047.5V1048.3M51.1 1047.9H53.6M51.1 1049.0H60.0M51.1 1047.9V1049.0M50.5 1048.5H51.1M50.5 1049.5H60.0M50.5 1048.5V1049.5M51.1 1050.0H60.0M51.1 1050.5H60.0M51.1 1050.0V1050.5M54.8 1051.0H60.0M54.8 1051.5H60.0M54.8 1051.0V1051.5M50.5 1050.3H51.1M50.5 1051.3H54.8M50.5 1050.3V1051.3M49.9 1049.0H50.5M49.9 1050.8H50.5M49.9 1049.0V1050.8M49.3 1047.0H60.0M49.3 1049.9H49.9M49.3 1047.0V1049.9M40.3 1040.0H42.3M40.3 1048.5H49.3M40.3 1040.0V1048.5M39.7 1044.3H40.3M39.7 1052.0H60.0M39.7 1044.3V1052.0M39.1 1032.6H44.3M39.1 1048.2H39.7M39.1 1032.6V1048.2M38.5 1030.4H54.8M38.5 1040.4H39.1M38.5 1030.4V1040.4M52.5 1053.0H60.0M52.5 1053.5H60.0M52.5 1053.0V1053.5M51.9 1052.5H60.0M51.9 1053.3H52.5M51.9 1052.5V1053.3M51.3 1052.9H51.9M51.3 1054.0H60.0M51.3 1052.9V1054.0M50.7 1053.5H51.3M50.7 1054.5H60.0M50.7 1053.5V1054.5M52.4 1056.5H60.0M52.4 1057.0H60.0M52.4 1056.5V1057.0M49.1 1056.8H52.4M49.1 1057.5H60.0M49.1 1056.8V1057.5M48.5 1056.0H60.0M48.5 1057.2H49.1M48.5 1056.0V1057.2M47.9 1055.5H60.0M47.9 1056.6H48.5M47.9 1055.5V1056.6M46.8 1055.0H60.0M46.8 1056.1H47.9M46.8 1055.0V1056.1M46.2 1054.0H50.7M46.2 1055.6H46.8M46.2 1054.0V1055.6M49.8 1058.0H60.0M49.8 1058.5H60.0M49.8 1058.0V1058.5M49.2 1058.3H49.8M49.2 1059.0H60.0M49.2 1058.3V1059.0M55.3 1061.0H60.0M55.3 1061.5H60.0M55.3 1061.0V1061.5M54.7 1060.5H60.0M54.7 1061.3H55.3M54.7 1060.5V1061.3M54.1 1060.0H60.0M54.1 1060.9H54.7M54.1 1060.0V1060.9M53.5 1060.5H54.1M53.5 1062.0H60.0M53.5 1060.5V1062.0M50.3 1061.3H53.5M50.3 1062.5H60.0M50.3 1061.3V1062.5M47.3 1059.5H60.0M47.3 1061.9H50.3M47.3 1059.5V1061.9M46.7 1058.7H49.2M46.7 1060.7H47.3M46.7 1058.7V1060.7M41.8 1054.8H46.2M41.8 1059.7H46.7M41.8 1054.8V1059.7M55.6 1064.0H60.0M55.6 1064.5H60.0M55.6 1064.0V1064.5M55.0 1063.5H60.0M55.0 1064.3H55.6M55.0 1063.5V1064.3M46.9 1063.0H60.0M46.9 1063.9H55.0M46.9 1063.0V1063.9M50.2 1065.0H60.0M50.2 1065.5H60.0M50.2 1065.0V1065.5M49.6 1065.3H50.2M49.6 1066.0H60.0M49.6 1065.3V1066.0M45.9 1065.7H49.6M45.9 1066.5H60.0M45.9 1065.7V1066.5M45.3 1063.5H46.9M45.3 1066.1H45.9M45.3 1063.5V1066.1M54.0 1068.0H60.0M54.0 1068.5H60.0M54.0 1068.0V1068.5M53.4 1067.5H60.0M53.4 1068.3H54.0M53.4 1067.5V1068.3M52.1 1067.0H60.0M52.1 1067.9H53.4M52.1 1067.0V1067.9M51.5 1067.5H52.1M51.5 1069.0H60.0M51.5 1067.5V1069.0M47.2 1068.3H51.5M47.2 1069.5H60.0M47.2 1068.3V1069.5M55.1 1071.0H60.0M55.1 1071.5H60.0M55.1 1071.0V1071.5M54.5 1070.5H60.0M54.5 1071.3H55.1M54.5 1070.5V1071.3M46.5 1070.0H60.0M46.5 1070.9H54.5M46.5 1070.0V1070.9M56.9 1073.0H60.0M56.9 1073.5H60.0M56.9 1073.0V1073.5M56.3 1072.5H60.0M56.3 1073.3H56.9M56.3 1072.5V1073.3M55.7 1072.0H60.0M55.7 1072.9H56.3M55.7 1072.0V1072.9M48.4 1072.5H55.7M48.4 1074.0H60.0M48.4 1072.5V1074.0M45.9 1070.5H46.5M45.9 1073.3H48.4M45.9 1070.5V1073.3M45.3 1068.9H47.2M45.3 1071.9H45.9M45.3 1068.9V1071.9M43.9 1064.8H45.3M43.9 1070.4H45.3M43.9 1064.8V1070.4M35.3 1057.2H41.8M35.3 1067.6H43.9M35.3 1057.2V1067.6M30.0 1035.4H38.5M30.0 1062.4H35.3M30.0 1035.4V1062.4M51.0 1074.5H60.0M51.0 1075.0H60.0M51.0 1074.5V1075.0M53.1 1075.5H60.0M53.1 1076.0H60.0M53.1 1075.5V1076.0M51.5 1076.5H60.0M51.5 1077.0H60.0M51.5 1076.5V1077.0M50.9 1075.8H53.1M50.9 1076.8H51.5M50.9 1075.8V1076.8M50.3 1074.8H51.0M50.3 1076.3H50.9M50.3 1074.8V1076.3M49.7 1075.5H50.3M49.7 1077.5H60.0M49.7 1075.5V1077.5M53.3 1078.5H60.0M53.3 1079.0H60.0M53.3 1078.5V1079.0M52.7 1078.0H60.0M52.7 1078.8H53.3M52.7 1078.0V1078.8M47.6 1079.5H60.0M47.6 1080.0H60.0M47.6 1079.5V1080.0M47.0 1078.4H52.7M47.0 1079.8H47.6M47.0 1078.4V1079.8M50.8 1080.5H60.0M50.8 1081.0H60.0M50.8 1080.5V1081.0M52.1 1082.5H60.0M52.1 1083.0H60.0M52.1 1082.5V1083.0M51.5 1082.8H52.1M51.5 1083.5H60.0M51.5 1082.8V1083.5M48.4 1082.0H60.0M48.4 1083.2H51.5M48.4 1082.0V1083.2M47.8 1081.5H60.0M47.8 1082.6H48.4M47.8 1081.5V1082.6M47.2 1080.8H50.8M47.2 1082.1H47.8M47.2 1080.8V1082.1M50.7 1084.5H60.0M50.7 1085.0H60.0M50.7 1084.5V1085.0M54.9 1085.5H60.0M54.9 1086.0H60.0M54.9 1085.5V1086.0M54.3 1085.8H54.9M54.3 1086.5H60.0M54.3 1085.8V1086.5M48.8 1084.8H50.7M48.8 1086.2H54.3M48.8 1084.8V1086.2M48.1 1087.0H60.0M48.1 1087.5H60.0M48.1 1087.0V1087.5M47.5 1085.5H48.8M47.5 1087.3H48.1M47.5 1085.5V1087.3M46.9 1084.0H60.0M46.9 1086.4H47.5M46.9 1084.0V1086.4M43.3 1081.4H47.2M43.3 1085.2H46.9M43.3 1081.4V1085.2M39.8 1079.1H47.0M39.8 1083.3H43.3M39.8 1079.1V1083.3M39.1 1076.5H49.7M39.1 1081.2H39.8M39.1 1076.5V1081.2M51.8 1088.5H60.0M51.8 1089.0H60.0M51.8 1088.5V1089.0M53.0 1089.5H60.0M53.0 1090.0H60.0M53.0 1089.5V1090.0M52.0 1089.8H53.0M52.0 1090.5H60.0M52.0 1089.8V1090.5M51.2 1088.8H51.8M51.2 1090.2H52.0M51.2 1088.8V1090.2M50.6 1089.5H51.2M50.6 1091.0H60.0M50.6 1089.5V1091.0M48.3 1088.0H60.0M48.3 1090.3H50.6M48.3 1088.0V1090.3M46.0 1089.2H48.3M46.0 1091.5H60.0M46.0 1089.2V1091.5M43.7 1090.4H46.0M43.7 1092.0H60.0M43.7 1090.4V1092.0M51.3 1092.5H60.0M51.3 1093.0H60.0M51.3 1092.5V1093.0M50.7 1092.8H51.3M50.7 1093.5H60.0M50.7 1092.8V1093.5M50.1 1093.2H50.7M50.1 1094.0H60.0M50.1 1093.2V1094.0M49.5 1093.6H50.1M49.5 1094.5H60.0M49.5 1093.6V1094.5M51.8 1095.5H60.0M51.8 1096.0H60.0M51.8 1095.5V1096.0M50.5 1095.0H60.0M50.5 1095.8H51.8M50.5 1095.0V1095.8M48.4 1095.4H50.5M48.4 1096.5H60.0M48.4 1095.4V1096.5M55.9 1097.0H60.0M55.9 1097.5H60.0M55.9 1097.0V1097.5M52.9 1098.0H60.0M52.9 1098.5H60.0M52.9 1098.0V1098.5M52.4 1099.5H60.0M52.4 1100.0H60.0M52.4 1099.5V1100.0M51.8 1099.0H60.0M51.8 1099.8H52.4M51.8 1099.0V1099.8M50.7 1098.3H52.9M50.7 1099.4H51.8M50.7 1098.3V1099.4M49.0 1097.3H55.9M49.0 1098.9H50.7M49.0 1097.3V1098.9M54.9 1100.5H60.0M54.9 1101.0H60.0M54.9 1100.5V1101.0M48.4 1098.1H49.0M48.4 1100.8H54.9M48.4 1098.1V1100.8M47.8 1096.0H48.4M47.8 1099.4H48.4M47.8 1096.0V1099.4M44.6 1094.1H49.5M44.6 1097.7H47.8M44.6 1094.1V1097.7M52.0 1101.5H60.0M52.0 1102.0H60.0M52.0 1101.5V1102.0M53.9 1102.5H60.0M53.9 1103.0H60.0M53.9 1102.5V1103.0M53.3 1102.8H53.9M53.3 1103.5H60.0M53.3 1102.8V1103.5M50.1 1101.8H52.0M50.1 1103.2H53.3M50.1 1101.8V1103.2M46.9 1102.5H50.1M46.9 1104.0H60.0M46.9 1102.5V1104.0M48.8 1104.5H60.0M48.8 1105.0H60.0M48.8 1104.5V1105.0M46.3 1103.3H46.9M46.3 1104.8H48.8M46.3 1103.3V1104.8M44.0 1095.9H44.6M44.0 1104.0H46.3M44.0 1095.9V1104.0M52.0 1105.5H60.0M52.0 1106.0H60.0M52.0 1105.5V1106.0M39.7 1100.0H44.0M39.7 1105.8H52.0M39.7 1100.0V1105.8M55.4 1108.0H60.0M55.4 1108.5H60.0M55.4 1108.0V1108.5M54.8 1108.3H55.4M54.8 1109.0H60.0M54.8 1108.3V1109.0M54.2 1108.7H54.8M54.2 1109.5H60.0M54.2 1108.7V1109.5M53.6 1109.1H54.2M53.6 1110.0H60.0M53.6 1109.1V1110.0M53.0 1107.5H60.0M53.0 1109.6H53.6M53.0 1107.5V1109.6M52.4 1108.6H53.0M52.4 1110.5H60.0M52.4 1108.6V1110.5M51.8 1107.0H60.0M51.8 1109.6H52.4M51.8 1107.0V1109.6M50.2 1111.0H60.0M50.2 1111.5H60.0M50.2 1111.0V1111.5M48.0 1108.3H51.8M48.0 1111.3H50.2M48.0 1108.3V1111.3M47.4 1109.8H48.0M47.4 1112.0H60.0M47.4 1109.8V1112.0M46.8 1106.5H60.0M46.8 1110.9H47.4M46.8 1106.5V1110.9M49.9 1112.5H60.0M49.9 1113.0H60.0M49.9 1112.5V1113.0M45.5 1108.7H46.8M45.5 1112.8H49.9M45.5 1108.7V1112.8M54.6 1113.5H60.0M54.6 1114.0H60.0M54.6 1113.5V1114.0M53.8 1114.5H60.0M53.8 1115.0H60.0M53.8 1114.5V1115.0M49.9 1114.8H53.8M49.9 1115.5H60.0M49.9 1114.8V1115.5M54.9 1116.5H60.0M54.9 1117.0H60.0M54.9 1116.5V1117.0M52.7 1116.8H54.9M52.7 1117.5H60.0M52.7 1116.8V1117.5M52.1 1117.2H52.7M52.1 1118.0H60.0M52.1 1117.2V1118.0M51.5 1116.0H60.0M51.5 1117.6H52.1M51.5 1116.0V1117.6M50.9 1116.8H51.5M50.9 1118.5H60.0M50.9 1116.8V1118.5M46.8 1115.2H49.9M46.8 1117.7H50.9M46.8 1115.2V1117.7M44.3 1113.8H54.6M44.3 1116.4H46.8M44.3 1113.8V1116.4M43.7 1115.1H44.3M43.7 1119.0H60.0M43.7 1115.1V1119.0M43.1 1110.8H45.5M43.1 1117.1H43.7M43.1 1110.8V1117.1M37.1 1102.9H39.7M37.1 1113.9H43.1M37.1 1102.9V1113.9M52.3 1120.5H60.0M52.3 1121.0H60.0M52.3 1120.5V1121.0M51.7 1120.0H60.0M51.7 1120.8H52.3M51.7 1120.0V1120.8M51.1 1119.5H60.0M51.1 1120.4H51.7M51.1 1119.5V1120.4M50.9 1121.5H60.0M50.9 1122.0H60.0M50.9 1121.5V1122.0M50.9 1122.5H60.0M50.9 1123.0H60.0M50.9 1122.5V1123.0M50.3 1121.8H50.9M50.3 1122.8H50.9M50.3 1121.8V1122.8M53.8 1123.5H60.0M53.8 1124.0H60.0M53.8 1123.5V1124.0M53.2 1123.8H53.8M53.2 1124.5H60.0M53.2 1123.8V1124.5M51.3 1124.2H53.2M51.3 1125.0H60.0M51.3 1124.2V1125.0M50.8 1125.5H60.0M50.8 1126.0H60.0M50.8 1125.5V1126.0M49.8 1124.6H51.3M49.8 1125.8H50.8M49.8 1124.6V1125.8M49.2 1125.2H49.8M49.2 1126.5H60.0M49.2 1125.2V1126.5M48.6 1122.3H50.3M48.6 1125.9H49.2M48.6 1122.3V1125.9M55.5 1127.5H60.0M55.5 1128.0H60.0M55.5 1127.5V1128.0M54.9 1127.0H60.0M54.9 1127.8H55.5M54.9 1127.0V1127.8M45.5 1124.1H48.6M45.5 1127.4H54.9M45.5 1124.1V1127.4M44.4 1120.0H51.1M44.4 1125.8H45.5M44.4 1120.0V1125.8M36.5 1108.4H37.1M36.5 1122.9H44.4M36.5 1108.4V1122.9M52.1 1128.5H60.0M52.1 1129.0H60.0M52.1 1128.5V1129.0M35.9 1115.6H36.5M35.9 1128.8H52.1M35.9 1115.6V1128.8M35.3 1091.2H43.7M35.3 1122.2H35.9M35.3 1091.2V1122.2M54.6 1130.0H60.0M54.6 1130.5H60.0M54.6 1130.0V1130.5M54.0 1130.3H54.6M54.0 1131.0H60.0M54.0 1130.3V1131.0M53.4 1130.7H54.0M53.4 1131.5H60.0M53.4 1130.7V1131.5M52.8 1129.5H60.0M52.8 1131.1H53.4M52.8 1129.5V1131.1M34.7 1106.7H35.3M34.7 1130.3H52.8M34.7 1106.7V1130.3M29.9 1078.9H39.1M29.9 1118.5H34.7M29.9 1078.9V1118.5M28.2 1048.9H30.0M28.2 1098.7H29.9M28.2 1048.9V1098.7M54.1 1134.0H60.0M54.1 1134.5H60.0M54.1 1134.0V1134.5M52.3 1134.3H54.1M52.3 1135.0H60.0M52.3 1134.3V1135.0M48.8 1133.5H60.0M48.8 1134.7H52.3M48.8 1133.5V1134.7M48.2 1133.0H60.0M48.2 1134.1H48.8M48.2 1133.0V1134.1M47.6 1132.5H60.0M47.6 1133.6H48.2M47.6 1132.5V1133.6M47.0 1132.0H60.0M47.0 1133.1H47.6M47.0 1132.0V1133.1M49.9 1135.5H60.0M49.9 1136.0H60.0M49.9 1135.5V1136.0M46.4 1132.6H47.0M46.4 1135.8H49.9M46.4 1132.6V1135.8M45.8 1134.2H46.4M45.8 1136.5H60.0M45.8 1134.2V1136.5M45.1 1135.4H45.8M45.1 1137.0H60.0M45.1 1135.4V1137.0M53.1 1138.0H60.0M53.1 1138.5H60.0M53.1 1138.0V1138.5M52.5 1137.5H60.0M52.5 1138.3H53.1M52.5 1137.5V1138.3M52.5 1139.0H60.0M52.5 1139.5H60.0M52.5 1139.0V1139.5M51.9 1137.9H52.5M51.9 1139.3H52.5M51.9 1137.9V1139.3M42.1 1136.2H45.1M42.1 1138.6H51.9M42.1 1136.2V1138.6M51.5 1140.5H60.0M51.5 1141.0H60.0M51.5 1140.5V1141.0M47.1 1140.0H60.0M47.1 1140.8H51.5M47.1 1140.0V1140.8M41.5 1137.4H42.1M41.5 1140.4H47.1M41.5 1137.4V1140.4M51.6 1141.5H60.0M51.6 1142.0H60.0M51.6 1141.5V1142.0M49.4 1141.8H51.6M49.4 1142.5H60.0M49.4 1141.8V1142.5M48.8 1142.2H49.4M48.8 1143.0H60.0M48.8 1142.2V1143.0M50.8 1144.0H60.0M50.8 1144.5H60.0M50.8 1144.0V1144.5M52.0 1145.5H60.0M52.0 1146.0H60.0M52.0 1145.5V1146.0M51.4 1145.0H60.0M51.4 1145.8H52.0M51.4 1145.0V1145.8M50.8 1145.4H51.4M50.8 1146.5H60.0M50.8 1145.4V1146.5M45.2 1144.3H50.8M45.2 1146.0H50.8M45.2 1144.3V1146.0M44.5 1143.5H60.0M44.5 1145.1H45.2M44.5 1143.5V1145.1M43.9 1142.6H48.8M43.9 1144.3H44.5M43.9 1142.6V1144.3M46.3 1147.0H60.0M46.3 1147.5H60.0M46.3 1147.0V1147.5M50.5 1148.0H60.0M50.5 1148.5H60.0M50.5 1148.0V1148.5M45.7 1147.3H46.3M45.7 1148.3H50.5M45.7 1147.3V1148.3M43.3 1143.5H43.9M43.3 1147.8H45.7M43.3 1143.5V1147.8M39.5 1138.9H41.5M39.5 1145.6H43.3M39.5 1138.9V1145.6M27.6 1073.8H28.2M27.6 1142.3H39.5M27.6 1073.8V1142.3M53.0 1149.0H60.0M53.0 1149.5H60.0M53.0 1149.0V1149.5M50.6 1151.0H60.0M50.6 1151.5H60.0M50.6 1151.0V1151.5M49.1 1150.5H60.0M49.1 1151.3H50.6M49.1 1150.5V1151.3M48.3 1150.9H49.1M48.3 1152.0H60.0M48.3 1150.9V1152.0M48.9 1153.0H60.0M48.9 1153.5H60.0M48.9 1153.0V1153.5M51.8 1154.5H60.0M51.8 1155.0H60.0M51.8 1154.5V1155.0M50.6 1155.5H60.0M50.6 1156.0H60.0M50.6 1155.5V1156.0M50.0 1154.8H51.8M50.0 1155.8H50.6M50.0 1154.8V1155.8M49.2 1154.0H60.0M49.2 1155.3H50.0M49.2 1154.0V1155.3M48.6 1154.7H49.2M48.6 1156.5H60.0M48.6 1154.7V1156.5M53.7 1157.0H60.0M53.7 1157.5H60.0M53.7 1157.0V1157.5M48.0 1155.6H48.6M48.0 1157.3H53.7M48.0 1155.6V1157.3M47.4 1153.3H48.9M47.4 1156.5H48.0M47.4 1153.3V1156.5M52.6 1158.5H60.0M52.6 1159.0H60.0M52.6 1158.5V1159.0M52.0 1158.0H60.0M52.0 1158.8H52.6M52.0 1158.0V1158.8M46.8 1154.9H47.4M46.8 1158.4H52.0M46.8 1154.9V1158.4M46.2 1152.5H60.0M46.2 1156.7H46.8M46.2 1152.5V1156.7M45.6 1151.5H48.3M45.6 1154.6H46.2M45.6 1151.5V1154.6M45.0 1150.0H60.0M45.0 1153.0H45.6M45.0 1150.0V1153.0M53.8 1160.0H60.0M53.8 1160.5H60.0M53.8 1160.0V1160.5M53.2 1159.5H60.0M53.2 1160.3H53.8M53.2 1159.5V1160.3M48.3 1159.9H53.2M48.3 1161.0H60.0M48.3 1159.9V1161.0M55.7 1162.0H60.0M55.7 1162.5H60.0M55.7 1162.0V1162.5M58.3 1163.5H60.0M58.3 1164.0H60.0M58.3 1163.5V1164.0M52.7 1164.5H60.0M52.7 1165.0H60.0M52.7 1164.5V1165.0M52.1 1163.8H58.3M52.1 1164.8H52.7M52.1 1163.8V1164.8M51.4 1164.3H52.1M51.4 1165.5H60.0M51.4 1164.3V1165.5M50.8 1164.9H51.4M50.8 1166.0H60.0M50.8 1164.9V1166.0M48.4 1163.0H60.0M48.4 1165.5H50.8M48.4 1163.0V1165.5M52.0 1166.5H60.0M52.0 1167.0H60.0M52.0 1166.5V1167.0M51.3 1167.5H60.0M51.3 1168.0H60.0M51.3 1167.5V1168.0M50.3 1166.8H52.0M50.3 1167.8H51.3M50.3 1166.8V1167.8M47.8 1164.3H48.4M47.8 1167.3H50.3M47.8 1164.3V1167.3M47.2 1162.3H55.7M47.2 1165.8H47.8M47.2 1162.3V1165.8M44.1 1161.5H60.0M44.1 1164.0H47.2M44.1 1161.5V1164.0M42.1 1160.5H48.3M42.1 1162.8H44.1M42.1 1160.5V1162.8M40.5 1161.6H42.1M40.5 1168.5H60.0M40.5 1161.6V1168.5M52.4 1169.0H60.0M52.4 1169.5H60.0M52.4 1169.0V1169.5M52.8 1171.0H60.0M52.8 1171.5H60.0M52.8 1171.0V1171.5M53.4 1172.0H60.0M53.4 1172.5H60.0M53.4 1172.0V1172.5M52.8 1172.3H53.4M52.8 1173.0H60.0M52.8 1172.3V1173.0M52.2 1171.3H52.8M52.2 1172.7H52.8M52.2 1171.3V1172.7M51.6 1170.5H60.0M51.6 1172.0H52.2M51.6 1170.5V1172.0M51.0 1170.0H60.0M51.0 1171.3H51.6M51.0 1170.0V1171.3M47.7 1170.7H51.0M47.7 1173.5H60.0M47.7 1170.7V1173.5M51.2 1174.5H60.0M51.2 1175.0H60.0M51.2 1174.5V1175.0M50.6 1174.0H60.0M50.6 1174.8H51.2M50.6 1174.0V1174.8M49.1 1174.4H50.6M49.1 1175.5H60.0M49.1 1174.4V1175.5M46.0 1172.1H47.7M46.0 1175.0H49.1M46.0 1172.1V1175.0M52.4 1177.0H60.0M52.4 1177.5H60.0M52.4 1177.0V1177.5M51.8 1176.5H60.0M51.8 1177.3H52.4M51.8 1176.5V1177.3M49.5 1176.9H51.8M49.5 1178.0H60.0M49.5 1176.9V1178.0M48.9 1176.0H60.0M48.9 1177.5H49.5M48.9 1176.0V1177.5M47.0 1176.8H48.9M47.0 1178.5H60.0M47.0 1176.8V1178.5M45.4 1173.5H46.0M45.4 1177.7H47.0M45.4 1173.5V1177.7M44.8 1169.3H52.4M44.8 1175.6H45.4M44.8 1169.3V1175.6M52.1 1179.0H60.0M52.1 1179.5H60.0M52.1 1179.0V1179.5M53.3 1180.5H60.0M53.3 1181.0H60.0M53.3 1180.5V1181.0M50.0 1180.0H60.0M50.0 1180.8H53.3M50.0 1180.0V1180.8M49.4 1180.4H50.0M49.4 1181.5H60.0M49.4 1180.4V1181.5M54.7 1182.0H60.0M54.7 1182.5H60.0M54.7 1182.0V1182.5M48.8 1181.0H49.4M48.8 1182.3H54.7M48.8 1181.0V1182.3M48.2 1179.3H52.1M48.2 1181.6H48.8M48.2 1179.3V1181.6M39.7 1172.5H44.8M39.7 1180.5H48.2M39.7 1172.5V1180.5M34.1 1165.1H40.5M34.1 1176.5H39.7M34.1 1165.1V1176.5M33.3 1151.5H45.0M33.3 1170.8H34.1M33.3 1151.5V1170.8M32.7 1149.3H53.0M32.7 1161.2H33.3M32.7 1149.3V1161.2M27.0 1108.0H27.6M27.0 1155.2H32.7M27.0 1108.0V1155.2M25.8 1017.1H33.0M25.8 1131.6H27.0M25.8 1017.1V1131.6M17.6 996.8H32.0M17.6 1074.4H25.8M17.6 996.8V1074.4M9.3 922.3H24.0M9.3 1035.6H17.6M9.3 922.3V1035.6M1.3 760.3H17.8M1.3 979.0H9.3M1.3 760.3V979.0" fill="none" stroke="#000" stroke-width="1"/>
</svg>
<style>.hm>div{position:absolute;top:0;width:34.1px;height:615.0px}</style><div class="hm" style="position:absolute;left:0;top:567.8px;"><div style="left:60.40px;background:linear-gradient(#fdc277 0 1.0px,#fdd488 0 2.0px,#feeaa4 0 3.5px,#e55238 0 5.5px,#f38051 0 6.5px,#f27c4f 0 7.5px,#fba766 0 10.5px,#fed88c 0 12.5px,#fdd387 0 13.5px,#fdce82 0 14.5px,#fdc177 0 16.5px,#feda8e 0 17.5px,#fedf93 0 19.5px,#fdce82 0 20.5px,#fdc67a 0 21.5px,#fdd084 0 22.5px,#fcb771 0 24.0px,#fdc77b 0 25.5px,#fdc278 0 26.5px,#fdc97d 0 27.5px,#fdc076 0 28.5px,#fbac6a 0 30.5px,#eb6643 0 32.0px,#f48554 0 33.0px,#faa163 0 36.0px,#f27a4e 0 38.0px,#da392b 0 39.0px,#e55238 0 40.0px,#f69059 0 42.0px,#fdc579 0 44.0px,#faa364 0 46.0px,#fdc97d 0 47.0px,#f8965d 0 49.0px,#fdcd81 0 51.0px,#f7945c 0 52.5px,#f7935b 0 53.5px,#fdd185 0 54.5px,#faa364 0 55.5px,#f8995e 0 57.5px,#fdc378 0 60.5px,#fdc479 0 61.5px,#fdd084 0 62.5px,#fbb26e 0 64.0px,#fbae6b 0 65.0px,#fdc076 0 67.0px,#fdc177 0 68.0px,#fdcf83 0 70.0px,#fdca7e 0 71.0px,#fed589 0 73.0px,#fbab69 0 76.0px,#fba968 0 78.0px,#fcb56f 0 79.0px,#fbad6a 0 80.0px,#f8985e 0 82.0px,#f48553 0 84.0px,#f68d58 0 86.0px,#e85d3e 0 87.0px,#f7955c 0 88.0px,#f48755 0 89.0px,#fcbe75 0 91.0px,#fba867 0 93.0px,#fdca7e 0 94.0px,#fdc076 0 96.0px,#fcb56f 0 97.0px,#fee59a 0 99.0px,#fdc87c 0 100.0px,#fdf1b0 0 101.5px,#feeba5 0 103.5px,#f7f8cc 0 105.5px,#fdeda9 0 107.0px,#fdd488 0 110.0px,#feeca8 0 111.0px,#fedc90 0 112.5px,#fee89f 0 114.5px,#feeca8 0 116.0px,#fedf93 0 117.0px,#feeaa3 0 118.0px,#fedc90 0 119.0px,#fee59a 0 122.0px,#fee9a1 0 123.0px,#fedb8f 0 125.0px,#fdd185 0 128.0px,#fdcb7f 0 130.0px,#fee498 0 132.0px,#fdf2b3 0 133.0px,#fdf2b2 0 135.0px,#feeaa3 0 136.5px,#fee9a1 0 137.5px,#fee89f 0 139.5px,#f9f7c4 0 141.0px,#f6f8ce 0 142.0px,#fdf5b9 0 144.0px,#f7f8cd 0 145.0px,#f7f8cc 0 146.0px,#f5f8d1 0 148.0px,#f4f8d4 0 149.5px,#f0f7db 0 150.5px,#fdf2b2 0 153.5px,#fee69c 0 154.5px,#fdeda9 0 155.5px,#fee8a0 0 157.0px,#fdf0ae 0 158.5px,#fee59b 0 159.5px,#f5f8d1 0 161.5px,#fdefac 0 162.5px,#faf6c3 0 165.5px,#feeca7 0 167.5px,#fbf6be 0 169.5px,#fee8a0 0 172.5px,#fdeda9 0 175.5px,#fdefac 0 176.5px,#fbf6be 0 177.5px,#feeba5 0 179.5px,#f7f8cd 0 180.5px,#f5f8d2 0 182.5px,#f6f8d0 0 184.0px,#f2f7d9 0 186.0px,#f4f7d5 0 189.0px,#e9f4e6 0 190.5px,#fdf3b3 0 191.5px,#f2f7d7 0 194.5px,#fdf2b2 0 195.5px,#f7f7cc 0 196.5px,#f3f7d7 0 198.0px,#f8f7ca 0 200.0px,#eff6de 0 202.0px,#f3f7d5 0 203.0px,#f2f7d8 0 204.0px,#fdf5b7 0 206.0px,#f8f7ca 0 208.0px,#fdf3b5 0 209.0px,#f9f7c5 0 211.0px,#fbf6c0 0 213.0px,#fdf4b6 0 215.0px,#fcf5ba 0 218.0px,#f6f8d0 0 219.5px,#fee89f 0 220.5px,#fee499 0 222.5px,#fedc90 0 224.0px,#fbaf6c 0 226.0px,#fee195 0 227.0px,#fdf4b7 0 228.0px,#fdd488 0 229.5px,#fee9a2 0 231.5px,#feeca8 0 233.5px,#f8f7ca 0 234.5px,#fedf93 0 236.0px,#fee9a1 0 237.0px,#fedc90 0 238.0px,#fdcc80 0 241.0px,#fdeeac 0 242.0px,#fdefac 0 243.0px,#fee59a 0 245.0px,#fedb8f 0 246.0px,#feeaa4 0 247.5px,#fdeda9 0 249.0px,#fdd488 0 252.0px,#f4f8d3 0 253.5px,#fee195 0 254.5px,#fee397 0 255.5px,#f6f8cf 0 257.0px,#fee59a 0 258.5px,#feeaa4 0 260.5px,#fed98d 0 261.5px,#feeaa3 0 262.5px,#fdd084 0 265.5px,#fee59a 0 267.0px,#fee89f 0 270.0px,#fdf2b3 0 272.0px,#fee69b 0 273.0px,#fdd185 0 275.0px,#fee094 0 276.5px,#fedc90 0 277.5px,#fdd387 0 279.5px,#fee69b 0 281.0px,#fdd589 0 282.0px,#feeba6 0 283.0px,#fdefad 0 284.0px,#fdc97d 0 285.0px,#feeca8 0 286.0px,#feeaa3 0 287.0px,#feeca7 0 289.0px,#fcf6bc 0 290.0px,#ecf5e3 0 291.0px,#f2f7d8 0 292.5px,#f4f8d4 0 295.5px,#f1f7da 0 297.5px,#eff6dd 0 298.5px,#e3f1ec 0 299.5px,#f6f8d1 0 300.5px,#f0f6dc 0 301.5px,#f2f7d9 0 302.5px,#faf6c2 0 304.0px,#f7f7cc 0 306.0px,#f6f8d0 0 307.0px,#f7f8ce 0 309.0px,#eef6e0 0 311.0px,#f4f7d5 0 312.0px,#f5f8d3 0 313.0px,#f0f7db 0 315.0px,#fbf6bf 0 318.0px,#f3f7d7 0 320.0px,#feeaa3 0 322.0px,#fee69c 0 324.0px,#feeca8 0 326.0px,#fee89f 0 328.0px,#fdeda9 0 329.0px,#fedc90 0 330.5px,#f1f7da 0 333.5px,#f9f7c5 0 336.5px,#f8f7c9 0 339.5px,#feeaa4 0 341.5px,#feeca6 0 344.5px,#feeaa3 0 346.5px,#fcf6bd 0 348.0px,#fdeeaa 0 349.5px,#fbf6bf 0 351.0px,#fbf6c0 0 352.5px,#fee89f 0 353.5px,#f9f7c5 0 355.0px,#fdeda8 0 357.0px,#fee9a1 0 358.5px,#fdf3b4 0 359.5px,#fdefad 0 360.5px,#fee296 0 361.5px,#fdf2b1 0 362.5px,#feeba5 0 364.0px,#fee498 0 365.0px,#fee79f 0 366.0px,#fee79e 0 367.0px,#fed98d 0 369.0px,#fdf0af 0 370.0px,#fcf6bc 0 371.0px,#fdefac 0 372.0px,#fdf1b0 0 374.0px,#fbf6be 0 375.0px,#fee397 0 377.0px,#fdf5b8 0 378.0px,#f7f8cd 0 379.0px,#e9f4e6 0 381.0px,#f4f8d3 0 382.0px,#eff6df 0 383.0px,#f0f6dc 0 386.0px,#e4f2eb 0 387.0px,#f4f7d4 0 389.0px,#ebf5e3 0 390.5px,#ecf5e3 0 391.5px,#ebf5e4 0 393.5px,#deeeef 0 394.5px,#dcecf0 0 395.5px,#e4f2eb 0 397.5px,#eff6de 0 398.5px,#ebf5e3 0 400.0px,#f6f8cf 0 401.0px,#f2f7d7 0 402.0px,#f5f8d1 0 405.0px,#f6f8d1 0 406.5px,#fdf5b8 0 408.0px,#fdeeac 0 409.5px,#f9f7c7 0 411.0px,#f5f8d2 0 412.0px,#f2f7d8 0 413.0px,#eaf5e5 0 414.0px,#f2f7d8 0 415.0px,#e9f4e6 0 417.0px,#f5f8d3 0 418.0px,#f5f8d1 0 420.0px,#f9f7c7 0 421.0px,#fdf5b8 0 422.5px,#f8f7ca 0 425.5px,#f8f7c8 0 427.5px,#fdc579 0 428.5px,#fbaa68 0 430.5px,#fcb771 0 431.5px,#fdf4b6 0 432.5px,#f6f8ce 0 434.5px,#fdefad 0 435.5px,#fcf5ba 0 438.5px,#fdf0ae 0 440.5px,#f8f7ca 0 441.5px,#feeca7 0 444.5px,#f9f7c4 0 446.5px,#f4f8d4 0 447.5px,#fdf0ae 0 449.5px,#ecf5e2 0 452.5px,#cde3ee 0 453.5px,#e8f4e8 0 455.5px,#eaf5e5 0 458.5px,#e9f4e6 0 459.5px,#e7f4e8 0 461.5px,#f1f7da 0 462.5px,#f0f6dd 0 463.5px,#f6f8d1 0 464.5px,#f2f7d8 0 467.5px,#dbecf0 0 468.5px,#ecf5e2 0 470.5px,#cee3ef 0 472.5px,#ddedef 0 475.5px,#d9ebf1 0 477.5px,#d0e5f0 0 478.5px,#d7e9f2 0 480.5px,#dbecf1 0 481.5px,#f0f7dc 0 483.5px,#f5f8d2 0 486.5px,#f0f7db 0 489.5px,#f7f8ce 0 492.5px,#e7f3e9 0 495.5px,#f0f6dd 0 496.5px,#eff6de 0 499.5px,#eef6e0 0 500.5px,#e9f4e6 0 503.5px,#e8f4e7 0 505.0px,#f2f7d7 0 507.0px,#eaf5e4 0 510.0px,#eaf5e5 0 511.0px,#f1f7da 0 512.0px,#f1f7db 0 514.0px,#e0efed 0 515.5px,#eef6e0 0 516.5px,#ebf5e4 0 518.5px,#f0f6dd 0 519.5px,#f4f8d4 0 520.5px,#ebf5e4 0 523.5px,#e5f3ea 0 524.5px,#f2f7d8 0 526.0px,#e9f4e7 0 527.0px,#f0f7dc 0 528.0px,#f1f7da 0 530.0px,#f1f7db 0 532.0px,#ebf5e3 0 533.0px,#f1f7d9 0 534.5px,#e1f0ed 0 537.5px,#f4f8d4 0 539.5px,#e2f0ec 0 540.5px,#e3f1ec 0 541.5px,#e1f0ed 0 542.5px,#dbecf0 0 543.5px,#e9f4e6 0 544.5px,#e5f2eb 0 545.5px,#e4f2eb 0 547.0px,#dfeeee 0 548.0px,#edf6e1 0 549.0px,#dbecf0 0 550.0px,#f0f7dc 0 551.5px,#eaf4e5 0 553.5px,#f4f7d4 0 555.5px,#f0f7dc 0 558.5px,#ecf5e3 0 559.5px,#deeeef 0 561.0px,#eaf4e5 0 563.0px,#e0efee 0 564.0px,#dbecf0 0 567.0px,#eef6e0 0 569.0px,#e3f1ec 0 570.0px,#e7f4e8 0 573.0px,#f5f8d2 0 575.0px,#eff6dd 0 576.0px,#e3f1ec 0 577.5px,#f3f7d6 0 580.5px,#eaf4e5 0 582.5px,#edf5e2 0 585.5px,#f7f8cd 0 586.5px,#f3f7d6 0 588.0px,#e7f3e9 0 589.0px,#f1f7da 0 593.5px,#f2f7d7 0 595.5px,#d9ebf1 0 596.5px,#ebf5e3 0 597.5px,#e6f3ea 0 600.5px,#fee69b 0 602.5px,#feeaa3 0 604.0px,#fede92 0 605.5px,#fee599 0 607.0px,#fdcb7f 0 609.0px,#fee9a1 0 610.0px,#fee59a 0 612.0px,#fed78b 0 613.0px,#fdc57a 0 614.0px,#fedc90 0 615.0px)"></div><div style="left:94.42px;background:linear-gradient(#fdf5b8 0 1.0px,#fdf3b5 0 2.0px,#fdf4b6 0 3.5px,#f4f7d5 0 5.5px,#fdf2b2 0 6.5px,#f9f7c7 0 7.5px,#fdf4b6 0 10.5px,#fdf1b1 0 12.5px,#fedc90 0 13.5px,#fdf4b6 0 14.5px,#fee69d 0 16.5px,#feeba4 0 17.5px,#fee69c 0 19.5px,#fdd589 0 20.5px,#fdcb7f 0 21.5px,#fedc90 0 22.5px,#fba867 0 24.0px,#fdc579 0 25.5px,#fdc277 0 26.5px,#fcb770 0 27.5px,#fdd387 0 28.5px,#fdc67a 0 30.5px,#fedd91 0 32.0px,#fed68a 0 33.0px,#fbb26e 0 36.0px,#fee69c 0 38.0px,#fdd286 0 39.0px,#fee296 0 40.0px,#f27c4f 0 42.0px,#fdcb7f 0 44.0px,#fba867 0 46.0px,#f8985e 0 47.0px,#fba968 0 49.0px,#f58855 0 51.0px,#fbaf6c 0 52.5px,#fbb16d 0 53.5px,#fcb670 0 54.5px,#fbb26d 0 55.5px,#ed6b46 0 57.5px,#f7905a 0 60.5px,#faa364 0 61.5px,#fdc77b 0 62.5px,#f58855 0 64.0px,#f48554 0 65.0px,#fedb8f 0 67.0px,#fbaa68 0 68.0px,#fa9f62 0 70.0px,#f38051 0 71.0px,#fdcc80 0 73.0px,#fdcf83 0 76.0px,#fcbb73 0 78.0px,#fed98d 0 79.0px,#fbaa68 0 80.0px,#fdc479 0 82.0px,#fcb972 0 84.0px,#fcbb73 0 86.0px,#fdc77b 0 87.0px,#fcb670 0 88.0px,#fede92 0 89.0px,#fcbc74 0 91.0px,#feeaa4 0 93.0px,#fcb670 0 94.0px,#fdc378 0 96.0px,#fdc97d 0 97.0px,#fdd286 0 99.0px,#fed68a 0 100.0px,#fcf5bb 0 101.5px,#f9f7c6 0 103.5px,#edf6e1 0 105.5px,#f7f8cd 0 107.0px,#f7f8ce 0 110.0px,#f8f7ca 0 111.0px,#fee9a2 0 112.5px,#fee9a1 0 114.5px,#feeaa4 0 116.0px,#feeaa2 0 117.0px,#fdf0ae 0 118.0px,#fdefad 0 119.0px,#fee9a1 0 122.0px,#feeca8 0 123.0px,#fdf5b8 0 125.0px,#fdefad 0 128.0px,#fdf5b8 0 129.0px,#f7f7cb 0 130.0px,#fedf93 0 132.0px,#fdeeaa 0 133.0px,#fee59a 0 135.0px,#fdf0af 0 136.5px,#fdefac 0 137.5px,#faf6c1 0 139.5px,#f7f7cc 0 141.0px,#f6f8cf 0 142.0px,#f4f8d3 0 144.0px,#f9f7c5 0 145.0px,#eff6de 0 146.0px,#f6f8cf 0 148.0px,#f5f8d2 0 149.5px,#f2f7d9 0 150.5px,#f9f7c6 0 153.5px,#eef6df 0 154.5px,#f6f8ce 0 155.5px,#f5f8d2 0 157.0px,#f1f7d9 0 158.5px,#f6f8d1 0 159.5px,#f6f8ce 0 161.5px,#f3f7d5 0 162.5px,#fdf0ae 0 165.5px,#fdf5b8 0 167.5px,#f9f7c5 0 169.5px,#fdf5b8 0 172.5px,#fdeeaa 0 175.5px,#fcf5bb 0 176.5px,#fdf1b1 0 177.5px,#f8f7c9 0 179.5px,#fbf6be 0 180.5px,#f6f8d1 0 182.5px,#f5f8d3 0 184.0px,#e7f3e9 0 186.0px,#e9f4e6 0 189.0px,#e3f1ec 0 190.5px,#f4f8d3 0 191.5px,#faf6c1 0 194.5px,#f6f8d1 0 195.5px,#f5f8d3 0 196.5px,#f3f7d7 0 198.0px,#fbf6c0 0 200.0px,#f7f7cc 0 202.0px,#eff6de 0 203.0px,#fbf6be 0 204.0px,#f9f7c6 0 206.0px,#fdf5ba 0 208.0px,#f5f8d2 0 209.0px,#eff6dd 0 211.0px,#f5f8d2 0 213.0px,#f5f8d3 0 215.0px,#f5f8d2 0 218.0px,#f6f8d0 0 219.5px,#fdf0af 0 220.5px,#fdf3b4 0 222.5px,#fdf1b1 0 224.0px,#fee9a2 0 226.0px,#fdeda9 0 227.0px,#f8f7c9 0 228.0px,#fee195 0 229.5px,#fdefad 0 230.5px,#feeca7 0 231.5px,#feeca8 0 233.5px,#fee79e 0 234.5px,#feeaa4 0 236.0px,#fee79d 0 237.0px,#fdf5b7 0 238.0px,#fdeeaa 0 241.0px,#f6f8d0 0 242.0px,#fdf4b7 0 243.0px,#f7f8cd 0 245.0px,#fdf4b6 0 246.0px,#faf6c2 0 247.5px,#fcf6bd 0 249.0px,#fdf0ae 0 252.0px,#fdf3b4 0 253.5px,#fdeda9 0 254.5px,#fdf1b0 0 255.5px,#fedc90 0 257.0px,#fcf5bb 0 258.5px,#fee9a1 0 260.5px,#fdf1b1 0 261.5px,#fee79e 0 262.5px,#faf6c1 0 265.5px,#fdeeaa 0 267.0px,#f4f7d4 0 270.0px,#fdefac 0 272.0px,#fdeda9 0 273.0px,#fdf0ae 0 275.0px,#fee8a0 0 276.5px,#fdeeaa 0 277.5px,#fcf5bb 0 279.5px,#fdf4b6 0 281.0px,#fbf6bd 0 282.0px,#f9f7c6 0 283.0px,#f9f7c5 0 284.0px,#f1f7db 0 285.0px,#fdf3b5 0 286.0px,#f7f8cd 0 287.0px,#f8f7ca 0 289.0px,#f2f7d9 0 290.0px,#f8f7ca 0 291.0px,#e6f3ea 0 292.5px,#fdf5b8 0 295.5px,#f7f8cc 0 297.5px,#faf6c2 0 298.5px,#f9f7c7 0 299.5px,#eaf4e5 0 300.5px,#f5f8d2 0 301.5px,#f6f8d0 0 302.5px,#e7f3e9 0 304.0px,#f4f8d3 0 306.0px,#f1f7da 0 307.0px,#f3f7d7 0 309.0px,#f3f7d5 0 311.0px,#f7f7cc 0 312.0px,#f2f7d9 0 313.0px,#f2f7d7 0 315.0px,#f1f7da 0 318.0px,#f4f8d4 0 320.0px,#fbf6c0 0 322.0px,#e7f3e9 0 324.0px,#f3f7d7 0 326.0px,#ebf5e3 0 328.0px,#edf6e1 0 329.0px,#eff6df 0 330.5px,#edf5e2 0 333.5px,#e1f0ed 0 336.5px,#eff6de 0 339.5px,#edf6e1 0 341.5px,#f4f8d4 0 344.5px,#f6f8d0 0 346.5px,#f8f7c9 0 348.0px,#f5f8d2 0 349.5px,#fdf3b5 0 351.0px,#faf6c4 0 353.5px,#ecf5e2 0 355.0px,#feeba5 0 357.0px,#fdf1b0 0 358.5px,#fcf5bb 0 359.5px,#fdd286 0 360.5px,#fdd185 0 361.5px,#fed589 0 362.5px,#fee599 0 364.0px,#fdefad 0 365.0px,#fee498 0 366.0px,#fedc90 0 367.0px,#fdf0ae 0 369.0px,#fee195 0 370.0px,#fdd286 0 371.0px,#fedf93 0 372.0px,#fdd286 0 374.0px,#fedf93 0 375.0px,#fdcd81 0 377.0px,#feda8e 0 378.0px,#fdd488 0 379.0px,#ebf5e3 0 381.0px,#f7f7cb 0 382.0px,#eff6df 0 383.0px,#eff6dd 0 386.0px,#eef6e0 0 387.0px,#f1f7da 0 389.0px,#e5f2eb 0 390.5px,#e8f4e7 0 391.5px,#eff6dd 0 393.5px,#eef6df 0 394.5px,#ebf5e4 0 395.5px,#eaf5e5 0 397.5px,#eef6e0 0 398.5px,#e7f3e9 0 400.0px,#f4f7d4 0 401.0px,#fcf6bd 0 402.0px,#fdf5b8 0 405.0px,#f6f8d0 0 406.5px,#fdf0ae 0 408.0px,#fcf5ba 0 409.5px,#f8f7c9 0 411.0px,#f3f7d6 0 412.0px,#fdf5b8 0 413.0px,#faf6c4 0 414.0px,#faf6c3 0 415.0px,#fdf4b6 0 417.0px,#f8f7cb 0 418.0px,#eff6df 0 420.0px,#fdf3b4 0 421.0px,#f6f8cf 0 422.5px,#f5f8d2 0 425.5px,#f2f7d9 0 427.5px,#fcf6bc 0 428.5px,#f7f7cb 0 430.5px,#fed88c 0 431.5px,#fbac6a 0 432.5px,#faa364 0 434.5px,#fcf5bb 0 435.5px,#fdeeab 0 436.5px,#f4f7d5 0 438.5px,#fcf5ba 0 440.5px,#e3f1ec 0 444.5px,#f0f6dc 0 446.5px,#ecf5e3 0 447.5px,#ebf5e4 0 449.5px,#dcedef 0 452.5px,#e6f3ea 0 453.5px,#daebf1 0 455.5px,#edf6e1 0 458.5px,#e4f1eb 0 459.5px,#f1f7da 0 461.5px,#ecf5e3 0 462.5px,#f2f7d8 0 463.5px,#f0f7db 0 464.5px,#f6f8d1 0 467.5px,#fcf6bc 0 468.5px,#f3f7d6 0 470.5px,#cee3ef 0 472.5px,#d4e7f1 0 475.5px,#d1e5f0 0 477.5px,#b7d4e7 0 478.5px,#d0e4ef 0 480.5px,#f1f7da 0 481.5px,#f2f7d9 0 483.5px,#e6f3ea 0 486.5px,#eef6e0 0 489.5px,#edf6e2 0 492.5px,#e4f2eb 0 495.5px,#f7f8cd 0 496.5px,#eef6df 0 499.5px,#eff6de 0 500.5px,#eff6dd 0 503.5px,#eff6de 0 505.0px,#e9f4e7 0 507.0px,#ebf5e4 0 510.0px,#eef6df 0 511.0px,#ebf5e4 0 512.0px,#f0f7dc 0 514.0px,#eff6de 0 515.5px,#eff6dd 0 516.5px,#e8f4e8 0 518.5px,#e0efed 0 519.5px,#eff6df 0 520.5px,#f3f7d6 0 523.5px,#f0f7db 0 524.5px,#f2f7d9 0 526.0px,#f6f8d1 0 527.0px,#f4f8d4 0 528.0px,#f5f8d2 0 530.0px,#e6f3ea 0 532.0px,#f3f7d6 0 533.0px,#f0f7dc 0 534.5px,#e2f1ec 0 537.5px,#eaf5e5 0 539.5px,#f6f8d1 0 540.5px,#f7f7cb 0 541.5px,#f1f7db 0 542.5px,#ebf5e4 0 543.5px,#f3f7d5 0 544.5px,#ecf5e2 0 545.5px,#ecf5e3 0 548.0px,#e4f2eb 0 549.0px,#f3f7d7 0 550.0px,#e8f4e7 0 551.5px,#f2f7d9 0 553.5px,#e7f3e9 0 555.5px,#ebf5e4 0 558.5px,#ebf5e3 0 559.5px,#dbecf0 0 561.0px,#e8f4e8 0 563.0px,#f3f7d5 0 564.0px,#eaf5e5 0 567.0px,#eaf4e5 0 569.0px,#ecf5e3 0 570.0px,#f5f8d3 0 573.0px,#f8f7cb 0 575.0px,#eff6de 0 576.0px,#eaf5e5 0 577.5px,#f4f8d4 0 580.5px,#e6f3ea 0 582.5px,#eaf4e6 0 585.5px,#e6f3ea 0 586.5px,#ebf5e4 0 588.0px,#f2f7d8 0 589.0px,#e1f0ed 0 590.5px,#f0f7db 0 593.5px,#eff6de 0 595.5px,#e5f2eb 0 596.5px,#ecf5e2 0 597.5px,#eb6442 0 600.5px,#f7925b 0 602.5px,#fedb8f 0 604.0px,#fee9a2 0 605.5px,#fee498 0 607.0px,#fcb46f 0 609.0px,#fee397 0 610.0px,#fee498 0 612.0px,#fdce82 0 613.0px,#fee79d 0 614.0px,#fee69b 0 615.0px)"></div><div style="left:128.44px;background:linear-gradient(#fdc177 0 1.0px,#fee9a0 0 2.0px,#fed78b 0 3.5px,#fdce82 0 5.5px,#fedc90 0 6.5px,#fdc67a 0 7.5px,#fdcc80 0 10.5px,#fdf4b5 0 12.5px,#feeca7 0 13.5px,#fdeda8 0 14.5px,#fedb8f 0 16.5px,#fed98d 0 17.5px,#fdf0ae 0 19.5px,#fcbf75 0 20.5px,#fcbf76 0 21.5px,#fdcb7f 0 22.5px,#fdc57a 0 24.0px,#fee59b 0 25.5px,#fed78b 0 26.5px,#fedc90 0 27.5px,#fdc378 0 28.5px,#fdcf83 0 30.5px,#fcf6bc 0 32.0px,#faf6c3 0 33.0px,#feeba5 0 36.0px,#feeaa4 0 38.0px,#faf6c3 0 39.0px,#fee9a1 0 40.0px,#f99c60 0 42.0px,#fdcb7f 0 44.0px,#fbab69 0 46.0px,#fcb972 0 47.0px,#f7955c 0 49.0px,#fdc67a 0 51.0px,#fba867 0 52.5px,#f68f59 0 53.5px,#fdcf83 0 54.5px,#fdca7e 0 55.5px,#fcba73 0 57.5px,#faa264 0 60.5px,#f7925a 0 61.5px,#fcb570 0 62.5px,#fdca7e 0 64.0px,#fdc277 0 65.0px,#fbad6a 0 67.0px,#f8965d 0 68.0px,#fba767 0 70.0px,#fbb06c 0 71.0px,#fdcf83 0 73.0px,#fdd185 0 76.0px,#fdce82 0 78.0px,#fbb36e 0 79.0px,#fdc177 0 80.0px,#fedf93 0 82.0px,#fdd185 0 84.0px,#fed78b 0 86.0px,#fbb36e 0 87.0px,#fdeda9 0 88.0px,#fee599 0 89.0px,#fdd286 0 91.0px,#fee499 0 93.0px,#fdefad 0 94.0px,#fed88c 0 96.0px,#fdc478 0 97.0px,#fdc87c 0 99.0px,#fee9a1 0 100.0px,#f5f8d2 0 101.5px,#fdf4b6 0 103.5px,#f7f8cd 0 105.5px,#fcf5ba 0 107.0px,#f8f7c9 0 110.0px,#fdefad 0 111.0px,#fdf0af 0 112.5px,#fee89f 0 114.5px,#feeca7 0 116.0px,#fdf3b5 0 117.0px,#faf6c2 0 118.0px,#fdf2b3 0 119.0px,#fee397 0 122.0px,#fdf5b7 0 123.0px,#fee397 0 125.0px,#faf6c4 0 128.0px,#fdf3b4 0 129.0px,#f5f8d3 0 130.0px,#feeaa3 0 132.0px,#fee499 0 133.0px,#fdf1b0 0 136.5px,#feeca8 0 137.5px,#fee9a1 0 139.5px,#eff6de 0 141.0px,#f7f8ce 0 142.0px,#f8f7c9 0 144.0px,#f7f8ce 0 145.0px,#f2f7d8 0 146.0px,#f4f8d3 0 148.0px,#f0f6dc 0 149.5px,#f5f8d2 0 150.5px,#f2f7d7 0 153.5px,#f9f7c6 0 154.5px,#faf6c2 0 155.5px,#fbf6c0 0 157.0px,#f8f7ca 0 158.5px,#f3f7d5 0 159.5px,#feeca8 0 161.5px,#fbf6c0 0 162.5px,#f8f7cb 0 165.5px,#f3f7d6 0 167.5px,#fdf5b8 0 169.5px,#f4f8d3 0 172.5px,#f1f7d9 0 175.5px,#f0f7dc 0 176.5px,#f9f7c7 0 177.5px,#e5f2eb 0 179.5px,#f9f7c5 0 180.5px,#f4f7d5 0 182.5px,#f5f8d1 0 184.0px,#ecf5e2 0 186.0px,#eaf4e5 0 189.0px,#eef6e0 0 190.5px,#eaf5e5 0 191.5px,#f0f7dc 0 194.5px,#f1f7db 0 195.5px,#f1f7da 0 196.5px,#f2f7d9 0 198.0px,#f1f7da 0 200.0px,#f2f7d9 0 202.0px,#f3f7d6 0 203.0px,#f2f7d7 0 204.0px,#f0f6dd 0 206.0px,#eaf5e4 0 208.0px,#ecf5e3 0 209.0px,#f5f8d2 0 211.0px,#f9f7c7 0 213.0px,#ecf5e3 0 215.0px,#f3f7d7 0 218.0px,#f0f7db 0 219.5px,#feeba5 0 220.5px,#feeca6 0 222.5px,#feeba4 0 224.0px,#fdd185 0 226.0px,#fedc90 0 227.0px,#fdcc80 0 228.0px,#fee599 0 229.5px,#edf6e1 0 230.5px,#f4f8d4 0 231.5px,#f0f6dd 0 233.5px,#f7f7cc 0 234.5px,#f5f8d2 0 236.0px,#f2f7d7 0 237.0px,#f2f7d9 0 238.0px,#f1f7da 0 241.0px,#fee599 0 242.0px,#feeba5 0 243.0px,#fdedaa 0 245.0px,#fdeeab 0 246.0px,#fed78b 0 247.5px,#fcf6bc 0 249.0px,#fed98d 0 252.0px,#fee69c 0 253.5px,#fdd084 0 254.5px,#fedd91 0 255.5px,#feeaa2 0 257.0px,#fdf0ae 0 258.5px,#fdc076 0 260.5px,#fdefad 0 261.5px,#feeaa2 0 262.5px,#fdc278 0 265.5px,#fedf93 0 267.0px,#fee69c 0 270.0px,#fdf0ae 0 272.0px,#feeba5 0 273.0px,#feda8e 0 275.0px,#fdf3b5 0 276.5px,#fee9a2 0 277.5px,#fee69c 0 279.5px,#feeaa3 0 281.0px,#fdf1b0 0 282.0px,#fcf5bc 0 283.0px,#fee89f 0 284.0px,#f9f7c6 0 285.0px,#fee498 0 286.0px,#fdd589 0 287.0px,#faf6c4 0 289.0px,#fee9a2 0 290.0px,#f6f8d1 0 291.0px,#f5f8d3 0 292.5px,#fdf4b5 0 295.5px,#fdf3b5 0 297.5px,#fdf5b8 0 298.5px,#fdf0af 0 299.5px,#f5f8d2 0 300.5px,#fdf3b5 0 301.5px,#f0f7dc 0 302.5px,#f1f7da 0 304.0px,#fbf6bd 0 306.0px,#f3f7d6 0 307.0px,#f5f8d2 0 309.0px,#f6f8d1 0 311.0px,#f4f7d4 0 312.0px,#f1f7d9 0 315.0px,#fcf5bb 0 318.0px,#f2f7d7 0 320.0px,#faf6c4 0 322.0px,#f7f8ce 0 324.0px,#f5f8d2 0 328.0px,#f8f7ca 0 329.0px,#f7f8cd 0 330.5px,#f9f7c6 0 333.5px,#edf5e2 0 336.5px,#f7f7cb 0 339.5px,#fdf1b0 0 341.5px,#ecf5e3 0 344.5px,#f2f7d8 0 346.5px,#faf6c2 0 348.0px,#eef6e0 0 349.5px,#fdeda8 0 351.0px,#fdf2b3 0 352.5px,#feeba5 0 353.5px,#fee59b 0 355.0px,#fdcf83 0 357.0px,#fee79d 0 358.5px,#fedc90 0 359.5px,#feeca6 0 360.5px,#fdcf83 0 361.5px,#fed78b 0 362.5px,#feeba4 0 364.0px,#feeba5 0 365.0px,#fdd286 0 366.0px,#fdd084 0 367.0px,#fee8a0 0 369.0px,#feeaa3 0 370.0px,#feeba5 0 371.0px,#fee094 0 372.0px,#fdf3b3 0 374.0px,#fdcf83 0 375.0px,#fdd387 0 377.0px,#fee397 0 378.0px,#fed589 0 379.0px,#e8f4e7 0 382.0px,#eaf4e5 0 383.0px,#ecf5e3 0 386.0px,#f5f8d2 0 387.0px,#eef6df 0 389.0px,#ecf5e2 0 390.5px,#ebf5e4 0 391.5px,#eef6e0 0 393.5px,#ecf5e2 0 394.5px,#eef6df 0 395.5px,#e5f2eb 0 397.5px,#eaf4e5 0 398.5px,#f1f7db 0 400.0px,#f3f7d7 0 401.0px,#f8f7ca 0 402.0px,#fdf1b1 0 405.0px,#f4f8d3 0 406.5px,#f9f7c7 0 408.0px,#faf6c4 0 409.5px,#f2f7d8 0 412.0px,#f5f8d2 0 413.0px,#f0f7db 0 414.0px,#e9f4e6 0 415.0px,#fbf6c0 0 417.0px,#f2f7d8 0 418.0px,#faf6c3 0 420.0px,#f7f7cc 0 421.0px,#f6f8d0 0 422.5px,#f8f7cb 0 425.5px,#fdf2b3 0 427.5px,#edf6e1 0 428.5px,#faf6c2 0 430.5px,#fdf1b0 0 431.5px,#feeaa3 0 432.5px,#f8f7c8 0 434.5px,#e9f4e6 0 435.5px,#fdf4b6 0 436.5px,#faf6c3 0 438.5px,#fcf6bc 0 440.5px,#e4f2eb 0 441.5px,#e9f4e6 0 444.5px,#f2f7d9 0 446.5px,#deeeee 0 447.5px,#e6f3ea 0 449.5px,#ddedef 0 452.5px,#e1f0ed 0 453.5px,#e0efee 0 455.5px,#e3f1ec 0 458.5px,#edf6e1 0 459.5px,#f3f7d6 0 461.5px,#f5f8d2 0 462.5px,#fdf3b4 0 463.5px,#f5f8d2 0 464.5px,#f9f7c5 0 467.5px,#f5f8d2 0 468.5px,#f0f6dd 0 470.5px,#c6deec 0 472.5px,#cfe4ef 0 475.5px,#d0e4ef 0 477.5px,#c4dceb 0 478.5px,#cae0ed 0 480.5px,#f4f7d4 0 481.5px,#edf5e2 0 483.5px,#ecf5e2 0 486.5px,#eff6dd 0 489.5px,#e4f2eb 0 492.5px,#eff6dd 0 495.5px,#eef6e0 0 496.5px,#f1f7da 0 499.5px,#e9f4e6 0 500.5px,#f3f7d5 0 503.5px,#ebf5e3 0 505.0px,#e7f3e9 0 507.0px,#edf6e1 0 510.0px,#f5f8d2 0 511.0px,#f1f7db 0 512.0px,#e6f3ea 0 514.0px,#ebf5e4 0 515.5px,#dbecf0 0 516.5px,#edf5e2 0 518.5px,#e5f3ea 0 519.5px,#ebf5e3 0 520.5px,#f1f7db 0 523.5px,#f1f7da 0 524.5px,#edf5e2 0 526.0px,#fdf5b8 0 527.0px,#e8f4e7 0 528.0px,#f1f7da 0 530.0px,#f3f7d5 0 532.0px,#eff6de 0 533.0px,#f0f7db 0 534.5px,#f0f7dc 0 537.5px,#f1f7da 0 539.5px,#ecf5e2 0 540.5px,#f1f7d9 0 541.5px,#f5f8d1 0 542.5px,#f4f7d4 0 543.5px,#ebf5e3 0 544.5px,#f7f8cd 0 545.5px,#edf6e1 0 547.0px,#eef6e0 0 548.0px,#f1f7da 0 549.0px,#e9f4e7 0 550.0px,#f0f7dc 0 551.5px,#fbf6bf 0 553.5px,#eef6e0 0 555.5px,#eff6de 0 558.5px,#eef6e1 0 559.5px,#f5f8d2 0 561.0px,#f1f7da 0 563.0px,#eef6e0 0 564.0px,#f2f7d8 0 567.0px,#e6f3ea 0 570.0px,#e9f4e6 0 573.0px,#f2f7d9 0 575.0px,#e6f3ea 0 576.0px,#e6f3e9 0 577.5px,#e3f1ec 0 580.5px,#e9f4e7 0 582.5px,#e7f4e8 0 585.5px,#eef6df 0 586.5px,#f1f7db 0 588.0px,#f1f7da 0 590.5px,#edf6e1 0 593.5px,#f5f8d3 0 595.5px,#f1f7db 0 596.5px,#ebf5e4 0 597.5px,#e6f3ea 0 600.5px,#feeba5 0 602.5px,#feeaa3 0 604.0px,#fee69b 0 605.5px,#fdf3b4 0 607.0px,#fdf1b1 0 609.0px,#feeca7 0 610.0px,#fdf5b9 0 612.0px,#fcf6bd 0 613.0px,#f7f8ce 0 614.0px,#fee9a1 0 615.0px)"></div><div style="left:162.46px;background:linear-gradient(#feeca7 0 1.0px,#fdcf83 0 2.0px,#fee69c 0 3.5px,#fee498 0 5.5px,#feeaa2 0 6.5px,#fee79e 0 7.5px,#fee094 0 10.5px,#fee59a 0 12.5px,#fcf5bb 0 13.5px,#feda8e 0 14.5px,#fdd084 0 16.5px,#fdd488 0 17.5px,#fee9a1 0 19.5px,#fcf6bd 0 20.5px,#fdf1b1 0 21.5px,#fdeda8 0 22.5px,#fbf6c0 0 24.0px,#f5f8d1 0 25.5px,#fdf4b6 0 26.5px,#f9f7c5 0 27.5px,#f3f7d6 0 28.5px,#fdf4b6 0 30.5px,#feeba5 0 32.0px,#f5f8d2 0 33.0px,#feeca8 0 36.0px,#feeca7 0 38.0px,#fcf5ba 0 39.0px,#fdefac 0 40.0px,#eaf5e5 0 42.0px,#ecf5e2 0 44.0px,#eff6de 0 46.0px,#f7f8ce 0 47.0px,#f2f7d7 0 49.0px,#e7f4e8 0 51.0px,#e7f3e9 0 52.5px,#ebf5e3 0 53.5px,#edf5e2 0 54.5px,#ecf5e3 0 55.5px,#f2f7d8 0 57.5px,#faf6c3 0 60.5px,#f0f6dd 0 61.5px,#fdf0ae 0 62.5px,#f3f7d6 0 64.0px,#f1f7db 0 65.0px,#f4f8d4 0 67.0px,#f5f8d2 0 68.0px,#f3f7d7 0 70.0px,#fdeda8 0 71.0px,#fdf3b4 0 73.0px,#fcf5bb 0 76.0px,#faf6c1 0 78.0px,#fdeda8 0 79.0px,#fdf2b3 0 80.0px,#f9f7c4 0 82.0px,#f5f8d3 0 84.0px,#fdefae 0 86.0px,#f9f7c5 0 87.0px,#fee59a 0 88.0px,#fdf2b2 0 89.0px,#fdf3b4 0 91.0px,#fcf5bb 0 93.0px,#faf6c4 0 94.0px,#fee8a0 0 96.0px,#fee9a2 0 97.0px,#feda8e 0 99.0px,#fdf3b5 0 100.0px,#feeba5 0 101.5px,#fdc97d 0 103.5px,#fdd387 0 105.5px,#fbb06c 0 107.0px,#fedf93 0 110.0px,#fdcb7f 0 111.0px,#f99b5f 0 112.5px,#fdc378 0 114.5px,#f99e61 0 116.0px,#fcbe75 0 118.0px,#fbac69 0 119.0px,#fbb06c 0 123.0px,#f68d58 0 125.0px,#f58855 0 128.0px,#f8955c 0 129.0px,#fdc378 0 130.0px,#e85b3d 0 132.0px,#fcb771 0 133.0px,#faa565 0 135.0px,#fdc177 0 136.5px,#fbb36e 0 137.5px,#f99d60 0 139.5px,#f38352 0 141.0px,#f8995e 0 142.0px,#eb6341 0 144.0px,#fcbd75 0 145.0px,#fba968 0 146.0px,#f38151 0 148.0px,#ee6e48 0 149.5px,#f38051 0 150.5px,#f9995e 0 153.5px,#faa364 0 154.5px,#ee6f48 0 155.5px,#fba867 0 157.0px,#faa263 0 158.5px,#f1784d 0 159.5px,#f38252 0 161.5px,#e95e3e 0 162.5px,#f8975d 0 165.5px,#f7915a 0 167.5px,#f7945c 0 169.5px,#f8965c 0 172.5px,#f38051 0 175.5px,#e14632 0 176.5px,#ea6241 0 177.5px,#f58855 0 179.5px,#f58956 0 180.5px,#ea6241 0 182.5px,#eb6442 0 184.0px,#ed6b45 0 186.0px,#f99b5f 0 189.0px,#f99d60 0 190.5px,#f58855 0 191.5px,#e44f36 0 194.5px,#f8975d 0 195.5px,#f27c4f 0 196.5px,#ec6844 0 198.0px,#faa464 0 200.0px,#f0754b 0 202.0px,#df422f 0 203.0px,#dc3c2c 0 204.0px,#ea6140 0 206.0px,#f27a4e 0 208.0px,#e95f3f 0 209.0px,#e6573b 0 211.0px,#fee195 0 213.0px,#db3a2b 0 215.0px,#f48553 0 218.0px,#f68d58 0 219.5px,#fedc90 0 220.5px,#fcb570 0 222.5px,#fdc77b 0 224.0px,#fdcb7f 0 226.0px,#fdd185 0 227.0px,#f7f7cb 0 228.0px,#fdc97d 0 229.5px,#fcb972 0 230.5px,#fdd488 0 231.5px,#fbab69 0 233.5px,#faa565 0 234.5px,#faa263 0 236.0px,#fcba73 0 237.0px,#fba968 0 238.0px,#f68f59 0 241.0px,#f48755 0 242.0px,#fcb871 0 243.0px,#f0734a 0 245.0px,#fdd286 0 246.0px,#fcb36e 0 247.5px,#faa565 0 249.0px,#f8985e 0 252.0px,#fbaf6c 0 253.5px,#fba767 0 254.5px,#fcb56f 0 255.5px,#f8985e 0 257.0px,#fdc57a 0 258.5px,#fbae6b 0 260.5px,#f68d58 0 261.5px,#fdc378 0 262.5px,#fdc77b 0 265.5px,#fbb16d 0 267.0px,#fdc97d 0 270.0px,#fba766 0 272.0px,#f8985e 0 273.0px,#f27d4f 0 275.0px,#ef7149 0 276.5px,#ef6f48 0 277.5px,#e34e36 0 279.5px,#ec6944 0 281.0px,#fcba73 0 282.0px,#f58956 0 283.0px,#fcbc74 0 284.0px,#f58a56 0 285.0px,#fbaa68 0 286.0px,#f8975d 0 287.0px,#ec6844 0 289.0px,#f69059 0 290.0px,#fee498 0 291.0px,#fdc076 0 292.5px,#fbad6a 0 295.5px,#fcbc74 0 297.5px,#fed78b 0 298.5px,#fdcb7f 0 299.5px,#fee397 0 300.5px,#fedf93 0 301.5px,#fdf1b0 0 302.5px,#f8f7c9 0 304.0px,#fee9a1 0 306.0px,#feeaa3 0 307.0px,#fdf2b3 0 309.0px,#fdf0ae 0 311.0px,#fee094 0 312.0px,#fed78b 0 313.0px,#fee094 0 315.0px,#fdeeaa 0 318.0px,#fdcf83 0 320.0px,#fcb871 0 322.0px,#fbab69 0 324.0px,#fdcf83 0 326.0px,#fdc97d 0 328.0px,#fdc77b 0 329.0px,#feda8e 0 330.5px,#fdf2b2 0 333.5px,#fedc90 0 336.5px,#feda8e 0 339.5px,#fdc378 0 341.5px,#fed589 0 344.5px,#fdefad 0 346.5px,#fee79d 0 348.0px,#fee8a0 0 349.5px,#fee79e 0 351.0px,#fedf93 0 352.5px,#fdf4b6 0 353.5px,#fdf3b3 0 355.0px,#fedf93 0 357.0px,#feeaa3 0 358.5px,#fee69b 0 359.5px,#eef6e0 0 360.5px,#eaf4e5 0 361.5px,#f8f7ca 0 362.5px,#f0f7db 0 364.0px,#f5f8d2 0 365.0px,#f7f7cb 0 366.0px,#eff6de 0 367.0px,#f0f7dc 0 369.0px,#e3f1eb 0 370.0px,#ecf5e2 0 371.0px,#e5f2eb 0 374.0px,#f2f7d8 0 375.0px,#ebf5e4 0 377.0px,#f4f8d4 0 378.0px,#e9f4e6 0 379.0px,#f1f7da 0 381.0px,#f3f7d6 0 382.0px,#edf5e2 0 383.0px,#f1f7d9 0 386.0px,#ebf5e3 0 387.0px,#eff6df 0 389.0px,#f0f7db 0 390.5px,#d2e6f0 0 391.5px,#ddedef 0 393.5px,#eff6df 0 394.5px,#e4f2eb 0 395.5px,#e2f0ec 0 397.5px,#e6f3ea 0 398.5px,#dfefee 0 400.0px,#cae1ed 0 401.0px,#d3e6f0 0 402.0px,#cbe1ee 0 405.0px,#c1daea 0 406.5px,#dbecf0 0 408.0px,#d6e9f1 0 409.5px,#e8f4e7 0 411.0px,#e7f3e9 0 412.0px,#eef6e0 0 413.0px,#deeeef 0 414.0px,#e0efed 0 417.0px,#e2f0ec 0 418.0px,#eff6df 0 420.0px,#fdf0af 0 421.0px,#f4f7d5 0 422.5px,#f3f7d7 0 425.5px,#f3f7d5 0 427.5px,#fdf2b2 0 428.5px,#f3f7d5 0 430.5px,#fcf5bb 0 431.5px,#fdf1b0 0 432.5px,#fdeeab 0 434.5px,#fdf2b3 0 435.5px,#fdedaa 0 436.5px,#fdf3b4 0 438.5px,#fdefad 0 440.5px,#fdf3b5 0 441.5px,#fee9a2 0 444.5px,#fdf3b5 0 446.5px,#fdeda8 0 447.5px,#fed98d 0 449.5px,#f7f8ce 0 452.5px,#fdf4b6 0 453.5px,#f3f7d6 0 455.5px,#f3f7d5 0 458.5px,#fcf5ba 0 459.5px,#f0f6dd 0 461.5px,#fdf5b8 0 462.5px,#f0f7dc 0 463.5px,#faf6c3 0 464.5px,#f6f8cf 0 467.5px,#faf6c1 0 468.5px,#f0f7db 0 470.5px,#f4f8d4 0 472.5px,#f0f7dc 0 475.5px,#edf6e1 0 477.5px,#f4f7d5 0 478.5px,#f1f7da 0 480.5px,#f0f6dc 0 481.5px,#ecf5e3 0 483.5px,#f6f8d1 0 486.5px,#f2f7d9 0 489.5px,#e7f3e8 0 492.5px,#ebf5e3 0 495.5px,#eff6dd 0 496.5px,#e3f1ec 0 499.5px,#e2f1ec 0 500.5px,#edf6e1 0 503.5px,#f0f7db 0 505.0px,#f9f7c5 0 507.0px,#e0efed 0 510.0px,#f5f8d2 0 511.0px,#f8f7ca 0 512.0px,#f0f6dd 0 514.0px,#e6f3ea 0 515.5px,#eff6de 0 516.5px,#e7f3e9 0 518.5px,#e6f3ea 0 519.5px,#ecf5e2 0 520.5px,#e8f4e8 0 523.5px,#eef6df 0 524.5px,#f0f6dd 0 526.0px,#e4f2eb 0 527.0px,#f2f7d9 0 528.0px,#edf6e1 0 530.0px,#f2f7d8 0 532.0px,#f0f6dd 0 533.0px,#eaf5e5 0 534.5px,#dfeeee 0 537.5px,#edf6e1 0 539.5px,#e5f3ea 0 540.5px,#deeeee 0 541.5px,#ecf5e3 0 542.5px,#deeeee 0 543.5px,#e4f2eb 0 544.5px,#edf5e2 0 545.5px,#e9f4e7 0 547.0px,#e0efee 0 548.0px,#e5f2ea 0 549.0px,#e9f4e6 0 550.0px,#e0efee 0 551.5px,#e0efed 0 553.5px,#e6f3ea 0 555.5px,#e7f3e9 0 558.5px,#e9f4e6 0 559.5px,#e8f4e7 0 561.0px,#e0efee 0 563.0px,#dfefee 0 564.0px,#e2f1ec 0 567.0px,#e9f4e7 0 569.0px,#d5e8f1 0 570.0px,#e6f3ea 0 573.0px,#f3f7d5 0 575.0px,#d4e8f1 0 576.0px,#e7f3e9 0 577.5px,#e0efee 0 582.5px,#dfefee 0 585.5px,#dcedf0 0 586.5px,#e0efee 0 588.0px,#d9ebf1 0 589.0px,#d4e7f1 0 590.5px,#daebf1 0 593.5px,#e2f0ec 0 595.5px,#edf6e1 0 596.5px,#cfe4ef 0 597.5px,#d8eaf2 0 600.5px,#d3e6f0 0 602.5px,#e6f3ea 0 604.0px,#cae1ee 0 605.5px,#d2e6f0 0 607.0px,#bad6e8 0 609.0px,#d2e6f0 0 610.0px,#bfd9ea 0 612.0px,#c1daea 0 613.0px,#cde2ee 0 614.0px,#bbd6e8 0 615.0px)"></div><div style="left:196.48px;background:linear-gradient(#fdf2b2 0 1.0px,#f9f7c5 0 2.0px,#fbf6be 0 3.5px,#faf6c3 0 5.5px,#f3f7d6 0 6.5px,#fdf1b0 0 7.5px,#eff6df 0 10.5px,#fdf0af 0 12.5px,#fee69c 0 13.5px,#f7f7cb 0 14.5px,#f6f8d0 0 16.5px,#f4f8d4 0 17.5px,#fdf2b3 0 19.5px,#faf6c2 0 20.5px,#fbf6c0 0 21.5px,#fdf0af 0 22.5px,#fee89f 0 24.0px,#fdeda8 0 25.5px,#f8f7c8 0 26.5px,#fdf5b9 0 27.5px,#fdf1b1 0 28.5px,#f7f7cb 0 30.5px,#f4f8d4 0 32.0px,#fcf5ba 0 33.0px,#f9f7c4 0 36.0px,#fdf2b3 0 38.0px,#f5f8d2 0 39.0px,#f3f7d7 0 40.0px,#edf5e2 0 42.0px,#eef6e1 0 44.0px,#f1f7da 0 46.0px,#ecf5e3 0 47.0px,#e3f1ec 0 49.0px,#edf6e1 0 51.0px,#eef6df 0 52.5px,#e7f3e9 0 53.5px,#f1f7da 0 54.5px,#f0f7dc 0 55.5px,#f1f7da 0 57.5px,#eef6e0 0 60.5px,#fdf2b2 0 61.5px,#f7f8ce 0 62.5px,#f6f8cf 0 64.0px,#fdeeaa 0 65.0px,#f9f7c4 0 67.0px,#fdf0af 0 68.0px,#fbf6bf 0 70.0px,#fdf1b0 0 71.0px,#f7f7cb 0 73.0px,#fdf0ae 0 78.0px,#f0f6dc 0 79.0px,#fdefad 0 80.0px,#f8f7c9 0 82.0px,#feeaa4 0 84.0px,#f6f8cf 0 86.0px,#fdeeaa 0 87.0px,#feeaa3 0 88.0px,#feeca8 0 89.0px,#f7f8ce 0 91.0px,#eef6e0 0 93.0px,#faf6c3 0 94.0px,#f5f8d1 0 96.0px,#e4f2eb 0 97.0px,#f8f7c9 0 99.0px,#f1f7da 0 100.0px,#fee498 0 101.5px,#fee79e 0 103.5px,#fedd91 0 105.5px,#fee9a1 0 107.0px,#fee79e 0 110.0px,#f9f7c5 0 111.0px,#f3f7d6 0 112.5px,#faf6c1 0 114.5px,#f6f8d1 0 116.0px,#f3f7d6 0 117.0px,#ebf5e4 0 118.0px,#faf6c2 0 119.0px,#f1f7da 0 122.0px,#f4f8d3 0 123.0px,#f0f7dc 0 125.0px,#f5f8d2 0 128.0px,#fbf6c1 0 129.0px,#f4f8d3 0 130.0px,#feeca6 0 132.0px,#fdd185 0 133.0px,#fee89f 0 135.0px,#fee397 0 136.5px,#fdf0af 0 137.5px,#fee59a 0 139.5px,#fdd387 0 141.0px,#fdcf83 0 142.0px,#feeba5 0 144.0px,#feeca7 0 145.0px,#fdcc80 0 146.0px,#fee69b 0 148.0px,#feda8e 0 149.5px,#fedf93 0 150.5px,#fed78b 0 153.5px,#fdf5b9 0 154.5px,#fee397 0 155.5px,#fdd387 0 157.0px,#fed78b 0 158.5px,#fdcc80 0 159.5px,#fee89f 0 161.5px,#fdd488 0 162.5px,#fdcf83 0 165.5px,#fdc579 0 167.5px,#fed589 0 169.5px,#fee599 0 172.5px,#feeaa3 0 175.5px,#feeba5 0 176.5px,#fdeeab 0 177.5px,#fee499 0 179.5px,#feeca8 0 180.5px,#fdce82 0 182.5px,#fdcc80 0 184.0px,#fedd91 0 186.0px,#fedb8f 0 189.0px,#fdd488 0 190.5px,#fedd91 0 191.5px,#fdcb7f 0 194.5px,#fdc479 0 195.5px,#fbb06c 0 196.5px,#fede92 0 198.0px,#fdd488 0 200.0px,#feeaa2 0 202.0px,#fee59a 0 203.0px,#fee79d 0 204.0px,#f6f8d1 0 206.0px,#fdf0ae 0 208.0px,#f7f8cd 0 209.0px,#f2f7d8 0 211.0px,#f3f7d6 0 213.0px,#edf6e1 0 215.0px,#eaf4e5 0 218.0px,#f2f7d8 0 219.5px,#fcb46f 0 220.5px,#faa464 0 222.5px,#fdc479 0 224.0px,#fee69c 0 226.0px,#fdca7e 0 227.0px,#fbaf6b 0 228.0px,#fdd185 0 229.5px,#feda8e 0 230.5px,#fdc77b 0 231.5px,#fee8a0 0 233.5px,#feeba6 0 234.5px,#fdc378 0 236.0px,#fdc97d 0 237.0px,#fdd185 0 238.0px,#fedb8f 0 241.0px,#fee79e 0 242.0px,#feeaa2 0 243.0px,#f7f8cd 0 245.0px,#fdeeaa 0 246.0px,#fdcd81 0 247.5px,#fedf93 0 249.0px,#fcf5bb 0 252.0px,#fdefac 0 253.5px,#fdf3b5 0 254.5px,#fdd084 0 255.5px,#fee499 0 257.0px,#fee8a0 0 258.5px,#feeba6 0 260.5px,#fee296 0 261.5px,#fedb8f 0 262.5px,#fbf6c0 0 265.5px,#fee499 0 267.0px,#faf6c1 0 270.0px,#fdf1b1 0 272.0px,#fee9a2 0 273.0px,#fee094 0 275.0px,#fed78b 0 276.5px,#fee094 0 277.5px,#feeaa3 0 279.5px,#fbb06c 0 281.0px,#fdcd81 0 282.0px,#fdca7e 0 283.0px,#fdc97d 0 284.0px,#fcbc74 0 285.0px,#fdc67a 0 286.0px,#fdcb7f 0 287.0px,#fdc57a 0 289.0px,#fdf0ae 0 290.0px,#fcb670 0 291.0px,#e6563a 0 292.5px,#f8975d 0 295.5px,#faa163 0 297.5px,#fcb46f 0 298.5px,#f58956 0 299.5px,#ed6a45 0 300.5px,#e7583b 0 301.5px,#dc3c2c 0 302.5px,#e95d3e 0 304.0px,#da392b 0 306.0px,#d83629 0 307.0px,#da392b 0 309.0px,#e7593c 0 311.0px,#d83629 0 312.0px,#f48453 0 313.0px,#f0734a 0 315.0px,#e04531 0 318.0px,#e14832 0 320.0px,#faa162 0 322.0px,#fdca7e 0 324.0px,#fcb46f 0 326.0px,#faa666 0 328.0px,#fdc479 0 329.0px,#fdcc80 0 330.5px,#feeca7 0 333.5px,#fcb670 0 336.5px,#fcb871 0 339.5px,#fdeda9 0 341.5px,#fdf2b2 0 344.5px,#faf6c2 0 346.5px,#fdf0ae 0 348.0px,#fdefae 0 349.5px,#fee8a0 0 351.0px,#feeba6 0 352.5px,#fdf0af 0 353.5px,#fee599 0 355.0px,#fee498 0 357.0px,#fdf5b9 0 358.5px,#fee59a 0 359.5px,#eef6e0 0 360.5px,#f8f7c9 0 361.5px,#f3f7d6 0 362.5px,#eef6df 0 364.0px,#f7f7cc 0 365.0px,#f2f7d8 0 366.0px,#f6f8d1 0 367.0px,#f1f7d9 0 369.0px,#eff6dd 0 370.0px,#edf6e1 0 371.0px,#ddedef 0 372.0px,#e9f4e6 0 374.0px,#e6f3ea 0 375.0px,#e8f4e7 0 377.0px,#ecf5e3 0 378.0px,#e9f4e6 0 379.0px,#f4f8d4 0 381.0px,#eff6df 0 382.0px,#f2f7d7 0 383.0px,#dbecf0 0 386.0px,#f7f7cc 0 387.0px,#ecf5e2 0 389.0px,#eef6df 0 390.5px,#faf6c1 0 391.5px,#ecf5e3 0 393.5px,#f6f8cf 0 394.5px,#f0f7dc 0 395.5px,#e3f1ec 0 397.5px,#e4f2eb 0 398.5px,#e8f4e8 0 400.0px,#c5ddec 0 401.0px,#d3e7f0 0 402.0px,#cee4ef 0 405.0px,#d7e9f2 0 406.5px,#d6e9f1 0 408.0px,#dbecf0 0 409.5px,#e2f0ec 0 411.0px,#e5f3ea 0 412.0px,#e2f1ec 0 413.0px,#deeeee 0 414.0px,#e6f3ea 0 415.0px,#f2f7d9 0 417.0px,#e9f4e6 0 418.0px,#eff6dd 0 420.0px,#f1f7da 0 421.0px,#fdf4b7 0 422.5px,#faf6c1 0 425.5px,#fcf5ba 0 427.5px,#f4f7d4 0 428.5px,#eaf5e4 0 430.5px,#edf6e1 0 431.5px,#f3f7d6 0 432.5px,#eaf4e5 0 434.5px,#ecf5e2 0 435.5px,#f5f8d2 0 436.5px,#eef6e0 0 438.5px,#e9f4e7 0 440.5px,#f3f7d5 0 441.5px,#fdf2b2 0 444.5px,#fdf4b6 0 446.5px,#ef7048 0 447.5px,#fba867 0 449.5px,#f8975d 0 452.5px,#faf6c1 0 453.5px,#f3f7d5 0 455.5px,#ecf5e2 0 458.5px,#f8f7ca 0 459.5px,#eff6dd 0 461.5px,#ebf5e4 0 462.5px,#edf6e1 0 463.5px,#f1f7db 0 464.5px,#f0f6dc 0 467.5px,#e9f4e7 0 468.5px,#eef6e1 0 470.5px,#ecf5e2 0 472.5px,#f2f7d9 0 475.5px,#ecf5e2 0 477.5px,#ecf5e3 0 478.5px,#f1f7da 0 480.5px,#f0f7dc 0 481.5px,#ebf5e4 0 483.5px,#eff6de 0 486.5px,#eef6df 0 489.5px,#e0efed 0 492.5px,#e7f3e9 0 495.5px,#e4f2eb 0 496.5px,#f1f7db 0 499.5px,#e1f0ed 0 500.5px,#edf6e2 0 503.5px,#e7f4e8 0 505.0px,#f4f7d5 0 507.0px,#d9ebf1 0 510.0px,#ebf5e3 0 511.0px,#e7f4e8 0 512.0px,#e0efee 0 514.0px,#e6f3ea 0 515.5px,#f1f7da 0 516.5px,#f0f6dc 0 518.5px,#f0f7dc 0 519.5px,#eaf5e5 0 520.5px,#ebf5e4 0 523.5px,#eff6de 0 524.5px,#ecf5e3 0 526.0px,#f4f7d4 0 527.0px,#e2f0ec 0 528.0px,#f1f7d9 0 530.0px,#eef6e0 0 532.0px,#e8f4e8 0 533.0px,#e7f4e8 0 534.5px,#ecf5e2 0 537.5px,#e8f4e8 0 539.5px,#f1f7d9 0 540.5px,#f1f7db 0 541.5px,#ebf5e4 0 542.5px,#edf6e1 0 543.5px,#ddedef 0 544.5px,#f6f8d0 0 545.5px,#f3f7d6 0 547.0px,#f5f8d3 0 548.0px,#fcb570 0 549.0px,#f58a56 0 550.0px,#f48754 0 551.5px,#fdf4b6 0 553.5px,#f5f8d3 0 555.5px,#f2f7d8 0 558.5px,#f3f7d6 0 559.5px,#ebf5e3 0 561.0px,#dbecf0 0 563.0px,#e4f2eb 0 564.0px,#e5f3ea 0 570.0px,#c1dbeb 0 573.0px,#dcedf0 0 575.0px,#e6f3ea 0 576.0px,#d0e5ef 0 577.5px,#deeeef 0 580.5px,#d3e7f0 0 582.5px,#e0efed 0 585.5px,#dfeeee 0 586.5px,#ecf5e2 0 588.0px,#cfe4ef 0 589.0px,#eff6dd 0 590.5px,#d7e9f2 0 593.5px,#d8eaf2 0 595.5px,#cfe4ef 0 596.5px,#f0f6dc 0 597.5px,#edf6e1 0 600.5px,#bdd8e9 0 602.5px,#dbecf0 0 604.0px,#d3e7f1 0 605.5px,#daebf1 0 607.0px,#cbe1ee 0 609.0px,#c7deec 0 610.0px,#d6e8f1 0 612.0px,#cee3ef 0 613.0px,#cfe4ef 0 614.0px,#dfefee 0 615.0px)"></div><div style="left:230.50px;background:linear-gradient(#eff6de 0 1.0px,#f1f7da 0 2.0px,#f9f7c5 0 3.5px,#fdf3b3 0 5.5px,#f8f7c7 0 6.5px,#f5f8d1 0 7.5px,#f6f8cf 0 10.5px,#fee69b 0 12.5px,#fee8a0 0 13.5px,#fdf3b4 0 14.5px,#faa062 0 16.5px,#fcf5ba 0 17.5px,#f9f7c7 0 19.5px,#f8f7c8 0 20.5px,#f9f7c4 0 21.5px,#f2f7d9 0 22.5px,#f9f7c5 0 24.0px,#f8f7cb 0 25.5px,#eaf5e5 0 26.5px,#eff6dd 0 27.5px,#f2f7d8 0 28.5px,#f6f8d0 0 30.5px,#f1f7da 0 32.0px,#f0f7db 0 33.0px,#f7f8cc 0 36.0px,#f7f7cc 0 38.0px,#f5f8d2 0 39.0px,#f7f8ce 0 40.0px,#f1f7da 0 42.0px,#e8f4e7 0 44.0px,#eff6dd 0 46.0px,#f0f7db 0 47.0px,#e7f3e9 0 49.0px,#f4f7d4 0 51.0px,#ecf5e2 0 52.5px,#e2f0ec 0 53.5px,#ecf5e2 0 54.5px,#f0f7db 0 55.5px,#f7f8cd 0 57.5px,#ecf5e2 0 60.5px,#fdf4b6 0 61.5px,#faf6c3 0 62.5px,#fcf6bd 0 64.0px,#f4f8d3 0 65.0px,#f9f7c7 0 67.0px,#fbf6be 0 68.0px,#f3f7d6 0 70.0px,#fee397 0 71.0px,#fee498 0 73.0px,#fee79d 0 76.0px,#fdeeac 0 78.0px,#fed78b 0 79.0px,#fee8a0 0 80.0px,#fdf1b0 0 84.0px,#fdeda9 0 86.0px,#fdf1b0 0 87.0px,#fdf0af 0 88.0px,#f7f8cd 0 89.0px,#feeba5 0 91.0px,#f3f7d6 0 93.0px,#f9f7c6 0 94.0px,#fdf5b9 0 96.0px,#fdf2b2 0 97.0px,#feeca7 0 99.0px,#fdf0ae 0 100.0px,#fee397 0 101.5px,#fdeda8 0 103.5px,#feeba5 0 105.5px,#fdd286 0 107.0px,#fee094 0 110.0px,#f5f8d2 0 111.0px,#fdf5b7 0 112.5px,#f2f7d7 0 114.5px,#fdf0ae 0 116.0px,#f7f8ce 0 117.0px,#f5f8d3 0 118.0px,#f9f7c4 0 119.0px,#fed68a 0 122.0px,#fdd185 0 123.0px,#fdc479 0 125.0px,#fcb871 0 128.0px,#fdcd81 0 129.0px,#fcb56f 0 130.0px,#feeba6 0 132.0px,#fdc87c 0 133.0px,#fdce82 0 135.0px,#fdd488 0 137.5px,#fdcf83 0 139.5px,#fdc87c 0 141.0px,#fed88c 0 142.0px,#fedd91 0 144.0px,#fdcd81 0 145.0px,#fdd488 0 146.0px,#fed68a 0 148.0px,#fdcf83 0 149.5px,#fed589 0 150.5px,#fdd286 0 153.5px,#faa263 0 154.5px,#fdcb7f 0 155.5px,#fedd91 0 157.0px,#fdc77b 0 158.5px,#fdcc80 0 159.5px,#fcbb73 0 161.5px,#fed88c 0 162.5px,#fedf93 0 165.5px,#fee69d 0 167.5px,#feeca8 0 169.5px,#feeca6 0 172.5px,#fee8a0 0 175.5px,#fdefac 0 176.5px,#fed68a 0 177.5px,#fdc67a 0 179.5px,#fdcd81 0 180.5px,#fdc97d 0 182.5px,#fdcd81 0 184.0px,#fdd387 0 186.0px,#fdd185 0 189.0px,#fdc67a 0 190.5px,#fedd91 0 191.5px,#fedc90 0 194.5px,#fdc77b 0 195.5px,#fdc87c 0 196.5px,#fedd91 0 198.0px,#fee89f 0 200.0px,#f2f7d8 0 202.0px,#f3f7d6 0 203.0px,#feeaa3 0 204.0px,#faf6c4 0 206.0px,#fdf4b6 0 208.0px,#faf6c3 0 209.0px,#fcba72 0 211.0px,#fdce82 0 213.0px,#fcb771 0 215.0px,#f7935b 0 218.0px,#fcb871 0 219.5px,#fdeeab 0 220.5px,#feeaa4 0 222.5px,#feeba5 0 224.0px,#fee59a 0 226.0px,#feeca7 0 227.0px,#faf6c1 0 228.0px,#f6f8cf 0 229.5px,#fedf93 0 230.5px,#fee397 0 231.5px,#fed68a 0 233.5px,#fee195 0 234.5px,#fed589 0 236.0px,#feeca7 0 238.0px,#fee79d 0 241.0px,#fcbe75 0 242.0px,#fdc97d 0 243.0px,#fbad6a 0 245.0px,#fee498 0 246.0px,#fdeeab 0 247.5px,#fcb972 0 249.0px,#fed88c 0 252.0px,#fbf6bf 0 253.5px,#fdc67a 0 254.5px,#fee69c 0 255.5px,#fedc90 0 257.0px,#fee094 0 258.5px,#fed98d 0 260.5px,#fdd286 0 261.5px,#fee89f 0 262.5px,#fbb36e 0 265.5px,#fcbf75 0 267.0px,#fdd488 0 270.0px,#fdeda8 0 272.0px,#fcbd74 0 273.0px,#fdd387 0 275.0px,#fed68a 0 277.5px,#fede92 0 279.5px,#fbf6be 0 281.0px,#feeaa3 0 282.0px,#fdf0af 0 283.0px,#fee599 0 284.0px,#fdd589 0 285.0px,#fdd488 0 286.0px,#fee397 0 287.0px,#fee69c 0 289.0px,#fbf6c0 0 290.0px,#faf6c3 0 291.0px,#fdf2b3 0 292.5px,#fbf6c0 0 295.5px,#f9f7c6 0 297.5px,#f9f7c7 0 298.5px,#f1f7d9 0 299.5px,#fdeeab 0 300.5px,#fdcd81 0 301.5px,#fdf0ae 0 302.5px,#fedf93 0 304.0px,#fdf0ae 0 306.0px,#fdf0af 0 307.0px,#fedb8f 0 309.0px,#fdd084 0 311.0px,#fee195 0 312.0px,#fbb16d 0 313.0px,#fed98d 0 315.0px,#feeaa3 0 318.0px,#fbac6a 0 320.0px,#fee094 0 322.0px,#ebf5e4 0 324.0px,#fdd589 0 326.0px,#fdf3b4 0 328.0px,#fdd185 0 329.0px,#feda8e 0 330.5px,#fdd084 0 333.5px,#fedb8f 0 336.5px,#fdc177 0 339.5px,#f8f7ca 0 341.5px,#fdf2b3 0 344.5px,#f0f7db 0 346.5px,#fbf6bf 0 348.0px,#eef6df 0 349.5px,#fed98d 0 351.0px,#fed68a 0 352.5px,#fdd084 0 353.5px,#fdefad 0 355.0px,#fee89f 0 357.0px,#fdd286 0 358.5px,#fee89f 0 359.5px,#fdf0af 0 360.5px,#fee9a2 0 361.5px,#f1f7da 0 362.5px,#fdf4b6 0 364.0px,#fcf6bc 0 365.0px,#f8f7c9 0 366.0px,#fdeeab 0 367.0px,#fdf3b4 0 369.0px,#fdf1b0 0 370.0px,#e8f4e7 0 371.0px,#f9f7c6 0 372.0px,#eaf4e5 0 374.0px,#e9f4e6 0 375.0px,#edf6e2 0 377.0px,#f8f7ca 0 378.0px,#f0f6dd 0 379.0px,#f5f8d3 0 381.0px,#f2f7d9 0 382.0px,#f1f7d9 0 383.0px,#ecf5e3 0 386.0px,#f5f8d3 0 387.0px,#eef6e0 0 389.0px,#f0f7dc 0 390.5px,#d4e7f1 0 391.5px,#ebf5e4 0 394.5px,#e8f4e7 0 395.5px,#edf6e1 0 397.5px,#f2f7d7 0 398.5px,#ecf5e3 0 400.0px,#eaf4e5 0 401.0px,#f2f7d7 0 402.0px,#e9f4e6 0 405.0px,#e2f1ec 0 406.5px,#e9f4e7 0 409.5px,#e8f4e8 0 411.0px,#e6f3ea 0 412.0px,#e4f1eb 0 413.0px,#ddedef 0 414.0px,#ebf5e3 0 415.0px,#e2f0ec 0 417.0px,#eff6dd 0 418.0px,#f6f8d1 0 420.0px,#faf6c3 0 421.0px,#f0f7db 0 422.5px,#f8f7ca 0 425.5px,#fbaa68 0 427.5px,#fcb36e 0 428.5px,#f2f7d7 0 430.5px,#f8f7c8 0 431.5px,#fee79e 0 432.5px,#fdf5b9 0 434.5px,#fdf3b4 0 435.5px,#fdf0af 0 436.5px,#fdf3b5 0 438.5px,#fdf2b2 0 440.5px,#fee9a2 0 441.5px,#f8f7c9 0 444.5px,#fdf1b0 0 446.5px,#fdf2b2 0 447.5px,#fdf2b3 0 449.5px,#f8f7c9 0 452.5px,#f6f8d0 0 453.5px,#f4f7d5 0 455.5px,#f2f7d7 0 458.5px,#fdf1b1 0 459.5px,#fdf4b7 0 461.5px,#f3f7d6 0 462.5px,#f4f8d4 0 463.5px,#f4f8d3 0 464.5px,#f4f8d4 0 467.5px,#eaf5e5 0 468.5px,#fdf5b8 0 470.5px,#f0f6dd 0 472.5px,#eef6df 0 475.5px,#faf6c2 0 477.5px,#f0f6dd 0 478.5px,#eef6e0 0 480.5px,#f2f7d7 0 481.5px,#f0f7db 0 483.5px,#f0f7dc 0 486.5px,#eff6dd 0 489.5px,#eef6e0 0 492.5px,#f1f7da 0 495.5px,#ebf5e4 0 496.5px,#f1f7da 0 499.5px,#f6f8d0 0 503.5px,#f3f7d7 0 505.0px,#edf6e1 0 507.0px,#f5f8d1 0 510.0px,#ecf5e3 0 511.0px,#f3f7d5 0 512.0px,#f3f7d7 0 514.0px,#eff6dd 0 515.5px,#f3f7d6 0 516.5px,#edf6e1 0 518.5px,#eef6e0 0 519.5px,#e8f4e7 0 520.5px,#eef6e0 0 523.5px,#e9f4e6 0 524.5px,#e4f2eb 0 526.0px,#e1efed 0 527.0px,#e2f1ec 0 528.0px,#eff6df 0 530.0px,#ebf5e3 0 532.0px,#f2f7d9 0 533.0px,#f1f7da 0 534.5px,#f0f6dc 0 537.5px,#e6f3ea 0 539.5px,#e7f3e8 0 540.5px,#ebf5e4 0 541.5px,#e5f2eb 0 542.5px,#f4f8d4 0 543.5px,#f1f7d9 0 544.5px,#f2f7d8 0 545.5px,#eff6df 0 547.0px,#f1f7db 0 548.0px,#f1f7da 0 549.0px,#f3f7d6 0 550.0px,#ecf5e2 0 551.5px,#f3f7d6 0 553.5px,#e8f4e7 0 555.5px,#f3f7d5 0 558.5px,#f2f7d8 0 559.5px,#e7f3e9 0 561.0px,#f1f7da 0 563.0px,#e2f1ec 0 564.0px,#f0f6dc 0 567.0px,#e7f3e9 0 569.0px,#eef6e0 0 570.0px,#edf6e1 0 573.0px,#eef6df 0 575.0px,#e5f2eb 0 576.0px,#dcecf0 0 577.5px,#e5f2ea 0 580.5px,#deeeee 0 582.5px,#e3f1eb 0 585.5px,#c4ddec 0 586.5px,#e6f3ea 0 588.0px,#ddedef 0 589.0px,#e3f1ec 0 593.5px,#d4e7f1 0 595.5px,#e8f4e8 0 596.5px,#ecf5e2 0 597.5px,#e1f0ed 0 600.5px,#d3e7f0 0 604.0px,#d9eaf2 0 605.5px,#ddedef 0 607.0px,#d0e4ef 0 609.0px,#cee3ef 0 610.0px,#eaf4e5 0 612.0px,#d5e8f1 0 613.0px,#cfe4ef 0 614.0px,#d9ebf2 0 615.0px)"></div><div style="left:268.90px;background:linear-gradient(#f8f7c8 0 1.0px,#fbf6c0 0 2.0px,#f1f7da 0 3.5px,#f2f7d7 0 5.5px,#f6f8d0 0 6.5px,#f9f7c5 0 7.5px,#fcf6bd 0 10.5px,#bbd7e9 0 12.5px,#b4d2e6 0 13.5px,#a5cae1 0 14.5px,#bbd6e9 0 16.5px,#bad6e8 0 17.5px,#c2dbeb 0 19.5px,#c3dceb 0 21.5px,#b8d4e8 0 22.5px,#deeeef 0 24.0px,#c6deec 0 25.5px,#bdd8e9 0 26.5px,#b6d4e7 0 27.5px,#b6d3e7 0 28.5px,#c9e0ed 0 30.5px,#e2f1ec 0 32.0px,#e9f4e6 0 33.0px,#e0efee 0 36.0px,#e8f4e8 0 38.0px,#eef6e0 0 39.0px,#eff6de 0 40.0px,#f2f7d8 0 44.0px,#f6f8cf 0 46.0px,#ebf5e3 0 47.0px,#f0f6dc 0 49.0px,#f7f8ce 0 51.0px,#ecf5e3 0 52.5px,#eff6de 0 53.5px,#ebf5e3 0 54.5px,#f6f8d1 0 55.5px,#f7f8ce 0 57.5px,#f8f7c9 0 60.5px,#e5f2eb 0 61.5px,#ecf5e2 0 62.5px,#f0f6dd 0 64.0px,#eaf5e5 0 65.0px,#edf6e1 0 67.0px,#e4f2eb 0 68.0px,#f1f7d9 0 70.0px,#f2f7d7 0 71.0px,#dfeeee 0 73.0px,#e9f4e6 0 76.0px,#ebf5e4 0 78.0px,#f0f7db 0 79.0px,#e9f4e6 0 80.0px,#eff6de 0 82.0px,#f0f6dd 0 84.0px,#faf6c2 0 86.0px,#f0f7dc 0 87.0px,#f5f8d2 0 88.0px,#eff6dd 0 89.0px,#fdf0ae 0 91.0px,#f4f8d4 0 93.0px,#f3f7d5 0 94.0px,#f2f7d8 0 96.0px,#eff6de 0 97.0px,#f7f8cc 0 99.0px,#fdf5b8 0 100.0px,#fdf4b5 0 101.5px,#feeba5 0 103.5px,#fee9a1 0 105.5px,#f9f7c7 0 107.0px,#fcf5bc 0 110.0px,#f7f7cc 0 111.0px,#f7f7cb 0 112.5px,#f2f7d7 0 114.5px,#fdf0ae 0 116.0px,#fdefac 0 117.0px,#f1f7da 0 118.0px,#fcf5ba 0 119.0px,#f7f8cd 0 122.0px,#eff6df 0 123.0px,#f6f8d0 0 125.0px,#eff6dd 0 128.0px,#e8f4e7 0 129.0px,#f2f7d7 0 130.0px,#e4f2eb 0 132.0px,#f0f6dc 0 133.0px,#f5f8d1 0 135.0px,#f9f7c5 0 136.5px,#f8f7cb 0 137.5px,#f6f8d0 0 139.5px,#d5e8f1 0 141.0px,#d6e9f1 0 142.0px,#dfefee 0 144.0px,#ddeeef 0 145.0px,#d5e8f1 0 146.0px,#c1dbeb 0 148.0px,#d8eaf2 0 149.5px,#ebf5e4 0 150.5px,#f2f7d8 0 153.5px,#f3f7d6 0 154.5px,#f7f8cc 0 155.5px,#f2f7d7 0 157.0px,#ebf5e4 0 158.5px,#edf6e1 0 161.5px,#e8f4e7 0 162.5px,#e6f3ea 0 165.5px,#f4f8d4 0 167.5px,#f0f7db 0 169.5px,#dfeeee 0 172.5px,#eff6de 0 175.5px,#eaf5e5 0 176.5px,#ebf5e4 0 177.5px,#f1f7db 0 179.5px,#ecf5e3 0 180.5px,#f0f7dc 0 182.5px,#e6f3ea 0 184.0px,#f1f7da 0 186.0px,#eef6e0 0 189.0px,#f4f8d4 0 190.5px,#eaf4e5 0 191.5px,#f3f7d6 0 194.5px,#f8f7cb 0 195.5px,#f0f6dc 0 196.5px,#eef6e0 0 198.0px,#f2f7d8 0 200.0px,#f3f7d6 0 202.0px,#f2f7d7 0 203.0px,#f9f7c5 0 204.0px,#f3f7d6 0 206.0px,#f5f8d3 0 208.0px,#eef6e0 0 209.0px,#f4f7d4 0 211.0px,#f2f7d8 0 213.0px,#f7f8cc 0 215.0px,#faf6c2 0 218.0px,#f5f8d1 0 219.5px,#ddedef 0 220.5px,#ebf5e4 0 222.5px,#ddedef 0 224.0px,#e6f3ea 0 226.0px,#faf6c3 0 227.0px,#e6f3e9 0 228.0px,#dfefee 0 229.5px,#f2f7d7 0 230.5px,#f4f7d5 0 231.5px,#faf6c3 0 233.5px,#f3f7d6 0 234.5px,#f2f7d8 0 236.0px,#f3f7d5 0 237.0px,#f4f8d3 0 238.0px,#f2f7d9 0 241.0px,#ebf5e4 0 242.0px,#ebf5e3 0 243.0px,#e7f4e8 0 245.0px,#eaf5e5 0 246.0px,#f8f7c9 0 247.5px,#eff6dd 0 249.0px,#e5f3ea 0 252.0px,#ecf5e3 0 253.5px,#f1f7db 0 254.5px,#e8f4e8 0 255.5px,#e4f2eb 0 257.0px,#f0f6dd 0 258.5px,#e9f4e7 0 260.5px,#f0f7dc 0 261.5px,#ebf5e4 0 265.5px,#f1f7da 0 267.0px,#e4f2eb 0 270.0px,#eaf5e4 0 272.0px,#f2f7d8 0 273.0px,#f1f7d9 0 275.0px,#ecf5e3 0 276.5px,#eaf5e5 0 277.5px,#f2f7d8 0 279.5px,#fdf1b0 0 281.0px,#feeca7 0 282.0px,#feeaa4 0 283.0px,#f9f7c5 0 284.0px,#f8f7c8 0 285.0px,#f8f7ca 0 286.0px,#fdeda9 0 287.0px,#feeca7 0 289.0px,#fed88c 0 290.0px,#fdf0af 0 291.0px,#f4f8d3 0 292.5px,#fdf2b2 0 295.5px,#f6f8cf 0 297.5px,#f8f7cb 0 298.5px,#f5f8d2 0 299.5px,#f0f6dc 0 300.5px,#fdf2b3 0 301.5px,#fbf6be 0 302.5px,#fdf3b4 0 304.0px,#fdeeab 0 306.0px,#faf6c2 0 307.0px,#fcf6bd 0 309.0px,#f9f7c6 0 311.0px,#edf6e1 0 312.0px,#f7f8cd 0 313.0px,#fdf0af 0 315.0px,#f8f7cb 0 318.0px,#f8f7c9 0 320.0px,#fee498 0 322.0px,#f58b57 0 324.0px,#fbaa68 0 326.0px,#fedb8f 0 328.0px,#feeaa4 0 329.0px,#fdd488 0 330.5px,#e4f2eb 0 333.5px,#dfeeee 0 336.5px,#e2f1ec 0 339.5px,#d4e7f1 0 341.5px,#ecf5e3 0 344.5px,#d7e9f2 0 346.5px,#cce2ee 0 348.0px,#e1f0ed 0 349.5px,#eef6df 0 351.0px,#c8dfed 0 352.5px,#e9f4e6 0 353.5px,#eaf4e5 0 355.0px,#eef6e0 0 357.0px,#deeeef 0 358.5px,#dfefee 0 359.5px,#e2f0ec 0 360.5px,#e0efee 0 361.5px,#c2dbeb 0 362.5px,#d8eaf2 0 364.0px,#daebf1 0 365.0px,#dbecf0 0 366.0px,#d5e8f1 0 367.0px,#cee3ef 0 369.0px,#d6e9f1 0 370.0px,#edf5e2 0 371.0px,#e9f4e6 0 372.0px,#eff6de 0 374.0px,#f5f8d2 0 375.0px,#e5f2eb 0 377.0px,#e7f3e9 0 378.0px,#e5f3ea 0 379.0px,#fdf2b3 0 381.0px,#fdeeac 0 382.0px,#f8f7cb 0 383.0px,#f7f8ce 0 386.0px,#edf5e2 0 387.0px,#fdf5b9 0 389.0px,#f5f8d2 0 390.5px,#fcf5ba 0 391.5px,#fdf0ae 0 393.5px,#eef6e0 0 394.5px,#f4f7d5 0 395.5px,#f3f7d5 0 398.5px,#f8f7c9 0 400.0px,#faf6c3 0 401.0px,#eef6e0 0 402.0px,#fdf4b6 0 405.0px,#f8f7ca 0 406.5px,#fdf1b0 0 408.0px,#fdf4b7 0 409.5px,#fdf2b2 0 412.0px,#fdf4b6 0 413.0px,#fdf2b3 0 414.0px,#fdf4b6 0 415.0px,#fdf1b1 0 417.0px,#f5f8d2 0 418.0px,#fdf5b8 0 420.0px,#f0f7dc 0 421.0px,#f0f6dc 0 422.5px,#f7f7cb 0 425.5px,#f5f8d3 0 427.5px,#f1f7da 0 428.5px,#f5f8d3 0 430.5px,#fdcf83 0 432.5px,#fdd589 0 434.5px,#fee79d 0 435.5px,#fdd084 0 436.5px,#fdcf83 0 438.5px,#fedc90 0 440.5px,#fcb46f 0 441.5px,#fee397 0 444.5px,#fcb46f 0 446.5px,#fcbe75 0 447.5px,#fdc378 0 449.5px,#fee9a1 0 452.5px,#fed98d 0 453.5px,#f58956 0 455.5px,#fbab69 0 458.5px,#fcb36e 0 459.5px,#ec6944 0 461.5px,#d53328 0 462.5px,#ea6241 0 463.5px,#da392b 0 464.5px,#eb6442 0 467.5px,#f7905a 0 468.5px,#e44f36 0 470.5px,#fbab69 0 472.5px,#fba867 0 475.5px,#f69059 0 477.5px,#faa364 0 478.5px,#fdc378 0 480.5px,#fdcb7f 0 481.5px,#fbae6b 0 483.5px,#fdd084 0 486.5px,#fee195 0 489.5px,#fbab69 0 492.5px,#f99a5f 0 495.5px,#fed78b 0 496.5px,#fdd286 0 499.5px,#fed98d 0 500.5px,#fed78b 0 503.5px,#fdc479 0 505.0px,#fcbe75 0 507.0px,#f48553 0 510.0px,#f68e58 0 511.0px,#f8985e 0 512.0px,#f1794d 0 514.0px,#fba867 0 515.5px,#f8995e 0 516.5px,#faa565 0 518.5px,#f7935b 0 519.5px,#fbb06c 0 520.5px,#f68d58 0 523.5px,#f58755 0 524.5px,#f7935b 0 526.0px,#faa163 0 527.0px,#fbb16d 0 528.0px,#fdc076 0 530.0px,#fdc177 0 532.0px,#ee6e47 0 533.0px,#fcb770 0 534.5px,#fcb871 0 539.5px,#fdd286 0 540.5px,#fdc97d 0 541.5px,#fdc378 0 542.5px,#fdd488 0 543.5px,#fedd91 0 544.5px,#fed88c 0 545.5px,#faa163 0 547.0px,#fedb8f 0 548.0px,#fbae6b 0 549.0px,#fede92 0 550.0px,#fcb871 0 551.5px,#faa465 0 553.5px,#fba766 0 555.5px,#f7935b 0 558.5px,#eb6341 0 559.5px,#fa9e61 0 561.0px,#e45137 0 563.0px,#fbae6b 0 564.0px,#fa9e61 0 567.0px,#ee6e47 0 569.0px,#f27a4e 0 570.0px,#f48352 0 573.0px,#f37f50 0 575.0px,#fdc277 0 576.0px,#fbad6a 0 577.5px,#fee59a 0 580.5px,#fdd387 0 582.5px,#feda8e 0 585.5px,#fdca7e 0 586.5px,#fcb972 0 588.0px,#fcbc74 0 589.0px,#fed589 0 590.5px,#fedf93 0 593.5px,#fee69d 0 595.5px,#fdc97d 0 596.5px,#fdcb7f 0 597.5px,#fdcf83 0 600.5px,#feeaa4 0 602.5px,#fee9a1 0 604.0px,#fed98d 0 605.5px,#feeaa4 0 607.0px,#fedf93 0 609.0px,#fed78b 0 610.0px,#feeba5 0 612.0px,#fdca7e 0 613.0px,#fee69b 0 614.0px,#faf6c1 0 615.0px)"></div><div style="left:302.90px;background:linear-gradient(#eff6dd 0 2.0px,#ddedef 0 3.5px,#f0f7db 0 5.5px,#f1f7db 0 6.5px,#eef6df 0 7.5px,#eef6e0 0 10.5px,#bbd7e9 0 12.5px,#afd0e5 0 13.5px,#afcfe5 0 14.5px,#c7deec 0 16.5px,#bdd8e9 0 17.5px,#b3d2e6 0 19.5px,#d3e6f0 0 20.5px,#c2dbeb 0 21.5px,#c8dfed 0 22.5px,#accee4 0 24.0px,#d3e6f0 0 25.5px,#c1daea 0 26.5px,#afd0e5 0 27.5px,#bfd9ea 0 28.5px,#d0e5ef 0 30.5px,#f3f7d5 0 32.0px,#e5f2eb 0 33.0px,#deeeef 0 36.0px,#f1f7da 0 38.0px,#f3f7d5 0 39.0px,#eef6e0 0 40.0px,#f1f7db 0 42.0px,#e8f4e7 0 44.0px,#eef6e0 0 47.0px,#e7f3e9 0 49.0px,#e9f4e7 0 51.0px,#f1f7db 0 52.5px,#e8f4e7 0 53.5px,#e7f3e9 0 54.5px,#e9f4e6 0 55.5px,#f0f7db 0 57.5px,#f2f7d7 0 60.5px,#e9f4e7 0 61.5px,#f0f6dc 0 62.5px,#f4f7d5 0 64.0px,#f0f7db 0 65.0px,#eef6e0 0 67.0px,#e7f3e9 0 68.0px,#e9f4e6 0 70.0px,#ddedef 0 71.0px,#d3e6f0 0 73.0px,#f0f7dc 0 76.0px,#e7f3e9 0 78.0px,#e5f2ea 0 79.0px,#e3f1ec 0 80.0px,#f7f8cc 0 82.0px,#e5f2eb 0 84.0px,#eaf4e6 0 86.0px,#eaf4e5 0 87.0px,#ebf5e3 0 88.0px,#f1f7da 0 89.0px,#f4f8d3 0 91.0px,#f4f7d4 0 93.0px,#fdf0af 0 94.0px,#f9f7c5 0 96.0px,#fdefae 0 97.0px,#edf6e1 0 99.0px,#fee9a1 0 100.0px,#eff6df 0 101.5px,#f0f7db 0 103.5px,#d3e7f0 0 105.5px,#e6f3e9 0 107.0px,#e9f4e7 0 110.0px,#fdf5b9 0 111.0px,#fcf6bc 0 112.5px,#fbf6c0 0 114.5px,#fee296 0 116.0px,#fdf4b7 0 117.0px,#fdf3b4 0 118.0px,#fdf1b0 0 119.0px,#e1f0ed 0 122.0px,#f0f7dc 0 123.0px,#f5f8d3 0 125.0px,#f5f8d1 0 128.0px,#f2f7d8 0 129.0px,#f0f6dc 0 130.0px,#f2f7d9 0 132.0px,#dbecf0 0 133.0px,#f5f8d2 0 135.0px,#eef6e0 0 136.5px,#e9f4e6 0 137.5px,#e7f3e9 0 139.5px,#deeeef 0 141.0px,#d3e6f0 0 142.0px,#dcecf0 0 144.0px,#d9ebf1 0 145.0px,#bed8ea 0 146.0px,#dfeeee 0 148.0px,#bed9ea 0 149.5px,#ebf5e4 0 150.5px,#eaf5e4 0 153.5px,#d9ebf1 0 154.5px,#eef6e0 0 155.5px,#eaf5e4 0 157.0px,#e4f2eb 0 158.5px,#f6f8d0 0 159.5px,#edf6e1 0 161.5px,#edf5e2 0 162.5px,#ecf5e3 0 165.5px,#edf6e2 0 167.5px,#edf6e1 0 169.5px,#dfefee 0 172.5px,#d9eaf2 0 175.5px,#d4e7f1 0 176.5px,#ddedef 0 177.5px,#d4e7f1 0 179.5px,#eef6e1 0 180.5px,#e1f0ed 0 182.5px,#ecf5e2 0 184.0px,#dfefee 0 186.0px,#ecf5e3 0 189.0px,#e4f1eb 0 190.5px,#eff6df 0 191.5px,#e8f4e7 0 194.5px,#ecf5e2 0 195.5px,#f1f7d9 0 196.5px,#e4f1eb 0 198.0px,#f1f7db 0 200.0px,#edf6e1 0 202.0px,#fdf4b6 0 203.0px,#f5f8d1 0 204.0px,#f0f6dc 0 206.0px,#f8f7ca 0 208.0px,#f1f7d9 0 209.0px,#ecf5e3 0 211.0px,#f0f6dc 0 213.0px,#e5f2eb 0 215.0px,#f4f8d3 0 218.0px,#e9f4e6 0 219.5px,#d6e9f1 0 220.5px,#eaf4e5 0 222.5px,#deeeef 0 224.0px,#cfe4ef 0 226.0px,#cae1ed 0 227.0px,#cfe4ef 0 228.0px,#dcecf0 0 229.5px,#e6f3ea 0 231.5px,#deeeef 0 233.5px,#e7f3e8 0 234.5px,#eaf5e5 0 236.0px,#deeeef 0 237.0px,#eef6e0 0 238.0px,#ecf5e2 0 241.0px,#e4f1eb 0 242.0px,#e2f1ec 0 243.0px,#ecf5e3 0 245.0px,#e1f0ed 0 246.0px,#c9e0ed 0 247.5px,#dfefee 0 249.0px,#d2e6f0 0 252.0px,#c8dfed 0 253.5px,#e6f3e9 0 254.5px,#cce2ee 0 255.5px,#dcedf0 0 257.0px,#d4e8f1 0 258.5px,#cce2ee 0 260.5px,#e3f1ec 0 261.5px,#f0f7db 0 262.5px,#e4f2eb 0 265.5px,#e9f4e6 0 267.0px,#e7f3e9 0 270.0px,#d6e9f1 0 272.0px,#daebf1 0 273.0px,#e6f3ea 0 275.0px,#e6f3e9 0 276.5px,#e5f2eb 0 277.5px,#dcedf0 0 279.5px,#e1f0ed 0 281.0px,#e5f2eb 0 282.0px,#e6f3ea 0 283.0px,#ecf5e3 0 284.0px,#ecf5e2 0 285.0px,#e0efee 0 286.0px,#dcedf0 0 287.0px,#d7e9f2 0 289.0px,#e4f2eb 0 290.0px,#f1f7db 0 291.0px,#f7f8ce 0 292.5px,#f4f8d4 0 295.5px,#f1f7db 0 297.5px,#edf6e1 0 298.5px,#eff6df 0 299.5px,#eaf4e5 0 300.5px,#f3f7d6 0 301.5px,#f6f8d0 0 302.5px,#fbf6be 0 304.0px,#f0f7db 0 306.0px,#f9f7c6 0 307.0px,#f4f7d4 0 309.0px,#f1f7db 0 311.0px,#f9f7c5 0 312.0px,#faf6c3 0 313.0px,#eff6df 0 315.0px,#f9f7c6 0 318.0px,#f7f7cc 0 320.0px,#e9f4e6 0 322.0px,#edf6e2 0 324.0px,#eff6de 0 326.0px,#eef6e0 0 328.0px,#dcecf0 0 329.0px,#e6f3ea 0 330.5px,#f0f7db 0 333.5px,#eef6e0 0 336.5px,#f1f7da 0 339.5px,#dbecf0 0 341.5px,#d3e6f0 0 344.5px,#bed9ea 0 346.5px,#c0daea 0 348.0px,#e0efee 0 349.5px,#eef6df 0 351.0px,#f6f8cf 0 352.5px,#f5f8d3 0 355.0px,#f2f7d8 0 357.0px,#eff6de 0 358.5px,#f5f8d2 0 359.5px,#dbecf0 0 360.5px,#f1f7db 0 361.5px,#e2f0ec 0 362.5px,#e0efee 0 364.0px,#f0f6dc 0 365.0px,#eff6de 0 366.0px,#f2f7d8 0 367.0px,#e6f3ea 0 369.0px,#d1e6f0 0 370.0px,#f3f7d5 0 371.0px,#eff6df 0 372.0px,#eff6dd 0 374.0px,#ebf5e3 0 375.0px,#eff6dd 0 377.0px,#eef6e0 0 378.0px,#edf6e1 0 379.0px,#f6f8ce 0 381.0px,#faf6c1 0 382.0px,#eaf4e6 0 383.0px,#f3f7d6 0 386.0px,#f5f8d2 0 387.0px,#fcf6bd 0 389.0px,#f2f7d8 0 390.5px,#f4f7d4 0 391.5px,#f9f7c7 0 393.5px,#f5f8d1 0 394.5px,#f0f6dc 0 395.5px,#f0f7db 0 397.5px,#e5f2eb 0 398.5px,#f1f7da 0 400.0px,#fdf0ae 0 401.0px,#feeaa3 0 402.0px,#fdefad 0 405.0px,#fcf5bb 0 406.5px,#f9f7c6 0 408.0px,#fee59a 0 409.5px,#f5f8d2 0 411.0px,#fdf5b9 0 412.0px,#fdefad 0 413.0px,#fdf5b8 0 414.0px,#fdf4b5 0 415.0px,#fdf0af 0 417.0px,#fcf5bc 0 418.0px,#fcf6bc 0 420.0px,#f9f7c6 0 421.0px,#fdefad 0 422.5px,#f6f8d1 0 425.5px,#faf6c4 0 427.5px,#f1f7d9 0 428.5px,#f3f7d6 0 430.5px,#fdd488 0 431.5px,#fba867 0 432.5px,#fdc57a 0 434.5px,#fba867 0 435.5px,#faa465 0 436.5px,#fdd286 0 438.5px,#fdc579 0 440.5px,#fee59a 0 441.5px,#fdf1b0 0 444.5px,#fee59a 0 446.5px,#fdf1b1 0 447.5px,#feeca8 0 449.5px,#fdd185 0 452.5px,#fdd084 0 453.5px,#fee9a2 0 455.5px,#fdeeac 0 458.5px,#fee59a 0 459.5px,#f7f8ce 0 461.5px,#fee79e 0 462.5px,#fee599 0 463.5px,#fcf5bb 0 464.5px,#feeba5 0 467.5px,#fdf4b7 0 468.5px,#f6f8d0 0 470.5px,#fee498 0 472.5px,#fee59a 0 475.5px,#fdc177 0 477.5px,#fdd589 0 478.5px,#fee296 0 480.5px,#fdd084 0 481.5px,#fdc97d 0 483.5px,#fcb770 0 486.5px,#fdc87c 0 489.5px,#fba767 0 492.5px,#f8955c 0 495.5px,#fcbc74 0 496.5px,#fdd387 0 499.5px,#f8985e 0 500.5px,#fbaa69 0 503.5px,#fa9f62 0 505.0px,#f99a5f 0 507.0px,#f27e50 0 510.0px,#f99e61 0 512.0px,#f38152 0 514.0px,#fdc77b 0 515.5px,#fbac69 0 516.5px,#fba867 0 518.5px,#fbaf6b 0 519.5px,#fee296 0 520.5px,#fcbe75 0 523.5px,#fcb871 0 524.5px,#fdcb7f 0 526.0px,#fee397 0 527.0px,#fcbd74 0 528.0px,#fedb8f 0 530.0px,#f48353 0 532.0px,#f0734a 0 533.0px,#fba766 0 534.5px,#fcbe75 0 537.5px,#fbb16d 0 539.5px,#fcb36e 0 540.5px,#fbb06c 0 541.5px,#fbb36e 0 542.5px,#fbaf6c 0 543.5px,#f48654 0 544.5px,#fcbe75 0 545.5px,#fdce82 0 547.0px,#fedc90 0 548.0px,#faa163 0 549.0px,#fbac69 0 550.0px,#ef7149 0 551.5px,#e55339 0 553.5px,#e14732 0 555.5px,#eb6542 0 558.5px,#fba766 0 559.5px,#fee397 0 561.0px,#fdf4b6 0 563.0px,#fee9a1 0 564.0px,#fdeeab 0 567.0px,#fee89f 0 569.0px,#fed88c 0 570.0px,#fbb26d 0 573.0px,#f48453 0 575.0px,#fdc77b 0 576.0px,#fdcb7f 0 577.5px,#fbaa68 0 580.5px,#fcba73 0 582.5px,#fbac69 0 585.5px,#fba666 0 586.5px,#fdca7e 0 588.0px,#fdd286 0 589.0px,#fbb26e 0 590.5px,#fdcf83 0 593.5px,#fdd286 0 595.5px,#fdcb7f 0 596.5px,#fedc90 0 597.5px,#fed589 0 600.5px,#fdf5b8 0 602.5px,#fee59a 0 604.0px,#feeba6 0 605.5px,#fee397 0 607.0px,#fdf1b1 0 609.0px,#fdefac 0 610.0px,#fee69b 0 612.0px,#fee498 0 613.0px,#fede92 0 614.0px,#fcf5ba 0 615.0px)"></div><div style="left:336.90px;background:linear-gradient(#f8985e 0 1.0px,#fbb06c 0 2.0px,#fbac69 0 3.5px,#f6905a 0 5.5px,#f6f8d1 0 6.5px,#faf6c2 0 7.5px,#fdefad 0 10.5px,#d5e8f1 0 12.5px,#c8dfed 0 13.5px,#b1d1e5 0 14.5px,#d5e8f1 0 16.5px,#bbd6e9 0 17.5px,#c0d9ea 0 19.5px,#cce2ee 0 20.5px,#bad5e8 0 21.5px,#b9d5e8 0 22.5px,#bcd7e9 0 24.0px,#c1dbeb 0 25.5px,#b7d4e7 0 26.5px,#c2dbeb 0 27.5px,#b2d1e6 0 28.5px,#c7dfed 0 30.5px,#ebf5e4 0 32.0px,#f2f7d9 0 33.0px,#f4f8d4 0 36.0px,#f3f7d6 0 38.0px,#f0f7db 0 39.0px,#e4f2eb 0 40.0px,#ebf5e4 0 42.0px,#f6f8d1 0 44.0px,#f5f8d1 0 46.0px,#f5f8d2 0 47.0px,#f2f7d7 0 49.0px,#eff6df 0 51.0px,#f3f7d5 0 52.5px,#eff6dd 0 53.5px,#e5f3ea 0 54.5px,#f1f7d9 0 55.5px,#e3f1ec 0 57.5px,#f2f7d8 0 60.5px,#f4f8d4 0 61.5px,#f1f7da 0 62.5px,#edf6e1 0 64.0px,#e8f4e8 0 65.0px,#edf5e2 0 67.0px,#ecf5e3 0 68.0px,#f4f8d4 0 70.0px,#eef6e0 0 71.0px,#f0f6dc 0 73.0px,#e9f4e6 0 76.0px,#eef6e0 0 78.0px,#f0f7dc 0 79.0px,#eef6e0 0 80.0px,#f3f7d5 0 82.0px,#f0f6dc 0 84.0px,#f6f8cf 0 86.0px,#eff6de 0 87.0px,#f4f7d5 0 88.0px,#eff6dd 0 89.0px,#f9f7c7 0 91.0px,#f9f7c6 0 93.0px,#fee8a0 0 94.0px,#f8f7ca 0 96.0px,#fdf0af 0 97.0px,#feeaa3 0 99.0px,#f8f7c8 0 101.5px,#f2f7d7 0 103.5px,#faf6c3 0 105.5px,#fdf5ba 0 107.0px,#fbf6be 0 110.0px,#fbf6bf 0 111.0px,#fcf5bb 0 112.5px,#f1f7da 0 114.5px,#fcf5bb 0 116.0px,#fdeeaa 0 117.0px,#fdf5b8 0 118.0px,#fcf6bd 0 119.0px,#feeca6 0 122.0px,#e7f3e9 0 123.0px,#f2f7d8 0 125.0px,#fdf4b6 0 128.0px,#fdf2b2 0 129.0px,#fdf3b4 0 130.0px,#f5f8d1 0 132.0px,#f5f8d2 0 133.0px,#f1f7d9 0 135.0px,#f4f7d4 0 136.5px,#f2f7d9 0 137.5px,#eaf4e5 0 139.5px,#e8f4e8 0 141.0px,#d1e5f0 0 142.0px,#e8f4e7 0 144.0px,#e5f2eb 0 145.0px,#e6f3ea 0 146.0px,#e5f2eb 0 148.0px,#e2f0ec 0 149.5px,#eaf5e5 0 150.5px,#edf6e1 0 153.5px,#f0f6dd 0 154.5px,#eef6df 0 155.5px,#e5f3ea 0 157.0px,#f0f6dd 0 158.5px,#f1f7d9 0 159.5px,#f5f8d2 0 161.5px,#e9f4e6 0 162.5px,#f5f8d1 0 165.5px,#f0f6dd 0 167.5px,#f1f7da 0 169.5px,#f2f7d8 0 175.5px,#f5f8d3 0 176.5px,#eef6df 0 177.5px,#eaf4e5 0 179.5px,#fbf6bf 0 180.5px,#f0f7dc 0 182.5px,#f3f7d6 0 184.0px,#f2f7d9 0 186.0px,#fdf3b4 0 189.0px,#f4f7d5 0 190.5px,#f6f8d0 0 191.5px,#f2f7d8 0 194.5px,#f0f6dc 0 195.5px,#f2f7d8 0 196.5px,#eff6dd 0 198.0px,#f0f6dd 0 200.0px,#f2f7d9 0 202.0px,#f0f6dd 0 203.0px,#edf6e1 0 204.0px,#f4f8d4 0 206.0px,#e7f4e8 0 208.0px,#e3f1ec 0 209.0px,#e4f1eb 0 211.0px,#e8f4e7 0 213.0px,#e3f1ec 0 215.0px,#eef6df 0 218.0px,#e9f4e6 0 219.5px,#e6f3ea 0 220.5px,#e4f1eb 0 222.5px,#dfefee 0 224.0px,#eef6e1 0 226.0px,#e9f4e7 0 228.0px,#daebf1 0 229.5px,#eaf4e6 0 230.5px,#ecf5e2 0 231.5px,#daebf1 0 233.5px,#d7e9f2 0 234.5px,#d8eaf2 0 236.0px,#e5f2eb 0 237.0px,#dcedf0 0 238.0px,#dfefee 0 241.0px,#e4f2eb 0 243.0px,#e9f4e7 0 245.0px,#d7e9f2 0 246.0px,#e6f3ea 0 247.5px,#d5e8f1 0 249.0px,#e2f0ec 0 252.0px,#ecf5e3 0 253.5px,#cee3ef 0 254.5px,#dbecf1 0 255.5px,#cce2ee 0 257.0px,#d8eaf2 0 258.5px,#e3f1eb 0 260.5px,#e4f2eb 0 261.5px,#e2f0ec 0 262.5px,#dfeeee 0 265.5px,#dcedf0 0 267.0px,#dcecf0 0 270.0px,#e2f0ed 0 272.0px,#ecf5e3 0 273.0px,#ebf5e4 0 275.0px,#e4f2eb 0 276.5px,#dfefee 0 277.5px,#d9ebf1 0 279.5px,#f3f7d6 0 281.0px,#eff6de 0 282.0px,#f5f8d3 0 283.0px,#fcf5bb 0 284.0px,#f7f8ce 0 285.0px,#fdf0ae 0 286.0px,#feeba6 0 287.0px,#f5f8d1 0 289.0px,#f3f7d5 0 290.0px,#f7f8cc 0 291.0px,#f5f8d2 0 292.5px,#f9f7c4 0 295.5px,#f4f8d4 0 297.5px,#f5f8d1 0 298.5px,#f2f7d9 0 299.5px,#fdf0af 0 300.5px,#fdefac 0 301.5px,#fdf4b6 0 302.5px,#fdf1b0 0 304.0px,#fdf5b9 0 306.0px,#fdf0ae 0 307.0px,#f8f7c8 0 309.0px,#edf6e1 0 311.0px,#f0f6dc 0 312.0px,#f2f7d8 0 313.0px,#f7f8cc 0 315.0px,#e8f4e8 0 318.0px,#f8f7ca 0 320.0px,#edf6e1 0 322.0px,#f3f7d5 0 324.0px,#f2f7d7 0 326.0px,#f3f7d6 0 328.0px,#ebf5e4 0 329.0px,#f8f7ca 0 330.5px,#f4f7d4 0 333.5px,#ddedef 0 336.5px,#e8f4e8 0 339.5px,#e0efee 0 341.5px,#e4f2eb 0 344.5px,#c8dfed 0 346.5px,#c4ddec 0 348.0px,#c8dfed 0 349.5px,#e9f4e6 0 351.0px,#e0efee 0 352.5px,#f0f6dc 0 353.5px,#e2f1ec 0 355.0px,#e6f3e9 0 357.0px,#e5f3ea 0 358.5px,#d5e8f1 0 359.5px,#e1f0ed 0 360.5px,#e5f2eb 0 361.5px,#daebf1 0 362.5px,#f0f7db 0 364.0px,#e5f2eb 0 365.0px,#e6f3ea 0 366.0px,#daebf1 0 367.0px,#eef6e0 0 369.0px,#eff6df 0 370.0px,#eaf4e5 0 371.0px,#f0f7dc 0 372.0px,#e4f1eb 0 374.0px,#e9f4e6 0 377.0px,#eff6de 0 378.0px,#e6f3ea 0 379.0px,#fdf2b3 0 381.0px,#f1f7d9 0 382.0px,#eaf4e5 0 383.0px,#f7f8cd 0 386.0px,#f4f8d3 0 387.0px,#f3f7d7 0 389.0px,#f1f7da 0 390.5px,#f0f7db 0 391.5px,#f0f6dc 0 393.5px,#f8f7ca 0 394.5px,#e8f4e7 0 395.5px,#f4f7d4 0 397.5px,#f4f7d5 0 398.5px,#eff6df 0 400.0px,#f9f7c4 0 401.0px,#f7f7cb 0 402.0px,#f9f7c4 0 405.0px,#e5f2eb 0 406.5px,#f6f8cf 0 408.0px,#f3f7d6 0 409.5px,#f1f7db 0 411.0px,#f4f7d4 0 412.0px,#eff6dd 0 413.0px,#f5f8d3 0 414.0px,#fbf6be 0 415.0px,#d9eaf2 0 417.0px,#f0f6dc 0 418.0px,#f3f7d5 0 420.0px,#f6f8d0 0 421.0px,#f7f7cc 0 422.5px,#f0f6dc 0 425.5px,#f1f7da 0 427.5px,#f9f7c5 0 428.5px,#f6f8cf 0 430.5px,#fee195 0 431.5px,#fee79e 0 432.5px,#fee195 0 434.5px,#fdd084 0 435.5px,#fee89f 0 436.5px,#f7f8cd 0 438.5px,#fee296 0 440.5px,#fee498 0 441.5px,#fba968 0 444.5px,#fedb8f 0 446.5px,#fba968 0 447.5px,#fdd185 0 449.5px,#fdd286 0 452.5px,#fdedaa 0 453.5px,#fed98d 0 455.5px,#fdc97d 0 458.5px,#fbb16d 0 459.5px,#fee599 0 461.5px,#fee8a0 0 462.5px,#fbf6be 0 463.5px,#feeca8 0 464.5px,#fee195 0 467.5px,#fdf1b0 0 468.5px,#fed88c 0 470.5px,#fedd91 0 472.5px,#fee69c 0 475.5px,#fdc579 0 477.5px,#fedd91 0 478.5px,#fbb26e 0 480.5px,#fede92 0 481.5px,#fdc177 0 483.5px,#fbb26d 0 486.5px,#fdce82 0 489.5px,#fdc77b 0 492.5px,#fdd084 0 495.5px,#fdce82 0 496.5px,#f8985e 0 499.5px,#fdc278 0 500.5px,#fcb56f 0 503.5px,#f8985e 0 505.0px,#fdc67a 0 507.0px,#fdcd81 0 510.0px,#fed88c 0 511.0px,#fdc67a 0 512.0px,#fcb971 0 514.0px,#fdcb7f 0 515.5px,#fdd488 0 516.5px,#feeaa4 0 518.5px,#fedd91 0 519.5px,#fcb972 0 520.5px,#fdd589 0 523.5px,#fbb26d 0 524.5px,#fcbc73 0 526.0px,#fdca7e 0 527.0px,#fed78b 0 528.0px,#fcb670 0 530.0px,#fedc90 0 532.0px,#faa465 0 533.0px,#faa565 0 534.5px,#f8985e 0 537.5px,#fcb56f 0 539.5px,#fbae6b 0 540.5px,#fcbc74 0 541.5px,#fcbb73 0 542.5px,#fcb670 0 543.5px,#ed6a45 0 544.5px,#fbae6b 0 545.5px,#fa9f62 0 547.0px,#fbb06c 0 548.0px,#fdcc80 0 549.0px,#fdc479 0 550.0px,#fbf6be 0 551.5px,#eff6de 0 553.5px,#faf6c4 0 555.5px,#f5f8d3 0 558.5px,#fbf6c0 0 559.5px,#fdce82 0 561.0px,#fee498 0 563.0px,#fee8a0 0 564.0px,#fdf1b1 0 567.0px,#fdd488 0 569.0px,#fedd91 0 570.0px,#f8f7c8 0 573.0px,#fdf2b3 0 575.0px,#fee59b 0 576.0px,#fdf3b4 0 577.5px,#fed88c 0 580.5px,#fee59a 0 582.5px,#fee9a1 0 585.5px,#fee599 0 586.5px,#fdeda8 0 588.0px,#fed98d 0 589.0px,#fee79e 0 590.5px,#fcbe75 0 593.5px,#faa565 0 595.5px,#fcbf75 0 596.5px,#ee6f48 0 597.5px,#dd3c2c 0 600.5px,#feeba4 0 602.5px,#feeaa3 0 604.0px,#fee195 0 605.5px,#fee89f 0 607.0px,#feda8e 0 609.0px,#fee8a0 0 610.0px,#f1f7da 0 612.0px,#fcf6bc 0 613.0px,#f7f8ce 0 614.0px,#fcf6bc 0 615.0px)"></div><div style="left:370.90px;background:linear-gradient(#f6f8cf 0 1.0px,#eef6e0 0 2.0px,#f0f7dc 0 3.5px,#eef6e0 0 5.5px,#eff6de 0 6.5px,#f8f7c8 0 7.5px,#ebf5e3 0 10.5px,#fee9a2 0 12.5px,#fedc90 0 13.5px,#fdeeac 0 14.5px,#fdf2b2 0 16.5px,#fdf2b1 0 17.5px,#fdcf83 0 19.5px,#fdeeab 0 20.5px,#faf6c2 0 21.5px,#fdf2b3 0 22.5px,#fdf1b0 0 24.0px,#faf6c3 0 25.5px,#fcf5ba 0 26.5px,#fdeeaa 0 27.5px,#fee498 0 28.5px,#f8f7c9 0 30.5px,#f4f8d4 0 32.0px,#fbf6c0 0 33.0px,#faf6c2 0 36.0px,#f6f8d0 0 38.0px,#f9f7c5 0 39.0px,#fdf4b6 0 40.0px,#f0f6dc 0 42.0px,#e7f3e9 0 44.0px,#f3f7d7 0 46.0px,#eaf5e4 0 47.0px,#f2f7d7 0 49.0px,#feeca7 0 51.0px,#fcf6bd 0 52.5px,#fbf6bd 0 53.5px,#fcf5bc 0 54.5px,#f5f8d1 0 55.5px,#fbf6bf 0 57.5px,#f7f8cc 0 60.5px,#f7f8ce 0 61.5px,#fdeda8 0 62.5px,#f1f7da 0 64.0px,#f2f7d7 0 65.0px,#f5f8d1 0 67.0px,#edf6e1 0 68.0px,#f3f7d6 0 70.0px,#f9f7c5 0 71.0px,#fee195 0 73.0px,#f4f7d5 0 76.0px,#f8f7ca 0 78.0px,#fdf4b7 0 79.0px,#fdf1b0 0 80.0px,#fdf3b4 0 82.0px,#f8f7ca 0 84.0px,#f2f7d8 0 86.0px,#fee9a1 0 87.0px,#fdf5ba 0 88.0px,#fdf2b2 0 89.0px,#fee8a0 0 91.0px,#fee9a2 0 93.0px,#fee79d 0 94.0px,#fdf0af 0 96.0px,#fcf5bc 0 97.0px,#f6f8d0 0 99.0px,#fee79e 0 100.0px,#fcf6bc 0 101.5px,#fdd084 0 103.5px,#fcb670 0 105.5px,#fbb06c 0 107.0px,#e6f3ea 0 110.0px,#cce2ee 0 111.0px,#d2e6f0 0 112.5px,#ebf5e4 0 114.5px,#e7f3e8 0 116.0px,#e7f3e9 0 118.0px,#e8f4e8 0 119.0px,#f2f7d8 0 122.0px,#f8f7ca 0 123.0px,#fcf6bd 0 125.0px,#fdf4b6 0 128.0px,#f9f7c7 0 129.0px,#fdf5b8 0 130.0px,#fbf6c0 0 132.0px,#fcf5ba 0 133.0px,#f0f7db 0 135.0px,#faf6c2 0 136.5px,#f5f8d2 0 137.5px,#faf6c2 0 139.5px,#fdf1b1 0 141.0px,#fee59a 0 142.0px,#fdc378 0 144.0px,#fdc479 0 145.0px,#feda8e 0 146.0px,#fee094 0 149.5px,#eef6e0 0 150.5px,#f4f8d3 0 153.5px,#f4f7d4 0 154.5px,#eaf4e5 0 155.5px,#f1f7db 0 157.0px,#eaf4e5 0 158.5px,#e9f4e6 0 159.5px,#ebf5e4 0 161.5px,#e9f4e6 0 162.5px,#ecf5e3 0 165.5px,#ecf5e2 0 167.5px,#f0f6dd 0 169.5px,#f5f8d1 0 172.5px,#eef6df 0 175.5px,#f5f8d2 0 176.5px,#f7f8cd 0 177.5px,#f4f8d4 0 179.5px,#e3f1ec 0 180.5px,#e7f3e9 0 182.5px,#f5f8d2 0 184.0px,#e5f2ea 0 186.0px,#f5f8d3 0 189.0px,#ebf5e3 0 190.5px,#eef6e0 0 191.5px,#ebf5e4 0 194.5px,#f1f7da 0 195.5px,#f8f7ca 0 196.5px,#e3f1ec 0 198.0px,#f1f7da 0 202.0px,#f6f8d0 0 203.0px,#fcf5ba 0 204.0px,#f2f7d9 0 206.0px,#fdf4b7 0 208.0px,#faf6c2 0 209.0px,#f2f7d8 0 213.0px,#fdf4b7 0 215.0px,#eaf4e5 0 218.0px,#f2f7d7 0 219.5px,#edf6e1 0 220.5px,#eaf5e5 0 222.5px,#f2f7d9 0 224.0px,#eaf4e5 0 226.0px,#eff6dd 0 227.0px,#f0f6dd 0 228.0px,#edf6e1 0 229.5px,#f0f6dc 0 230.5px,#fdf0af 0 231.5px,#f8f7c9 0 233.5px,#f9f7c7 0 234.5px,#f6f8d1 0 236.0px,#f7f8cd 0 237.0px,#f3f7d7 0 238.0px,#ebf5e4 0 241.0px,#fcf5ba 0 242.0px,#feeaa3 0 243.0px,#fdf4b5 0 245.0px,#fcf5bc 0 246.0px,#fdf1b1 0 247.5px,#feeca8 0 249.0px,#eaf4e5 0 252.0px,#faf6c1 0 253.5px,#f6f8cf 0 254.5px,#f0f6dd 0 255.5px,#fdf1b1 0 258.5px,#fdf4b7 0 260.5px,#f2f7d7 0 261.5px,#ecf5e3 0 262.5px,#e0efed 0 265.5px,#e8f4e8 0 267.0px,#e8f4e7 0 270.0px,#ebf5e4 0 272.0px,#f7f8ce 0 273.0px,#f0f6dd 0 275.0px,#f4f8d4 0 276.5px,#ebf5e3 0 277.5px,#fbf6c0 0 279.5px,#f7f8ce 0 281.0px,#fbf6c0 0 282.0px,#e2f0ec 0 283.0px,#f0f6dd 0 284.0px,#ebf5e4 0 285.0px,#f5f8d2 0 286.0px,#ecf5e3 0 287.0px,#f5f8d3 0 289.0px,#f4f8d4 0 290.0px,#e2f0ec 0 291.0px,#f0f7dc 0 292.5px,#eef6df 0 295.5px,#dbecf0 0 297.5px,#f1f7da 0 298.5px,#eaf5e5 0 299.5px,#f1f7db 0 300.5px,#edf6e1 0 301.5px,#f0f7dc 0 302.5px,#e8f4e7 0 304.0px,#f1f7da 0 306.0px,#fcf5bc 0 307.0px,#f1f7db 0 309.0px,#f4f7d5 0 311.0px,#eff6df 0 312.0px,#f4f8d3 0 313.0px,#fdf1b0 0 315.0px,#eff6de 0 318.0px,#f4f7d5 0 320.0px,#fee79d 0 322.0px,#fdeeac 0 324.0px,#fee89f 0 326.0px,#fee69c 0 328.0px,#fee296 0 329.0px,#fdeeaa 0 330.5px,#feda8e 0 333.5px,#fdc479 0 336.5px,#fee599 0 339.5px,#fdcc80 0 341.5px,#fed78b 0 344.5px,#fdc579 0 346.5px,#fdc177 0 348.0px,#fedd91 0 349.5px,#fee195 0 351.0px,#fdf4b6 0 352.5px,#feda8e 0 353.5px,#feeba5 0 355.0px,#fdc077 0 357.0px,#fdd488 0 358.5px,#fed68a 0 359.5px,#fedc90 0 360.5px,#fedd91 0 361.5px,#fee9a1 0 362.5px,#fee094 0 364.0px,#fdd387 0 365.0px,#fee8a0 0 366.0px,#fede92 0 367.0px,#feeaa3 0 369.0px,#fee599 0 370.0px,#fed98d 0 371.0px,#fed78b 0 372.0px,#fedf93 0 374.0px,#fdc97d 0 375.0px,#fdc076 0 377.0px,#fee9a1 0 378.0px,#fdcd81 0 379.0px,#fbad6a 0 381.0px,#f7905a 0 382.0px,#fcba72 0 383.0px,#fed68a 0 386.0px,#f7945c 0 387.0px,#fcba73 0 389.0px,#fa9e61 0 390.5px,#fbb06c 0 391.5px,#fdc378 0 393.5px,#fdc77b 0 394.5px,#fcbb73 0 395.5px,#f58c57 0 397.5px,#fcb46f 0 398.5px,#fcbf76 0 400.0px,#fdc177 0 401.0px,#fbab69 0 402.0px,#fdc67a 0 405.0px,#faa565 0 406.5px,#fdcf83 0 408.0px,#fdc87c 0 409.5px,#fdd084 0 411.0px,#fdcc80 0 412.0px,#fcb670 0 413.0px,#fdcb7f 0 414.0px,#fdd185 0 415.0px,#fedd91 0 417.0px,#fdeeab 0 418.0px,#fbad6a 0 420.0px,#de3f2d 0 421.0px,#f27c4f 0 422.5px,#e75a3c 0 425.5px,#d9372a 0 427.5px,#ec6844 0 428.5px,#f1764c 0 430.5px,#e8f4e7 0 431.5px,#e6f3ea 0 432.5px,#e4f2eb 0 434.5px,#daebf1 0 435.5px,#f0f6dd 0 436.5px,#f1f7db 0 438.5px,#e7f3e9 0 440.5px,#daebf1 0 441.5px,#d7e9f2 0 444.5px,#d7eaf2 0 446.5px,#dcedef 0 447.5px,#e2f0ed 0 449.5px,#e5f3ea 0 452.5px,#cfe4ef 0 453.5px,#e9f4e6 0 455.5px,#e3f1ec 0 458.5px,#e4f2eb 0 459.5px,#f3f7d6 0 461.5px,#f7f8cc 0 462.5px,#eff6df 0 463.5px,#e9f4e7 0 464.5px,#f2f7d9 0 467.5px,#f1f7da 0 468.5px,#e7f3e9 0 470.5px,#f2f7d8 0 472.5px,#fdf2b2 0 475.5px,#fdf4b6 0 477.5px,#f7f8ce 0 478.5px,#f3f7d7 0 480.5px,#fdf5b8 0 481.5px,#f0f7db 0 483.5px,#fdf3b4 0 486.5px,#fdf1b0 0 489.5px,#f1f7da 0 495.5px,#f5f8d2 0 496.5px,#f3f7d6 0 499.5px,#f2f7d8 0 500.5px,#faf6c1 0 503.5px,#f3f7d7 0 505.0px,#edf5e2 0 507.0px,#f3f7d7 0 510.0px,#f6f8d1 0 511.0px,#f4f8d3 0 512.0px,#f0f7dc 0 514.0px,#f4f8d4 0 515.5px,#fbf6be 0 516.5px,#f6f8d1 0 518.5px,#f4f7d5 0 519.5px,#fcf5bb 0 520.5px,#f6f8d1 0 523.5px,#eef6df 0 524.5px,#f2f7d9 0 526.0px,#e9f4e7 0 527.0px,#eff6de 0 528.0px,#eef6e0 0 530.0px,#eef6df 0 532.0px,#e0efee 0 533.0px,#ecf5e2 0 534.5px,#e7f4e8 0 537.5px,#f6f8d1 0 539.5px,#f9f7c7 0 540.5px,#ebf5e4 0 541.5px,#ecf5e2 0 542.5px,#f6f8cf 0 543.5px,#fbf6bd 0 544.5px,#f0f6dd 0 545.5px,#f5f8d2 0 547.0px,#e9f4e7 0 548.0px,#fcf6bd 0 549.0px,#f9f7c6 0 550.0px,#fdf1b1 0 551.5px,#f4f8d4 0 553.5px,#f3f7d6 0 555.5px,#f4f7d4 0 558.5px,#f2f7d9 0 559.5px,#fdf3b5 0 561.0px,#fdf3b4 0 563.0px,#fdefac 0 564.0px,#fdf2b3 0 567.0px,#feeba5 0 569.0px,#fdf0ae 0 570.0px,#fdf4b7 0 573.0px,#fdf2b3 0 575.0px,#fee9a2 0 576.0px,#fdedaa 0 577.5px,#fdf3b5 0 580.5px,#f4f7d5 0 582.5px,#f0f7dc 0 585.5px,#fcf5bb 0 586.5px,#fdeeab 0 588.0px,#f9f7c5 0 589.0px,#fdf1b0 0 590.5px,#f6f8cf 0 593.5px,#f2f7d7 0 595.5px,#fdf2b3 0 596.5px,#fdefad 0 597.5px,#fee79d 0 600.5px,#fbf6bd 0 602.5px,#ecf5e2 0 604.0px,#eff6dd 0 605.5px,#f4f8d3 0 607.0px,#f5f8d3 0 609.0px,#f8f7c8 0 610.0px,#faf6c2 0 612.0px,#f6f8cf 0 613.0px,#fbf6be 0 614.0px,#fdf2b3 0 615.0px)"></div><div style="left:404.90px;background:linear-gradient(#e0efed 0 1.0px,#eef6df 0 2.0px,#e8f4e8 0 3.5px,#e3f1ec 0 5.5px,#f0f6dd 0 6.5px,#edf5e2 0 7.5px,#e2f1ec 0 10.5px,#fbf6bf 0 12.5px,#fdf2b2 0 13.5px,#fdefad 0 14.5px,#f3f7d6 0 16.5px,#fdf0af 0 17.5px,#feeca8 0 19.5px,#fdf0ae 0 20.5px,#fee9a2 0 21.5px,#feeca8 0 22.5px,#feeca7 0 24.0px,#fdefad 0 25.5px,#fdf4b5 0 26.5px,#fedf93 0 27.5px,#feeba6 0 28.5px,#fdf4b7 0 30.5px,#eef6e0 0 32.0px,#f0f6dc 0 33.0px,#eaf5e4 0 36.0px,#f6f8d0 0 38.0px,#eff6de 0 39.0px,#f3f7d7 0 40.0px,#e7f3e8 0 42.0px,#e2f1ec 0 44.0px,#f0f7dc 0 46.0px,#ecf5e3 0 47.0px,#eff6df 0 49.0px,#e2f0ec 0 51.0px,#f7f7cb 0 52.5px,#f2f7d8 0 53.5px,#f7f8ce 0 54.5px,#ebf5e4 0 55.5px,#f3f7d7 0 57.5px,#eef6e0 0 60.5px,#f1f7db 0 61.5px,#ebf5e4 0 62.5px,#f0f6dc 0 64.0px,#eef6e0 0 65.0px,#eaf4e6 0 67.0px,#f1f7da 0 68.0px,#edf5e2 0 70.0px,#f6f8d1 0 71.0px,#eef6df 0 73.0px,#f1f7da 0 76.0px,#ebf5e4 0 78.0px,#eff6de 0 79.0px,#ecf5e3 0 80.0px,#f4f7d5 0 82.0px,#faf6c1 0 84.0px,#ebf5e4 0 86.0px,#eff6de 0 87.0px,#f1f7d9 0 88.0px,#f2f7d8 0 89.0px,#fbf6c0 0 91.0px,#f3f7d7 0 93.0px,#f8f7ca 0 94.0px,#f5f8d2 0 96.0px,#f8f7c9 0 97.0px,#f0f7db 0 99.0px,#f6f8d1 0 100.0px,#eff6de 0 101.5px,#f4f7d5 0 103.5px,#f8f7c8 0 105.5px,#d2e6f0 0 107.0px,#cee4ef 0 110.0px,#d5e8f1 0 111.0px,#cee3ef 0 112.5px,#d4e7f1 0 114.5px,#c2dbeb 0 116.0px,#edf6e1 0 118.0px,#f0f6dc 0 119.0px,#eaf5e4 0 122.0px,#f1f7d9 0 123.0px,#f9f7c6 0 125.0px,#eef6e0 0 128.0px,#f6f8cf 0 129.0px,#f7f8cd 0 130.0px,#f4f8d3 0 135.0px,#fdf1b0 0 136.5px,#fdf3b4 0 137.5px,#faf6c1 0 139.5px,#edf6e1 0 141.0px,#f1f7da 0 142.0px,#e9f4e7 0 144.0px,#f0f7db 0 145.0px,#f4f8d3 0 146.0px,#e4f2eb 0 148.0px,#ecf5e3 0 149.5px,#e6f3ea 0 150.5px,#f4f8d4 0 153.5px,#eff6de 0 155.5px,#e4f2eb 0 157.0px,#f1f7db 0 158.5px,#f1f7da 0 159.5px,#e3f1eb 0 161.5px,#f4f7d4 0 162.5px,#edf6e1 0 165.5px,#eff6de 0 167.5px,#f2f7d8 0 169.5px,#ddedef 0 172.5px,#deeeee 0 175.5px,#dcecf0 0 176.5px,#eef6e0 0 177.5px,#e7f3e9 0 179.5px,#edf6e1 0 180.5px,#e7f3e9 0 182.5px,#f0f7dc 0 184.0px,#eaf4e5 0 186.0px,#f6f8d0 0 189.0px,#ecf5e2 0 191.5px,#f1f7d9 0 194.5px,#eef6df 0 195.5px,#f0f6dd 0 196.5px,#f1f7db 0 198.0px,#eef6df 0 200.0px,#e9f4e6 0 202.0px,#f2f7d8 0 204.0px,#f0f6dd 0 206.0px,#f2f7d8 0 208.0px,#e6f3ea 0 209.0px,#ecf5e3 0 211.0px,#eaf5e5 0 213.0px,#f0f7db 0 215.0px,#ecf5e3 0 218.0px,#e9f4e7 0 219.5px,#f1f7d9 0 222.5px,#edf6e2 0 224.0px,#f9f7c6 0 226.0px,#eff6dd 0 227.0px,#f3f7d5 0 228.0px,#f1f7da 0 229.5px,#ecf5e2 0 230.5px,#f8f7cb 0 231.5px,#ebf5e4 0 233.5px,#f0f6dc 0 234.5px,#f4f7d4 0 236.0px,#fdf4b6 0 237.0px,#f9f7c6 0 238.0px,#fcf5bc 0 241.0px,#f2f7d9 0 242.0px,#f2f7d7 0 243.0px,#f1f7d9 0 245.0px,#f5f8d3 0 246.0px,#f6f8d1 0 247.5px,#fdf4b5 0 249.0px,#edf6e1 0 252.0px,#f2f7d7 0 253.5px,#fdf5ba 0 254.5px,#e1f0ed 0 255.5px,#f0f7db 0 257.0px,#f1f7da 0 258.5px,#eef6e0 0 260.5px,#eaf5e5 0 261.5px,#ecf5e3 0 262.5px,#eff6de 0 265.5px,#f1f7da 0 267.0px,#e3f1eb 0 270.0px,#eef6e0 0 272.0px,#f4f7d5 0 273.0px,#eef6df 0 275.0px,#f0f7db 0 276.5px,#edf6e1 0 277.5px,#dcecf0 0 279.5px,#e0efed 0 281.0px,#deeeef 0 282.0px,#d1e5f0 0 283.0px,#e7f4e8 0 284.0px,#f1f7db 0 285.0px,#ddeeef 0 286.0px,#edf6e1 0 287.0px,#e7f4e8 0 289.0px,#e3f1eb 0 290.0px,#edf6e1 0 291.0px,#eff6dd 0 292.5px,#edf6e1 0 295.5px,#e7f3e9 0 297.5px,#f2f7d9 0 298.5px,#e8f4e8 0 299.5px,#e9f4e6 0 300.5px,#eaf5e4 0 301.5px,#f2f7d7 0 302.5px,#e8f4e8 0 304.0px,#eff6dd 0 306.0px,#ecf5e2 0 307.0px,#f5f8d3 0 309.0px,#f3f7d5 0 311.0px,#f7f8cd 0 312.0px,#f5f8d1 0 313.0px,#f7f8ce 0 315.0px,#f1f7da 0 318.0px,#fdefae 0 320.0px,#fdefad 0 322.0px,#f7f8cd 0 324.0px,#edf6e1 0 326.0px,#fdf0ae 0 328.0px,#f9f7c6 0 329.0px,#feeca7 0 330.5px,#fee59a 0 333.5px,#fee79d 0 336.5px,#fee69d 0 339.5px,#fedc90 0 341.5px,#fee498 0 344.5px,#fbab69 0 346.5px,#fee094 0 348.0px,#fdcd81 0 349.5px,#fdc278 0 351.0px,#feeca7 0 352.5px,#fbb36e 0 353.5px,#fdd387 0 355.0px,#fedb8f 0 357.0px,#f68e58 0 358.5px,#fcbc74 0 359.5px,#fcb871 0 360.5px,#f8985e 0 361.5px,#fcbc74 0 362.5px,#fdc177 0 364.0px,#fbaf6c 0 365.0px,#fcb771 0 366.0px,#fdcc80 0 367.0px,#fcbd74 0 369.0px,#fdcc80 0 370.0px,#fedc90 0 371.0px,#fdcb7f 0 372.0px,#fbaf6b 0 374.0px,#fdcc80 0 375.0px,#fdc67a 0 377.0px,#fdd286 0 378.0px,#feeba4 0 379.0px,#fbb26e 0 381.0px,#fdc97d 0 382.0px,#fdc77b 0 383.0px,#fdc97d 0 386.0px,#fbaa68 0 387.0px,#fcbe75 0 389.0px,#f7925b 0 390.5px,#fdcc80 0 391.5px,#f7945b 0 393.5px,#fdc87c 0 394.5px,#f58c57 0 395.5px,#fdc378 0 397.5px,#fdd488 0 398.5px,#fbb26d 0 400.0px,#fed78b 0 401.0px,#fbaf6b 0 402.0px,#fbb16d 0 405.0px,#fdcc80 0 406.5px,#fbab69 0 408.0px,#fdc177 0 409.5px,#fcbe75 0 411.0px,#fee499 0 412.0px,#fedc90 0 413.0px,#fee397 0 414.0px,#fbaf6b 0 415.0px,#fdd286 0 417.0px,#fdd488 0 418.0px,#fcb871 0 420.0px,#edf6e1 0 421.0px,#e4f2eb 0 422.5px,#dfefee 0 425.5px,#f5f8d3 0 427.5px,#eef6e0 0 428.5px,#e4f2eb 0 430.5px,#e1f0ed 0 431.5px,#e4f2eb 0 432.5px,#e5f3ea 0 434.5px,#eaf5e5 0 435.5px,#d7e9f2 0 436.5px,#ebf5e4 0 438.5px,#e9f4e7 0 440.5px,#f8f7ca 0 441.5px,#faf6c4 0 444.5px,#fdf3b4 0 446.5px,#f1f7da 0 447.5px,#f6f8d0 0 449.5px,#eff6de 0 452.5px,#f0f6dd 0 453.5px,#eff6de 0 455.5px,#f0f6dd 0 458.5px,#f3f7d7 0 459.5px,#f4f8d3 0 461.5px,#f3f7d7 0 462.5px,#eff6df 0 463.5px,#f8f7c8 0 464.5px,#f4f7d5 0 467.5px,#eef6e0 0 468.5px,#f4f7d4 0 470.5px,#eff6de 0 472.5px,#f1f7db 0 475.5px,#f2f7d7 0 477.5px,#fdf4b6 0 478.5px,#f5f8d3 0 480.5px,#fdf3b5 0 481.5px,#fdf2b3 0 483.5px,#f3f7d6 0 486.5px,#fdf5b9 0 489.5px,#f8f7ca 0 492.5px,#f9f7c5 0 495.5px,#fdf4b7 0 496.5px,#f3f7d6 0 499.5px,#f6f8d0 0 500.5px,#ecf5e3 0 503.5px,#f2f7d7 0 505.0px,#f9f7c7 0 507.0px,#fcf6bd 0 510.0px,#f1f7da 0 511.0px,#f5f8d2 0 512.0px,#f3f7d6 0 515.5px,#f2f7d9 0 516.5px,#f2f7d8 0 518.5px,#ebf5e4 0 519.5px,#e2f0ec 0 520.5px,#f0f6dd 0 523.5px,#e5f3ea 0 524.5px,#e6f3ea 0 526.0px,#e7f3e8 0 527.0px,#eff6de 0 528.0px,#f8f7c7 0 530.0px,#eff6de 0 532.0px,#f0f6dd 0 533.0px,#f6f8d0 0 534.5px,#e3f1ec 0 537.5px,#f0f6dc 0 540.5px,#f6f8d0 0 541.5px,#f5f8d2 0 542.5px,#f8f7c9 0 543.5px,#f6f8cf 0 544.5px,#f7f7cb 0 545.5px,#f3f7d7 0 547.0px,#f6f8d1 0 548.0px,#f5f8d2 0 549.0px,#f1f7db 0 550.0px,#f4f8d3 0 551.5px,#f6f8cf 0 553.5px,#feeba6 0 555.5px,#f2f7d8 0 558.5px,#f5f8d1 0 559.5px,#fbf6c0 0 561.0px,#fdeeaa 0 563.0px,#fdf2b2 0 564.0px,#f7f8cc 0 567.0px,#feeca7 0 569.0px,#f8f7c8 0 570.0px,#fcf5bb 0 573.0px,#fee8a0 0 575.0px,#fdf2b3 0 576.0px,#fdf1b1 0 577.5px,#feeca7 0 580.5px,#feeaa3 0 582.5px,#fdf2b2 0 585.5px,#fdeda8 0 586.5px,#fee498 0 588.0px,#feeaa4 0 589.0px,#fee69c 0 590.5px,#fdf5b9 0 593.5px,#fcf5ba 0 595.5px,#feeba6 0 596.5px,#fdf0af 0 597.5px,#fdefad 0 600.5px,#f8f7ca 0 602.5px,#fee69c 0 604.0px,#fbf6be 0 605.5px,#fdf5b7 0 607.0px,#fdeda9 0 609.0px,#fee499 0 610.0px,#fdeda8 0 612.0px,#fbf6c0 0 613.0px,#fbf6bf 0 614.0px,#fee69b 0 615.0px)"></div><div style="left:438.90px;background:linear-gradient(#f4f7d4 0 1.0px,#ebf5e4 0 2.0px,#f0f7dc 0 3.5px,#f7f7cb 0 5.5px,#e5f2eb 0 6.5px,#e9f4e7 0 7.5px,#f4f8d4 0 10.5px,#f4f8d3 0 12.5px,#fdf4b7 0 13.5px,#fdf3b3 0 14.5px,#faf6c2 0 16.5px,#fee69b 0 17.5px,#fdeeaa 0 19.5px,#fee89f 0 20.5px,#fdeda8 0 21.5px,#feeca7 0 22.5px,#feeba5 0 24.0px,#fdeda8 0 25.5px,#faf6c3 0 26.5px,#feeba6 0 27.5px,#fdf1b0 0 28.5px,#feeba5 0 30.5px,#f5f8d2 0 32.0px,#f8f7c9 0 33.0px,#eef6e0 0 36.0px,#f0f7dc 0 38.0px,#f9f7c6 0 39.0px,#f8f7c8 0 40.0px,#faf6c2 0 42.0px,#f2f7d9 0 44.0px,#ebf5e4 0 46.0px,#fdf2b3 0 47.0px,#f5f8d1 0 49.0px,#f1f7db 0 51.0px,#eef6e0 0 52.5px,#f2f7d8 0 53.5px,#eff6dd 0 54.5px,#f6f8d0 0 55.5px,#edf6e1 0 57.5px,#f0f7db 0 60.5px,#f3f7d7 0 61.5px,#e9f4e7 0 62.5px,#f6f8d0 0 64.0px,#f0f6dd 0 65.0px,#ecf5e3 0 67.0px,#f5f8d3 0 68.0px,#edf6e1 0 70.0px,#e7f3e9 0 71.0px,#e9f4e6 0 73.0px,#f5f8d1 0 76.0px,#e4f2eb 0 78.0px,#e9f4e7 0 79.0px,#e3f1ec 0 80.0px,#eef6df 0 82.0px,#f1f7db 0 86.0px,#e4f1eb 0 87.0px,#ebf5e4 0 88.0px,#f0f6dc 0 89.0px,#f5f8d2 0 91.0px,#eaf5e4 0 93.0px,#f9f7c7 0 94.0px,#f1f7db 0 96.0px,#f8f7cb 0 97.0px,#eff6de 0 99.0px,#f4f7d5 0 100.0px,#edf5e2 0 101.5px,#e2f0ec 0 103.5px,#edf6e1 0 105.5px,#b8d5e8 0 107.0px,#a9cce3 0 110.0px,#bcd7e9 0 111.0px,#bdd8e9 0 112.5px,#c2dbeb 0 114.5px,#afd0e5 0 116.0px,#bdd8e9 0 117.0px,#e5f3ea 0 118.0px,#eef6e0 0 119.0px,#eaf5e5 0 122.0px,#ebf5e4 0 123.0px,#eff6dd 0 125.0px,#ebf5e3 0 128.0px,#e5f2eb 0 129.0px,#ecf5e3 0 130.0px,#eef6df 0 132.0px,#f1f7da 0 133.0px,#eef6e0 0 135.0px,#e9f4e7 0 136.5px,#f6f8d0 0 137.5px,#f1f7d9 0 139.5px,#f2f7d8 0 141.0px,#f0f6dc 0 142.0px,#f0f7dc 0 144.0px,#f1f7da 0 145.0px,#fdf1b1 0 146.0px,#fcf6bc 0 148.0px,#f4f7d4 0 149.5px,#eef6df 0 150.5px,#e3f1ec 0 153.5px,#e0efed 0 154.5px,#e8f4e7 0 155.5px,#f1f7db 0 157.0px,#e6f3ea 0 158.5px,#f7f8ce 0 159.5px,#eef6df 0 161.5px,#ecf5e3 0 162.5px,#edf6e1 0 165.5px,#e7f3e8 0 167.5px,#f0f7db 0 169.5px,#e7f3e9 0 172.5px,#f0f6dd 0 175.5px,#e8f4e7 0 176.5px,#eef6df 0 177.5px,#e8f4e8 0 179.5px,#e4f2eb 0 180.5px,#f7f8ce 0 182.5px,#f1f7da 0 184.0px,#f0f6dd 0 186.0px,#f1f7d9 0 189.0px,#eff6dd 0 190.5px,#e1f0ed 0 191.5px,#f6f8cf 0 194.5px,#eaf5e5 0 195.5px,#dfefee 0 196.5px,#eaf5e5 0 198.0px,#f0f7dc 0 200.0px,#e5f3ea 0 202.0px,#fdf5b8 0 203.0px,#eff6de 0 204.0px,#ebf5e4 0 206.0px,#f2f7d9 0 208.0px,#f1f7db 0 209.0px,#e8f4e7 0 211.0px,#f3f7d6 0 213.0px,#eff6de 0 215.0px,#f6f8d1 0 218.0px,#f4f8d3 0 219.5px,#f5f8d2 0 220.5px,#e5f2eb 0 222.5px,#f2f7d8 0 224.0px,#eff6df 0 226.0px,#e8f4e7 0 227.0px,#e9f4e6 0 228.0px,#f6f8d0 0 229.5px,#eef6e0 0 230.5px,#e6f3ea 0 231.5px,#e5f3ea 0 233.5px,#e3f1ec 0 234.5px,#ebf5e4 0 236.0px,#e0efed 0 237.0px,#deeeef 0 238.0px,#e5f2eb 0 241.0px,#ebf5e3 0 242.0px,#e7f3e9 0 243.0px,#f5f8d3 0 245.0px,#eef6e1 0 246.0px,#e8f4e7 0 247.5px,#f3f7d6 0 249.0px,#edf6e1 0 252.0px,#fcf6bd 0 253.5px,#f1f7db 0 254.5px,#f5f8d2 0 255.5px,#f3f7d7 0 257.0px,#fdf4b7 0 258.5px,#f2f7d9 0 260.5px,#eef6df 0 261.5px,#f1f7da 0 262.5px,#dfeeee 0 265.5px,#eaf5e5 0 267.0px,#e7f3e9 0 270.0px,#ddeeef 0 272.0px,#e5f2eb 0 273.0px,#e2f1ec 0 275.0px,#e1f0ed 0 276.5px,#ecf5e2 0 277.5px,#eef6e1 0 279.5px,#ddedef 0 281.0px,#e2f1ec 0 282.0px,#ddedef 0 283.0px,#daebf1 0 284.0px,#e7f3e9 0 285.0px,#ddedef 0 286.0px,#d8eaf2 0 287.0px,#e0efed 0 289.0px,#cee3ef 0 290.0px,#eff6dd 0 291.0px,#ecf5e2 0 292.5px,#f2f7d8 0 295.5px,#e6f3ea 0 297.5px,#eff6de 0 298.5px,#f1f7db 0 299.5px,#f8f7c8 0 300.5px,#f6f8d1 0 301.5px,#ecf5e3 0 302.5px,#fdefac 0 304.0px,#e3f1ec 0 306.0px,#f2f7d8 0 307.0px,#eaf5e5 0 309.0px,#faf6c2 0 311.0px,#feeba5 0 312.0px,#faf6c1 0 313.0px,#f5f8d3 0 315.0px,#f6f8d1 0 318.0px,#fdf1b1 0 320.0px,#f8f7c8 0 322.0px,#feeaa3 0 324.0px,#feeaa2 0 326.0px,#fdf4b7 0 328.0px,#faf6c2 0 329.0px,#fee296 0 330.5px,#fdca7e 0 333.5px,#fdd387 0 336.5px,#fed68a 0 339.5px,#fdeeab 0 341.5px,#fdd387 0 344.5px,#fdc177 0 346.5px,#fee69b 0 348.0px,#fdd589 0 349.5px,#fee397 0 351.0px,#fee195 0 352.5px,#fed68a 0 355.0px,#fdcf83 0 357.0px,#fedc90 0 358.5px,#fed68a 0 359.5px,#fcb871 0 360.5px,#fcb56f 0 361.5px,#fed68a 0 362.5px,#fdd488 0 364.0px,#fdc77b 0 365.0px,#fbb06c 0 366.0px,#fbaa68 0 367.0px,#fdc177 0 369.0px,#fcbe75 0 370.0px,#feeaa4 0 371.0px,#fcba73 0 372.0px,#fbad6a 0 374.0px,#fed88c 0 375.0px,#fdcf83 0 377.0px,#fdc77b 0 378.0px,#fed78b 0 379.0px,#f07249 0 381.0px,#e55238 0 382.0px,#e75a3c 0 383.0px,#f8955c 0 386.0px,#f0744a 0 387.0px,#f1784d 0 389.0px,#faa062 0 390.5px,#fdc076 0 391.5px,#fbaa68 0 393.5px,#fdcb7f 0 394.5px,#fdd084 0 395.5px,#fcb972 0 397.5px,#f38252 0 398.5px,#fcb670 0 400.0px,#f99c60 0 401.0px,#fedd91 0 402.0px,#fdd286 0 405.0px,#fdc77b 0 406.5px,#fdc479 0 408.0px,#fbb26d 0 409.5px,#f8985e 0 411.0px,#f27b4e 0 412.0px,#fdc378 0 413.0px,#f48554 0 414.0px,#f58a56 0 415.0px,#faa062 0 417.0px,#f68c58 0 418.0px,#fbb26d 0 420.0px,#f7f7cc 0 421.0px,#fdf3b4 0 422.5px,#f8f7ca 0 425.5px,#f7f8cc 0 427.5px,#fdefad 0 428.5px,#fdeeaa 0 430.5px,#e6f3e9 0 432.5px,#d1e5f0 0 434.5px,#e9f4e6 0 435.5px,#e3f1ec 0 436.5px,#d5e8f1 0 438.5px,#daecf1 0 440.5px,#e7f3e9 0 441.5px,#ddedef 0 444.5px,#e5f2eb 0 446.5px,#dcedf0 0 447.5px,#e5f3ea 0 449.5px,#f1f7da 0 452.5px,#f5f8d2 0 453.5px,#eff6dd 0 455.5px,#f2f7d8 0 458.5px,#f7f8cd 0 459.5px,#fdf2b2 0 461.5px,#f4f8d3 0 462.5px,#fdefae 0 463.5px,#fdf3b5 0 464.5px,#f2f7d7 0 467.5px,#eff6de 0 468.5px,#fcf5ba 0 470.5px,#eff6dd 0 472.5px,#f0f7db 0 475.5px,#f2f7d8 0 477.5px,#eaf5e4 0 478.5px,#e7f4e8 0 480.5px,#f9f7c6 0 481.5px,#f3f7d6 0 483.5px,#edf5e2 0 486.5px,#f7f8ce 0 489.5px,#f1f7d9 0 492.5px,#eff6de 0 495.5px,#ecf5e2 0 496.5px,#fcf5bb 0 499.5px,#f1f7da 0 500.5px,#ebf5e4 0 505.0px,#edf6e1 0 507.0px,#f3f7d6 0 510.0px,#eaf4e5 0 511.0px,#ecf5e2 0 512.0px,#eff6de 0 514.0px,#eaf5e4 0 515.5px,#e5f2eb 0 516.5px,#ebf5e4 0 518.5px,#edf6e1 0 519.5px,#f3f7d6 0 520.5px,#fcf5ba 0 523.5px,#e8f4e8 0 524.5px,#e9f4e6 0 526.0px,#eaf4e5 0 527.0px,#edf6e1 0 528.0px,#f2f7d8 0 530.0px,#edf6e2 0 532.0px,#eef6e0 0 533.0px,#e3f1ec 0 534.5px,#ebf5e4 0 537.5px,#e7f3e9 0 539.5px,#fbf6bd 0 540.5px,#f3f7d6 0 542.5px,#ebf5e3 0 543.5px,#ecf5e2 0 544.5px,#f1f7da 0 545.5px,#f0f7dc 0 547.0px,#f1f7da 0 548.0px,#eff6de 0 549.0px,#f3f7d6 0 550.0px,#e9f4e6 0 551.5px,#fbf6bd 0 553.5px,#f1f7d9 0 555.5px,#eff6dd 0 558.5px,#f6f8d0 0 559.5px,#fdefac 0 561.0px,#faf6c1 0 563.0px,#fdf1b0 0 564.0px,#fdf3b4 0 567.0px,#fdf5b9 0 569.0px,#f9f7c5 0 570.0px,#fdf4b5 0 573.0px,#fdeda9 0 575.0px,#fdf5b8 0 576.0px,#fdf0af 0 577.5px,#fee094 0 580.5px,#fdeeab 0 582.5px,#fee79e 0 585.5px,#fee8a0 0 586.5px,#f4f7d5 0 588.0px,#fdf1b1 0 589.0px,#feeaa4 0 590.5px,#fcf5ba 0 593.5px,#fdf1b0 0 595.5px,#fdf3b5 0 596.5px,#f5f8d2 0 597.5px,#fdf1b1 0 600.5px,#f7f7cc 0 602.5px,#fdeda9 0 604.0px,#fdf3b4 0 605.5px,#fcf5bc 0 607.0px,#fdeda9 0 610.0px,#fdf1b1 0 612.0px,#fdf3b4 0 613.0px,#fdefad 0 614.0px,#fdf3b5 0 615.0px)"></div></div>
</body></html>
